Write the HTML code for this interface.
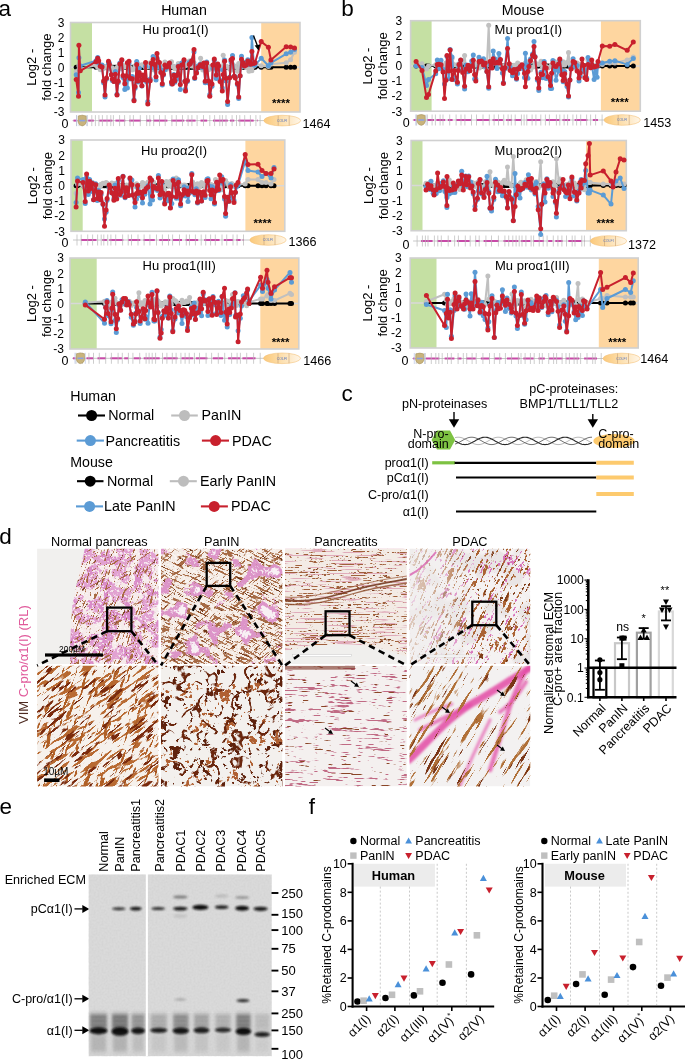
<!DOCTYPE html>
<html><head><meta charset="utf-8"><title>Figure</title>
<style>html,body{margin:0;padding:0;background:#fff;overflow:hidden;} svg{display:block;}</style></head>
<body><svg width="685" height="1060" viewBox="0 0 685 1060" font-family="'Liberation Sans', Arial, Helvetica, sans-serif">
<rect width="685" height="1060" fill="#fff"/>
<defs>
<linearGradient id="ellg" x1="0" x2="1" y1="0" y2="0"><stop offset="0" stop-color="#fbc97a"/><stop offset="0.55" stop-color="#fde2b5"/><stop offset="1" stop-color="#fff6e8"/></linearGradient>
<marker id="m000000" markerUnits="userSpaceOnUse" markerWidth="6" markerHeight="6" refX="3" refY="3" overflow="visible"><circle cx="3" cy="3" r="2.5" fill="#000000"/></marker>
<marker id="mc0c0c0" markerUnits="userSpaceOnUse" markerWidth="6" markerHeight="6" refX="3" refY="3" overflow="visible"><circle cx="3" cy="3" r="2.5" fill="#c0c0c0"/></marker>
<marker id="m5b9bd5" markerUnits="userSpaceOnUse" markerWidth="6" markerHeight="6" refX="3" refY="3" overflow="visible"><circle cx="3" cy="3" r="2.5" fill="#5b9bd5"/></marker>
<marker id="mc8202d" markerUnits="userSpaceOnUse" markerWidth="6" markerHeight="6" refX="3" refY="3" overflow="visible"><circle cx="3" cy="3" r="2.5" fill="#c8202d"/></marker>
</defs>
<text x="-1.6" y="15.9" font-size="22.5" text-anchor="start" fill="#000" font-weight="normal" >a</text>
<text x="341.2" y="15.8" font-size="22.5" text-anchor="start" fill="#000" font-weight="normal" >b</text>
<text x="184.0" y="14.9" font-size="14.2" text-anchor="middle" fill="#000" font-weight="normal" >Human</text>
<text x="523.0" y="14.9" font-size="14.2" text-anchor="middle" fill="#000" font-weight="normal" >Mouse</text>
<rect x="70.5" y="22.5" width="229.5" height="89.5" fill="#fff"/>
<rect x="70.5" y="22.5" width="21.5" height="89.5" fill="#c5e0a3"/>
<rect x="261.2" y="22.5" width="38.80000000000001" height="89.5" fill="#fed6a0"/>
<line x1="70.5" y1="67.25" x2="300" y2="67.25" stroke="#d8d8d8" stroke-width="1.5"/>
<rect x="70.5" y="22.5" width="229.5" height="89.5" fill="none" stroke="#d0d0d0" stroke-width="1.6"/>
<text x="64.5" y="26.8" font-size="12" text-anchor="end" fill="#000" font-weight="normal" >3</text>
<text x="64.5" y="41.7" font-size="12" text-anchor="end" fill="#000" font-weight="normal" >2</text>
<text x="64.5" y="56.6" font-size="12" text-anchor="end" fill="#000" font-weight="normal" >1</text>
<text x="64.5" y="71.5" font-size="12" text-anchor="end" fill="#000" font-weight="normal" >0</text>
<text x="64.5" y="86.5" font-size="12" text-anchor="end" fill="#000" font-weight="normal" >-1</text>
<text x="64.5" y="101.4" font-size="12" text-anchor="end" fill="#000" font-weight="normal" >-2</text>
<text x="64.5" y="116.3" font-size="12" text-anchor="end" fill="#000" font-weight="normal" >-3</text>
<text transform="translate(36.0,67.2) rotate(-90)" font-size="13" text-anchor="middle">Log2 -</text>
<text transform="translate(51.0,67.2) rotate(-90)" font-size="13" text-anchor="middle">fold change</text>
<text x="142.6" y="34.2" font-size="13" text-anchor="start" fill="#000" font-weight="normal" >Hu proα1(I)</text>
<text x="281.0" y="106.5" font-size="11.5" text-anchor="middle" fill="#000" font-weight="bold" >****</text>
<polyline points="76.2,67.2 78.5,67.2 78.9,67.2 80.3,67.2 96.0,67.2 97.7,67.2 98.7,67.2 100.3,67.2 102.0,67.2 103.6,67.2 105.0,67.2 106.5,67.2 108.5,67.2 109.3,67.2 111.4,67.2 112.3,67.2 113.9,67.2 115.4,67.2 117.0,67.2 118.2,67.2 119.9,67.2 121.8,67.2 123.0,67.2 124.8,67.2 126.5,67.2 127.4,67.2 129.0,67.2 130.1,67.2 132.3,67.2 134.0,67.2 135.1,67.2 136.7,67.2 137.9,67.2 139.2,67.2 141.9,67.2 142.6,67.2 144.3,67.2 145.6,67.2 146.7,67.2 147.8,67.2 150.2,67.2 151.2,67.2 153.1,67.2 154.1,67.2 156.0,67.2 157.0,67.2 159.4,67.2 160.8,67.2 162.3,67.2 163.4,67.2 164.9,67.2 166.4,67.2 168.1,67.2 169.4,67.2 171.5,67.2 172.4,67.2 173.9,67.2 174.8,67.2 176.5,67.2 178.3,67.2 180.3,67.2 181.8,67.2 184.0,67.2 184.9,67.2 185.5,67.2 187.4,67.2 189.3,67.2 190.3,67.2 191.6,67.2 194.0,67.2 194.7,67.2 196.5,67.2 198.1,67.2 200.0,67.2 200.6,67.2 202.8,67.2 203.9,67.2 205.2,67.2 206.7,67.2 208.7,67.2 209.8,67.2 212.0,67.2 212.8,67.2 214.3,67.2 216.3,67.2 217.8,67.2 218.6,67.2 220.1,67.2 222.3,67.2 223.2,67.2 224.6,67.2 226.0,67.2 227.6,67.2 229.8,67.2 231.0,67.2 232.5,67.2 234.3,67.2 235.3,67.2 237.4,67.2 238.7,67.2 240.1,67.2 241.5,67.2 243.2,67.2 244.4,67.2 246.3,67.2 247.8,67.2 249.0,67.2 250.8,67.2 251.9,67.2 253.9,67.2 255.0,67.2 261.2,67.2 268.4,67.2 270.9,67.2 286.2,67.2 290.6,67.2 294.5,67.2" fill="none" stroke="#000000" stroke-width="2" stroke-linejoin="round" marker-start="url(#m000000)" marker-mid="url(#m000000)" marker-end="url(#m000000)"/>
<polyline points="76.2,71.7 78.5,70.2 78.9,65.8 80.3,68.7 96.0,65.3 97.7,67.4 98.7,65.4 100.3,69.7 102.0,69.2 103.6,68.5 105.0,66.4 106.5,67.1 108.5,68.6 109.3,65.3 111.4,68.6 112.3,67.8 113.9,71.6 115.4,69.7 117.0,67.6 118.2,66.8 119.9,63.5 121.8,68.7 123.0,65.3 124.8,67.1 126.5,65.4 127.4,66.5 129.0,68.6 130.1,67.6 132.3,70.0 134.0,69.0 135.1,65.7 136.7,67.8 137.9,63.9 139.2,65.5 141.9,64.7 142.6,65.3 144.3,65.2 145.6,67.4 146.7,66.7 147.8,66.4 150.2,62.7 151.2,66.8 153.1,69.7 154.1,64.3 156.0,67.4 157.0,64.1 159.4,63.3 160.8,66.2 162.3,71.7 163.4,71.0 164.9,62.1 166.4,69.5 168.1,66.9 169.4,66.3 171.5,61.8 172.4,66.6 173.9,66.2 174.8,68.8 176.5,68.5 178.3,63.5 180.3,65.4 181.8,66.5 184.0,65.5 184.9,65.9 185.5,64.8 187.4,65.0 189.3,61.1 190.3,62.9 191.6,65.9 194.0,62.7 194.7,66.9 196.5,67.5 198.1,66.6 200.0,66.9 200.6,58.3 202.8,70.1 203.9,65.2 205.2,69.8 206.7,66.6 208.7,69.8 209.8,67.5 212.0,66.4 212.8,65.4 214.3,65.8 216.3,67.2 217.8,68.7 218.6,65.9 220.1,67.5 222.3,66.9 223.2,55.3 224.6,66.9 226.0,66.4 227.6,66.9 229.8,69.1 231.0,70.2 232.5,64.3 234.3,66.1 235.3,66.3 237.4,71.3 238.7,63.6 240.1,67.4 241.5,67.1 243.2,65.7 244.4,62.2 246.3,67.7 247.8,63.3 249.0,71.3 250.8,68.4 251.9,70.7 253.9,66.2 255.0,62.5 261.2,65.8 268.4,66.5 270.9,64.3 286.2,62.8 290.6,59.8 294.5,52.3" fill="none" stroke="#c0c0c0" stroke-width="2" stroke-linejoin="round" marker-start="url(#mc0c0c0)" marker-mid="url(#mc0c0c0)" marker-end="url(#mc0c0c0)"/>
<polyline points="76.2,74.7 78.5,92.6 78.9,57.7 80.3,65.8 96.0,60.8 97.7,57.5 98.7,62.9 100.3,66.1 102.0,65.1 103.6,82.8 105.0,97.1 106.5,78.9 108.5,63.0 109.3,63.1 111.4,74.8 112.3,80.5 113.9,81.3 115.4,71.5 117.0,94.2 118.2,82.6 119.9,63.0 121.8,60.6 123.0,77.6 124.8,89.6 126.5,78.1 127.4,88.1 129.0,63.5 130.1,78.9 132.3,76.6 134.0,99.7 135.1,88.3 136.7,61.6 137.9,81.9 139.2,68.3 141.9,85.9 142.6,76.3 144.3,80.0 145.6,66.2 146.7,82.1 147.8,101.6 150.2,79.1 151.2,67.2 153.1,56.4 154.1,67.9 156.0,79.9 157.0,57.9 159.4,66.8 160.8,70.1 162.3,85.0 163.4,74.9 164.9,69.8 166.4,67.9 168.1,66.5 169.4,63.2 171.5,84.1 172.4,81.8 173.9,74.6 174.8,82.2 176.5,79.3 178.3,66.1 180.3,89.6 181.8,63.1 184.0,61.0 184.9,80.9 185.5,89.1 187.4,81.6 189.3,62.5 190.3,63.2 191.6,60.7 194.0,52.0 194.7,78.6 196.5,71.7 198.1,66.0 200.0,64.3 200.6,66.7 202.8,67.8 203.9,66.0 205.2,82.8 206.7,62.1 208.7,82.9 209.8,94.6 212.0,86.3 212.8,68.6 214.3,60.4 216.3,78.4 217.8,65.9 218.6,69.7 220.1,80.3 222.3,88.0 223.2,69.9 224.6,60.0 226.0,80.9 227.6,104.5 229.8,76.9 231.0,61.7 232.5,55.5 234.3,76.1 235.3,76.9 237.4,84.5 238.7,98.6 240.1,76.0 241.5,56.3 243.2,66.3 244.4,62.8 246.3,62.7 247.8,59.8 249.0,64.5 250.8,60.6 251.9,37.4 253.9,64.7 255.0,65.2 261.2,58.3 268.4,65.8 270.9,62.8 286.2,53.8 290.6,52.3 294.5,49.4" fill="none" stroke="#5b9bd5" stroke-width="2" stroke-linejoin="round" marker-start="url(#m5b9bd5)" marker-mid="url(#m5b9bd5)" marker-end="url(#m5b9bd5)"/>
<polyline points="76.2,79.6 78.5,96.2 78.9,45.3 80.3,70.8 96.0,61.7 97.7,58.2 98.7,60.8 100.3,66.2 102.0,67.0 103.6,81.1 105.0,95.0 106.5,78.1 108.5,61.3 109.3,64.4 111.4,74.8 112.3,79.1 113.9,81.6 115.4,74.2 117.0,95.0 118.2,81.2 119.9,63.9 121.8,59.7 123.0,75.6 124.8,83.7 126.5,75.8 127.4,62.7 129.0,61.3 130.1,78.2 132.3,78.8 134.0,100.8 135.1,86.6 136.7,64.4 137.9,81.1 139.2,72.4 141.9,85.7 142.6,75.0 144.3,79.7 145.6,62.5 146.7,80.2 147.8,104.1 150.2,80.7 151.2,63.2 153.1,59.6 154.1,64.2 156.0,76.7 157.0,53.5 159.4,62.6 160.8,72.5 162.3,83.7 163.4,74.3 164.9,65.1 166.4,67.1 168.1,66.2 169.4,63.1 171.5,82.1 172.4,84.1 173.9,75.2 174.8,81.1 176.5,75.6 178.3,66.6 180.3,84.6 181.8,65.1 184.0,59.8 184.9,81.4 185.5,91.1 187.4,80.6 189.3,64.6 190.3,63.4 191.6,61.1 194.0,49.6 194.7,77.7 196.5,73.0 198.1,67.6 200.0,65.5 200.6,64.8 202.8,66.4 203.9,63.0 205.2,81.3 206.7,63.1 208.7,81.0 209.8,96.3 212.0,84.0 212.8,65.0 214.3,59.1 216.3,74.9 217.8,63.9 218.6,66.0 220.1,81.4 222.3,91.1 223.2,74.4 224.6,61.3 226.0,78.2 227.6,101.6 229.8,77.8 231.0,59.8 232.5,58.5 234.3,76.3 235.3,77.9 237.4,83.6 238.7,97.1 240.1,75.8 241.5,59.2 243.2,62.9 244.4,66.1 246.3,64.9 247.8,61.1 249.0,62.2 250.8,64.2 251.9,51.6 253.9,63.5 255.0,62.8 261.2,41.6 268.4,47.3 270.9,59.9 286.2,46.8 290.6,47.1 294.5,47.9" fill="none" stroke="#c8202d" stroke-width="2" stroke-linejoin="round" marker-start="url(#mc8202d)" marker-mid="url(#mc8202d)" marker-end="url(#mc8202d)"/>
<line x1="72.5" y1="120.6" x2="267.8" y2="120.6" stroke="#c8c8c8" stroke-width="1"/>
<line x1="73.5" y1="120.6" x2="77.2" y2="120.6" stroke="#c84aa8" stroke-width="2"/>
<line x1="88.2" y1="120.6" x2="93.8" y2="120.6" stroke="#c84aa8" stroke-width="2"/>
<line x1="99.2" y1="120.6" x2="112.4" y2="120.6" stroke="#c84aa8" stroke-width="2"/>
<line x1="115.4" y1="120.6" x2="125.3" y2="120.6" stroke="#c84aa8" stroke-width="2"/>
<line x1="129.1" y1="120.6" x2="140.9" y2="120.6" stroke="#c84aa8" stroke-width="2"/>
<line x1="146.1" y1="120.6" x2="151.2" y2="120.6" stroke="#c84aa8" stroke-width="2"/>
<line x1="153.3" y1="120.6" x2="167.4" y2="120.6" stroke="#c84aa8" stroke-width="2"/>
<line x1="171.1" y1="120.6" x2="184.3" y2="120.6" stroke="#c84aa8" stroke-width="2"/>
<line x1="186.3" y1="120.6" x2="195.6" y2="120.6" stroke="#c84aa8" stroke-width="2"/>
<line x1="200.5" y1="120.6" x2="207.2" y2="120.6" stroke="#c84aa8" stroke-width="2"/>
<line x1="213.0" y1="120.6" x2="227.8" y2="120.6" stroke="#c84aa8" stroke-width="2"/>
<line x1="230.0" y1="120.6" x2="234.3" y2="120.6" stroke="#c84aa8" stroke-width="2"/>
<line x1="238.4" y1="120.6" x2="253.7" y2="120.6" stroke="#c84aa8" stroke-width="2"/>
<line x1="257.2" y1="120.6" x2="257.8" y2="120.6" stroke="#c84aa8" stroke-width="2"/>
<line x1="76.5" y1="115.1" x2="76.5" y2="126.1" stroke="#b8b8b8" stroke-width="0.7"/>
<line x1="79.1" y1="115.1" x2="79.1" y2="126.1" stroke="#b8b8b8" stroke-width="0.7"/>
<line x1="82.6" y1="115.1" x2="82.6" y2="126.1" stroke="#b8b8b8" stroke-width="0.7"/>
<line x1="87.1" y1="115.1" x2="87.1" y2="126.1" stroke="#b8b8b8" stroke-width="0.7"/>
<line x1="91.8" y1="115.1" x2="91.8" y2="126.1" stroke="#b8b8b8" stroke-width="0.7"/>
<line x1="95.4" y1="115.1" x2="95.4" y2="126.1" stroke="#b8b8b8" stroke-width="0.7"/>
<line x1="98.9" y1="115.1" x2="98.9" y2="126.1" stroke="#b8b8b8" stroke-width="0.7"/>
<line x1="102.4" y1="115.1" x2="102.4" y2="126.1" stroke="#b8b8b8" stroke-width="0.7"/>
<line x1="107.0" y1="115.1" x2="107.0" y2="126.1" stroke="#b8b8b8" stroke-width="0.7"/>
<line x1="110.8" y1="115.1" x2="110.8" y2="126.1" stroke="#b8b8b8" stroke-width="0.7"/>
<line x1="113.4" y1="115.1" x2="113.4" y2="126.1" stroke="#b8b8b8" stroke-width="0.7"/>
<line x1="119.6" y1="115.1" x2="119.6" y2="126.1" stroke="#b8b8b8" stroke-width="0.7"/>
<line x1="124.6" y1="115.1" x2="124.6" y2="126.1" stroke="#b8b8b8" stroke-width="0.7"/>
<line x1="130.0" y1="115.1" x2="130.0" y2="126.1" stroke="#b8b8b8" stroke-width="0.7"/>
<line x1="133.4" y1="115.1" x2="133.4" y2="126.1" stroke="#b8b8b8" stroke-width="0.7"/>
<line x1="140.3" y1="115.1" x2="140.3" y2="126.1" stroke="#b8b8b8" stroke-width="0.7"/>
<line x1="146.7" y1="115.1" x2="146.7" y2="126.1" stroke="#b8b8b8" stroke-width="0.7"/>
<line x1="149.8" y1="115.1" x2="149.8" y2="126.1" stroke="#b8b8b8" stroke-width="0.7"/>
<line x1="153.7" y1="115.1" x2="153.7" y2="126.1" stroke="#b8b8b8" stroke-width="0.7"/>
<line x1="159.5" y1="115.1" x2="159.5" y2="126.1" stroke="#b8b8b8" stroke-width="0.7"/>
<line x1="165.2" y1="115.1" x2="165.2" y2="126.1" stroke="#b8b8b8" stroke-width="0.7"/>
<line x1="171.9" y1="115.1" x2="171.9" y2="126.1" stroke="#b8b8b8" stroke-width="0.7"/>
<line x1="176.3" y1="115.1" x2="176.3" y2="126.1" stroke="#b8b8b8" stroke-width="0.7"/>
<line x1="182.5" y1="115.1" x2="182.5" y2="126.1" stroke="#b8b8b8" stroke-width="0.7"/>
<line x1="188.1" y1="115.1" x2="188.1" y2="126.1" stroke="#b8b8b8" stroke-width="0.7"/>
<line x1="191.9" y1="115.1" x2="191.9" y2="126.1" stroke="#b8b8b8" stroke-width="0.7"/>
<line x1="197.1" y1="115.1" x2="197.1" y2="126.1" stroke="#b8b8b8" stroke-width="0.7"/>
<line x1="203.5" y1="115.1" x2="203.5" y2="126.1" stroke="#b8b8b8" stroke-width="0.7"/>
<line x1="209.8" y1="115.1" x2="209.8" y2="126.1" stroke="#b8b8b8" stroke-width="0.7"/>
<line x1="214.6" y1="115.1" x2="214.6" y2="126.1" stroke="#b8b8b8" stroke-width="0.7"/>
<line x1="219.8" y1="115.1" x2="219.8" y2="126.1" stroke="#b8b8b8" stroke-width="0.7"/>
<line x1="222.4" y1="115.1" x2="222.4" y2="126.1" stroke="#b8b8b8" stroke-width="0.7"/>
<line x1="226.0" y1="115.1" x2="226.0" y2="126.1" stroke="#b8b8b8" stroke-width="0.7"/>
<line x1="232.1" y1="115.1" x2="232.1" y2="126.1" stroke="#b8b8b8" stroke-width="0.7"/>
<line x1="236.5" y1="115.1" x2="236.5" y2="126.1" stroke="#b8b8b8" stroke-width="0.7"/>
<line x1="239.8" y1="115.1" x2="239.8" y2="126.1" stroke="#b8b8b8" stroke-width="0.7"/>
<line x1="244.7" y1="115.1" x2="244.7" y2="126.1" stroke="#b8b8b8" stroke-width="0.7"/>
<line x1="250.4" y1="115.1" x2="250.4" y2="126.1" stroke="#b8b8b8" stroke-width="0.7"/>
<line x1="255.9" y1="115.1" x2="255.9" y2="126.1" stroke="#b8b8b8" stroke-width="0.7"/>
<line x1="260.1" y1="115.1" x2="260.1" y2="126.1" stroke="#b8b8b8" stroke-width="0.7"/>
<line x1="76.7" y1="115.1" x2="76.7" y2="126.1" stroke="#b8c4e8" stroke-width="0.7"/>
<line x1="87.0" y1="115.1" x2="87.0" y2="126.1" stroke="#b8c4e8" stroke-width="0.7"/>
<path d="M78.3,116.0 Q82.2,114.39999999999999 86.10000000000001,116.0 L86.3,122.1 Q85.2,125.89999999999999 82.2,125.89999999999999 Q79.2,125.89999999999999 78.10000000000001,122.1 Z" fill="#c9b47c" stroke="#a8925a" stroke-width="0.6"/>
<line x1="79.2" y1="120.6" x2="85.2" y2="120.6" stroke="#8fa2dc" stroke-width="1.6"/>
<ellipse cx="282.2" cy="120.6" rx="18.4" ry="5.3" fill="url(#ellg)" stroke="#f5c37a" stroke-width="0.6"/>
<line x1="278.2" y1="115.6" x2="278.2" y2="125.6" stroke="#c8a070" stroke-width="0.6"/>
<line x1="289.2" y1="115.6" x2="289.2" y2="125.6" stroke="#c8a070" stroke-width="0.6"/>
<text x="282.2" y="121.9" font-size="3.5" fill="#5070c0" text-anchor="middle">COLFI</text>
<text x="68.5" y="127.7" font-size="12.5" text-anchor="end" fill="#000" font-weight="normal" >0</text>
<text x="302.5" y="127.9" font-size="12.6" text-anchor="start" fill="#000" font-weight="normal" >1464</text>
<rect x="71" y="140" width="213.8" height="91.30000000000001" fill="#fff"/>
<rect x="71" y="140" width="11.700000000000003" height="91.30000000000001" fill="#c5e0a3"/>
<rect x="245.4" y="140" width="39.400000000000006" height="91.30000000000001" fill="#fed6a0"/>
<line x1="71" y1="185.65" x2="284.8" y2="185.65" stroke="#d8d8d8" stroke-width="1.5"/>
<rect x="71" y="140" width="213.8" height="91.30000000000001" fill="none" stroke="#d0d0d0" stroke-width="1.6"/>
<text x="65.0" y="144.3" font-size="12" text-anchor="end" fill="#000" font-weight="normal" >3</text>
<text x="65.0" y="159.5" font-size="12" text-anchor="end" fill="#000" font-weight="normal" >2</text>
<text x="65.0" y="174.7" font-size="12" text-anchor="end" fill="#000" font-weight="normal" >1</text>
<text x="65.0" y="190.0" font-size="12" text-anchor="end" fill="#000" font-weight="normal" >0</text>
<text x="65.0" y="205.2" font-size="12" text-anchor="end" fill="#000" font-weight="normal" >-1</text>
<text x="65.0" y="220.4" font-size="12" text-anchor="end" fill="#000" font-weight="normal" >-2</text>
<text x="65.0" y="235.6" font-size="12" text-anchor="end" fill="#000" font-weight="normal" >-3</text>
<text transform="translate(36.5,185.7) rotate(-90)" font-size="13" text-anchor="middle">Log2 -</text>
<text transform="translate(51.5,185.7) rotate(-90)" font-size="13" text-anchor="middle">fold change</text>
<text x="141.0" y="155.2" font-size="13" text-anchor="start" fill="#000" font-weight="normal" >Hu proα2(I)</text>
<text x="262.5" y="226.6" font-size="11.5" text-anchor="middle" fill="#000" font-weight="bold" >****</text>
<polyline points="76.1,185.7 77.5,185.7 83.0,185.7 85.2,185.7 86.6,185.7 88.3,185.7 89.6,185.7 90.8,185.7 92.4,185.7 93.6,185.7 95.7,185.7 97.3,185.7 98.6,185.7 100.5,185.7 101.1,185.7 103.0,185.7 104.5,185.7 106.1,185.7 107.1,185.7 109.2,185.7 110.2,185.7 111.8,185.7 113.9,185.7 115.0,185.7 116.7,185.7 118.3,185.7 119.7,185.7 121.0,185.7 123.0,185.7 123.9,185.7 125.1,185.7 126.6,185.7 128.6,185.7 130.0,185.7 131.9,185.7 132.6,185.7 135.0,185.7 136.5,185.7 137.6,185.7 138.9,185.7 140.2,185.7 142.5,185.7 143.7,185.7 144.8,185.7 146.2,185.7 148.0,185.7 150.0,185.7 151.5,185.7 152.5,185.7 153.7,185.7 155.2,185.7 157.5,185.7 158.4,185.7 160.0,185.7 161.8,185.7 162.8,185.7 164.7,185.7 166.4,185.7 167.7,185.7 168.8,185.7 170.4,185.7 171.8,185.7 173.1,185.7 174.9,185.7 176.3,185.7 178.5,185.7 179.2,185.7 180.6,185.7 182.4,185.7 184.1,185.7 185.6,185.7 187.4,185.7 188.0,185.7 189.6,185.7 191.8,185.7 192.6,185.7 194.9,185.7 196.3,185.7 197.5,185.7 199.2,185.7 200.4,185.7 201.5,185.7 203.7,185.7 205.1,185.7 207.0,185.7 208.0,185.7 209.7,185.7 211.0,185.7 212.2,185.7 214.5,185.7 215.5,185.7 216.7,185.7 218.7,185.7 219.7,185.7 221.7,185.7 223.0,185.7 224.5,185.7 225.6,185.7 227.8,185.7 228.9,185.7 230.6,185.7 231.8,185.7 234.0,185.7 235.4,185.7 236.1,185.7 238.0,185.7 245.2,185.7 248.0,185.7 258.0,185.7 262.0,185.7 266.0,185.7 271.0,185.7 274.0,185.7" fill="none" stroke="#000000" stroke-width="2" stroke-linejoin="round" marker-start="url(#m000000)" marker-mid="url(#m000000)" marker-end="url(#m000000)"/>
<polyline points="76.1,193.3 77.5,184.1 83.0,185.7 85.2,183.7 86.6,187.6 88.3,181.1 89.6,183.8 90.8,184.5 92.4,182.5 93.6,187.4 95.7,187.6 97.3,185.5 98.6,185.8 100.5,186.0 101.1,184.2 103.0,183.3 104.5,183.5 106.1,182.5 107.1,183.2 109.2,187.5 110.2,184.8 111.8,182.9 113.9,184.0 115.0,183.5 116.7,183.2 118.3,188.1 119.7,185.6 121.0,188.1 123.0,187.2 123.9,187.0 125.1,187.3 126.6,184.9 128.6,185.4 130.0,185.2 131.9,184.1 132.6,185.9 135.0,186.0 136.5,183.8 137.6,184.9 138.9,188.4 140.2,185.9 142.5,182.4 143.7,186.6 144.8,183.8 146.2,188.4 148.0,182.0 150.0,187.1 151.5,184.3 152.5,184.2 153.7,182.3 155.2,187.2 157.5,188.4 158.4,186.6 160.0,183.1 161.8,185.5 162.8,185.8 164.7,189.9 166.4,181.6 167.7,184.1 168.8,185.6 170.4,181.2 171.8,186.4 173.1,186.7 174.9,185.4 176.3,178.0 178.5,182.7 179.2,184.6 180.6,184.7 182.4,185.4 184.1,185.1 185.6,185.2 187.4,188.9 188.0,188.6 189.6,187.8 191.8,186.3 192.6,182.1 194.9,184.4 196.3,186.5 197.5,183.8 199.2,185.9 200.4,186.4 201.5,182.6 203.7,183.9 205.1,186.2 207.0,187.9 208.0,187.0 209.7,186.7 211.0,184.4 212.2,185.2 214.5,188.6 215.5,179.6 216.7,189.4 218.7,183.1 219.7,183.4 221.7,189.7 223.0,185.2 224.5,181.4 225.6,180.6 227.8,183.4 228.9,186.0 230.6,187.6 231.8,183.6 234.0,185.8 235.4,185.0 236.1,185.9 238.0,184.5 245.2,184.1 248.0,179.6 258.0,179.6 262.0,182.6 266.0,182.6 271.0,184.1 274.0,179.6" fill="none" stroke="#c0c0c0" stroke-width="2" stroke-linejoin="round" marker-start="url(#mc0c0c0)" marker-mid="url(#mc0c0c0)" marker-end="url(#mc0c0c0)"/>
<polyline points="76.1,202.4 77.5,178.0 83.0,179.6 85.2,203.6 86.6,177.3 88.3,194.4 89.6,179.6 90.8,191.6 92.4,182.9 93.6,199.8 95.7,183.8 97.3,200.4 98.6,190.6 100.5,200.0 101.1,194.5 103.0,204.6 104.5,219.1 106.1,212.2 107.1,200.3 109.2,186.7 110.2,189.8 111.8,192.9 113.9,198.5 115.0,184.9 116.7,197.8 118.3,180.7 119.7,191.2 121.0,195.2 123.0,176.3 123.9,190.6 125.1,197.7 126.6,189.7 128.6,195.3 130.0,178.9 131.9,180.1 132.6,195.0 135.0,207.0 136.5,199.0 137.6,187.8 138.9,192.5 140.2,195.5 142.5,203.1 143.7,193.1 144.8,194.3 146.2,188.9 148.0,185.8 150.0,203.9 151.5,179.9 152.5,200.1 153.7,187.8 155.2,188.7 157.5,190.5 158.4,175.6 160.0,198.1 161.8,183.0 162.8,193.8 164.7,202.5 166.4,196.1 167.7,200.8 168.8,193.5 170.4,207.5 171.8,203.6 173.1,179.0 174.9,184.0 176.3,198.3 178.5,179.7 179.2,198.0 180.6,205.7 182.4,196.1 184.1,186.8 185.6,195.9 187.4,188.3 188.0,201.6 189.6,192.7 191.8,173.4 192.6,192.1 194.9,194.8 196.3,188.8 197.5,203.1 199.2,193.6 200.4,193.4 201.5,200.9 203.7,194.1 205.1,197.6 207.0,179.2 208.0,178.8 209.7,186.2 211.0,198.8 212.2,186.7 214.5,204.0 215.5,189.3 216.7,187.4 218.7,190.4 219.7,182.2 221.7,176.8 223.0,183.4 224.5,198.9 225.6,216.2 227.8,197.5 228.9,201.5 230.6,184.8 231.8,197.8 234.0,200.6 235.4,192.6 236.1,187.2 238.0,185.2 245.2,161.3 248.0,170.4 258.0,172.0 262.0,176.5 266.0,173.5 271.0,178.0 274.0,167.4" fill="none" stroke="#5b9bd5" stroke-width="2" stroke-linejoin="round" marker-start="url(#m5b9bd5)" marker-mid="url(#m5b9bd5)" marker-end="url(#m5b9bd5)"/>
<polyline points="76.1,207.0 77.5,181.1 83.0,182.6 85.2,201.6 86.6,174.1 88.3,191.0 89.6,181.2 90.8,188.5 92.4,183.5 93.6,199.7 95.7,184.7 97.3,198.6 98.6,192.1 100.5,199.8 101.1,192.4 103.0,203.9 104.5,226.3 106.1,209.9 107.1,198.5 109.2,185.0 110.2,187.5 111.8,192.8 113.9,200.2 115.0,188.3 116.7,199.1 118.3,178.6 119.7,194.5 121.0,191.9 123.0,176.5 123.9,187.8 125.1,197.0 126.6,187.8 128.6,195.6 130.0,178.0 131.9,184.7 132.6,195.0 135.0,202.4 136.5,193.5 137.6,185.4 138.9,193.2 140.2,192.3 142.5,197.8 143.7,191.3 144.8,191.7 146.2,188.6 148.0,187.1 150.0,178.0 151.5,180.3 152.5,196.1 153.7,186.6 155.2,187.8 157.5,189.0 158.4,178.0 160.0,194.8 161.8,181.5 162.8,193.0 164.7,203.9 166.4,195.0 167.7,193.6 168.8,193.3 170.4,207.9 171.8,196.6 173.1,180.5 174.9,184.4 176.3,196.7 178.5,182.2 179.2,193.5 180.6,203.9 182.4,194.7 184.1,189.7 185.6,192.9 187.4,191.0 188.0,194.6 189.6,191.0 191.8,174.7 192.6,191.5 194.9,193.0 196.3,191.0 197.5,202.2 199.2,191.7 200.4,192.4 201.5,200.9 203.7,191.8 205.1,195.2 207.0,181.1 208.0,180.6 209.7,190.5 211.0,194.8 212.2,190.0 214.5,202.4 215.5,191.0 216.7,182.2 218.7,189.5 219.7,175.0 221.7,181.0 223.0,179.6 224.5,196.4 225.6,213.5 227.8,197.3 228.9,201.3 230.6,186.8 231.8,192.8 234.0,202.4 235.4,192.3 236.1,185.2 238.0,182.6 245.2,154.5 248.0,164.5 258.0,164.3 262.0,170.4 266.0,173.5 271.0,173.5 274.0,168.9" fill="none" stroke="#c8202d" stroke-width="2" stroke-linejoin="round" marker-start="url(#mc8202d)" marker-mid="url(#mc8202d)" marker-end="url(#mc8202d)"/>
<line x1="73" y1="240" x2="253.8" y2="240" stroke="#c8c8c8" stroke-width="1"/>
<line x1="81.0" y1="240" x2="96.5" y2="240" stroke="#c84aa8" stroke-width="2"/>
<line x1="102.3" y1="240" x2="106.9" y2="240" stroke="#c84aa8" stroke-width="2"/>
<line x1="109.3" y1="240" x2="123.3" y2="240" stroke="#c84aa8" stroke-width="2"/>
<line x1="128.3" y1="240" x2="140.3" y2="240" stroke="#c84aa8" stroke-width="2"/>
<line x1="143.5" y1="240" x2="154.8" y2="240" stroke="#c84aa8" stroke-width="2"/>
<line x1="159.2" y1="240" x2="170.2" y2="240" stroke="#c84aa8" stroke-width="2"/>
<line x1="172.8" y1="240" x2="182.0" y2="240" stroke="#c84aa8" stroke-width="2"/>
<line x1="185.6" y1="240" x2="198.2" y2="240" stroke="#c84aa8" stroke-width="2"/>
<line x1="204.2" y1="240" x2="219.6" y2="240" stroke="#c84aa8" stroke-width="2"/>
<line x1="223.8" y1="240" x2="233.1" y2="240" stroke="#c84aa8" stroke-width="2"/>
<line x1="236.2" y1="240" x2="240.6" y2="240" stroke="#c84aa8" stroke-width="2"/>
<line x1="242.7" y1="240" x2="243.8" y2="240" stroke="#c84aa8" stroke-width="2"/>
<line x1="77.0" y1="234.5" x2="77.0" y2="245.5" stroke="#b8b8b8" stroke-width="0.7"/>
<line x1="81.2" y1="234.5" x2="81.2" y2="245.5" stroke="#b8b8b8" stroke-width="0.7"/>
<line x1="87.7" y1="234.5" x2="87.7" y2="245.5" stroke="#b8b8b8" stroke-width="0.7"/>
<line x1="92.6" y1="234.5" x2="92.6" y2="245.5" stroke="#b8b8b8" stroke-width="0.7"/>
<line x1="97.6" y1="234.5" x2="97.6" y2="245.5" stroke="#b8b8b8" stroke-width="0.7"/>
<line x1="101.2" y1="234.5" x2="101.2" y2="245.5" stroke="#b8b8b8" stroke-width="0.7"/>
<line x1="103.8" y1="234.5" x2="103.8" y2="245.5" stroke="#b8b8b8" stroke-width="0.7"/>
<line x1="107.7" y1="234.5" x2="107.7" y2="245.5" stroke="#b8b8b8" stroke-width="0.7"/>
<line x1="110.9" y1="234.5" x2="110.9" y2="245.5" stroke="#b8b8b8" stroke-width="0.7"/>
<line x1="115.7" y1="234.5" x2="115.7" y2="245.5" stroke="#b8b8b8" stroke-width="0.7"/>
<line x1="122.6" y1="234.5" x2="122.6" y2="245.5" stroke="#b8b8b8" stroke-width="0.7"/>
<line x1="128.2" y1="234.5" x2="128.2" y2="245.5" stroke="#b8b8b8" stroke-width="0.7"/>
<line x1="131.5" y1="234.5" x2="131.5" y2="245.5" stroke="#b8b8b8" stroke-width="0.7"/>
<line x1="138.0" y1="234.5" x2="138.0" y2="245.5" stroke="#b8b8b8" stroke-width="0.7"/>
<line x1="144.1" y1="234.5" x2="144.1" y2="245.5" stroke="#b8b8b8" stroke-width="0.7"/>
<line x1="149.9" y1="234.5" x2="149.9" y2="245.5" stroke="#b8b8b8" stroke-width="0.7"/>
<line x1="156.5" y1="234.5" x2="156.5" y2="245.5" stroke="#b8b8b8" stroke-width="0.7"/>
<line x1="162.4" y1="234.5" x2="162.4" y2="245.5" stroke="#b8b8b8" stroke-width="0.7"/>
<line x1="168.5" y1="234.5" x2="168.5" y2="245.5" stroke="#b8b8b8" stroke-width="0.7"/>
<line x1="172.6" y1="234.5" x2="172.6" y2="245.5" stroke="#b8b8b8" stroke-width="0.7"/>
<line x1="179.5" y1="234.5" x2="179.5" y2="245.5" stroke="#b8b8b8" stroke-width="0.7"/>
<line x1="186.3" y1="234.5" x2="186.3" y2="245.5" stroke="#b8b8b8" stroke-width="0.7"/>
<line x1="189.5" y1="234.5" x2="189.5" y2="245.5" stroke="#b8b8b8" stroke-width="0.7"/>
<line x1="195.4" y1="234.5" x2="195.4" y2="245.5" stroke="#b8b8b8" stroke-width="0.7"/>
<line x1="201.2" y1="234.5" x2="201.2" y2="245.5" stroke="#b8b8b8" stroke-width="0.7"/>
<line x1="205.7" y1="234.5" x2="205.7" y2="245.5" stroke="#b8b8b8" stroke-width="0.7"/>
<line x1="210.6" y1="234.5" x2="210.6" y2="245.5" stroke="#b8b8b8" stroke-width="0.7"/>
<line x1="215.3" y1="234.5" x2="215.3" y2="245.5" stroke="#b8b8b8" stroke-width="0.7"/>
<line x1="222.0" y1="234.5" x2="222.0" y2="245.5" stroke="#b8b8b8" stroke-width="0.7"/>
<line x1="226.7" y1="234.5" x2="226.7" y2="245.5" stroke="#b8b8b8" stroke-width="0.7"/>
<line x1="233.0" y1="234.5" x2="233.0" y2="245.5" stroke="#b8b8b8" stroke-width="0.7"/>
<line x1="237.1" y1="234.5" x2="237.1" y2="245.5" stroke="#b8b8b8" stroke-width="0.7"/>
<line x1="243.5" y1="234.5" x2="243.5" y2="245.5" stroke="#b8b8b8" stroke-width="0.7"/>
<line x1="-105.5" y1="234.5" x2="-105.5" y2="245.5" stroke="#b8c4e8" stroke-width="0.7"/>
<line x1="-95.2" y1="234.5" x2="-95.2" y2="245.5" stroke="#b8c4e8" stroke-width="0.7"/>
<path d="M-103.9,235.4 Q-100,233.8 -96.1,235.4 L-95.9,241.5 Q-97,245.3 -100,245.3 Q-103,245.3 -104.1,241.5 Z" fill="#c9b47c" stroke="#a8925a" stroke-width="0.6"/>
<line x1="-103" y1="240" x2="-97" y2="240" stroke="#8fa2dc" stroke-width="1.6"/>
<ellipse cx="268.0" cy="240.0" rx="18.2" ry="5.3" fill="url(#ellg)" stroke="#f5c37a" stroke-width="0.6"/>
<line x1="264.0" y1="235" x2="264.0" y2="245" stroke="#c8a070" stroke-width="0.6"/>
<line x1="275.0" y1="235" x2="275.0" y2="245" stroke="#c8a070" stroke-width="0.6"/>
<text x="268.0" y="241.3" font-size="3.5" fill="#5070c0" text-anchor="middle">COLFI</text>
<text x="68.5" y="246.5" font-size="12.5" text-anchor="end" fill="#000" font-weight="normal" >0</text>
<text x="288.5" y="245.7" font-size="12.6" text-anchor="start" fill="#000" font-weight="normal" >1366</text>
<rect x="70" y="258" width="228.8" height="91" fill="#fff"/>
<rect x="70" y="258" width="26.700000000000003" height="91" fill="#c5e0a3"/>
<rect x="260.3" y="258" width="38.5" height="91" fill="#fed6a0"/>
<line x1="70" y1="303.5" x2="298.8" y2="303.5" stroke="#d8d8d8" stroke-width="1.5"/>
<rect x="70" y="258" width="228.8" height="91" fill="none" stroke="#d0d0d0" stroke-width="1.6"/>
<text x="64.0" y="262.3" font-size="12" text-anchor="end" fill="#000" font-weight="normal" >3</text>
<text x="64.0" y="277.5" font-size="12" text-anchor="end" fill="#000" font-weight="normal" >2</text>
<text x="64.0" y="292.6" font-size="12" text-anchor="end" fill="#000" font-weight="normal" >1</text>
<text x="64.0" y="307.8" font-size="12" text-anchor="end" fill="#000" font-weight="normal" >0</text>
<text x="64.0" y="323.0" font-size="12" text-anchor="end" fill="#000" font-weight="normal" >-1</text>
<text x="64.0" y="338.1" font-size="12" text-anchor="end" fill="#000" font-weight="normal" >-2</text>
<text x="64.0" y="353.3" font-size="12" text-anchor="end" fill="#000" font-weight="normal" >-3</text>
<text transform="translate(35.5,303.5) rotate(-90)" font-size="13" text-anchor="middle">Log2 -</text>
<text transform="translate(50.5,303.5) rotate(-90)" font-size="13" text-anchor="middle">fold change</text>
<text x="142.5" y="270.2" font-size="13" text-anchor="start" fill="#000" font-weight="normal" >Hu proα1(III)</text>
<text x="280.6" y="346.0" font-size="11.5" text-anchor="middle" fill="#000" font-weight="bold" >****</text>
<polyline points="85.3,303.5 104.5,303.5 105.7,303.5 107.0,303.5 108.0,303.5 111.0,303.5 111.8,303.5 112.7,303.5 115.0,303.5 116.3,303.5 117.6,303.5 118.9,303.5 120.6,303.5 122.0,303.5 123.6,303.5 125.5,303.5 126.7,303.5 128.1,303.5 129.3,303.5 131.3,303.5 133.4,303.5 135.0,303.5 135.8,303.5 136.6,303.5 138.9,303.5 140.2,303.5 141.6,303.5 143.1,303.5 145.0,303.5 145.7,303.5 148.0,303.5 149.4,303.5 150.7,303.5 152.0,303.5 153.9,303.5 154.7,303.5 157.0,303.5 158.0,303.5 160.0,303.5 161.2,303.5 162.3,303.5 163.9,303.5 165.4,303.5 166.7,303.5 168.4,303.5 169.8,303.5 171.2,303.5 172.8,303.5 175.0,303.5 176.2,303.5 177.7,303.5 178.5,303.5 180.1,303.5 182.0,303.5 183.2,303.5 184.7,303.5 186.5,303.5 187.5,303.5 189.6,303.5 191.4,303.5 192.0,303.5 194.2,303.5 195.4,303.5 196.6,303.5 198.5,303.5 200.0,303.5 201.6,303.5 203.2,303.5 204.1,303.5 206.0,303.5 207.9,303.5 209.3,303.5 210.0,303.5 212.1,303.5 213.0,303.5 215.4,303.5 216.6,303.5 218.5,303.5 219.6,303.5 221.0,303.5 222.1,303.5 224.5,303.5 225.9,303.5 227.2,303.5 228.7,303.5 229.7,303.5 231.4,303.5 232.5,303.5 235.0,303.5 235.5,303.5 236.5,303.5 237.4,303.5 238.1,303.5 240.3,303.5 241.5,303.5 243.3,303.5 244.6,303.5 246.6,303.5 247.6,303.5 249.0,303.5 260.6,303.5 262.5,303.5 267.0,303.5 268.0,303.5 271.0,303.5 274.5,303.5 290.0,303.5 291.5,303.5" fill="none" stroke="#000000" stroke-width="2" stroke-linejoin="round" marker-start="url(#m000000)" marker-mid="url(#m000000)" marker-end="url(#m000000)"/>
<polyline points="85.3,302.7 104.5,301.2 105.7,304.1 107.0,303.4 108.0,305.6 111.0,302.2 111.8,305.3 112.7,305.6 115.0,298.3 116.3,302.4 117.6,303.7 118.9,303.7 120.6,305.8 122.0,303.3 123.6,298.9 125.5,304.2 126.7,301.8 128.1,303.5 129.3,301.3 131.3,305.4 133.4,303.1 135.0,302.9 135.8,303.0 136.6,304.4 138.9,292.7 140.2,305.0 141.6,302.7 143.1,304.6 145.0,300.4 145.7,303.6 148.0,302.5 149.4,304.5 150.7,302.4 152.0,300.7 153.9,304.9 154.7,299.4 157.0,300.2 158.0,301.0 160.0,303.1 161.2,306.1 162.3,304.4 163.9,303.2 165.4,301.8 166.7,302.6 168.4,304.3 169.8,300.1 171.2,304.3 172.8,298.5 175.0,300.4 176.2,301.5 177.7,303.6 178.5,306.3 180.1,304.8 182.0,300.3 183.2,302.6 184.7,302.5 186.5,301.0 187.5,301.8 189.6,297.4 191.4,306.9 192.0,306.8 194.2,305.6 195.4,307.1 196.6,302.8 198.5,306.8 200.0,305.7 201.6,303.3 203.2,299.6 204.1,303.5 206.0,301.1 207.9,301.8 209.3,301.1 210.0,300.7 212.1,301.1 213.0,299.9 215.4,303.9 216.6,302.8 218.5,303.8 219.6,303.9 221.0,303.7 222.1,305.8 224.5,303.7 225.9,300.5 227.2,306.3 228.7,309.7 229.7,301.1 231.4,302.8 232.5,294.4 235.0,301.9 235.5,302.4 236.5,305.5 237.4,301.8 238.1,301.5 240.3,302.0 241.5,303.6 243.3,301.6 244.6,303.2 246.6,305.7 247.6,303.2 249.0,302.1 260.6,298.9 262.5,298.9 267.0,295.9 268.0,294.4 271.0,300.5 274.5,300.5 290.0,293.3 291.5,294.4" fill="none" stroke="#c0c0c0" stroke-width="2" stroke-linejoin="round" marker-start="url(#mc0c0c0)" marker-mid="url(#mc0c0c0)" marker-end="url(#mc0c0c0)"/>
<polyline points="85.3,302.0 104.5,323.2 105.7,307.3 107.0,300.4 108.0,315.5 111.0,323.8 111.8,310.1 112.7,292.0 115.0,320.4 116.3,332.4 117.6,319.7 118.9,305.2 120.6,309.9 122.0,299.7 123.6,300.2 125.5,304.5 126.7,301.9 128.1,301.4 129.3,302.9 131.3,317.2 133.4,325.3 135.0,321.1 135.8,313.1 136.6,307.4 138.9,311.0 140.2,323.5 141.6,317.3 143.1,309.9 145.0,319.3 145.7,316.6 148.0,323.2 149.4,305.6 150.7,305.1 152.0,292.2 153.9,321.1 154.7,321.1 157.0,291.3 158.0,312.3 160.0,337.1 161.2,329.5 162.3,316.2 163.9,311.5 165.4,315.2 166.7,307.8 168.4,318.1 169.8,295.9 171.2,310.0 172.8,330.4 175.0,319.1 176.2,310.9 177.7,312.9 178.5,306.6 180.1,312.5 182.0,323.5 183.2,315.0 184.7,311.2 186.5,316.8 187.5,327.8 189.6,317.7 191.4,307.0 192.0,314.8 194.2,302.9 195.4,318.9 196.6,308.2 198.5,311.3 200.0,299.8 201.6,315.8 203.2,293.9 204.1,299.7 206.0,299.9 207.9,315.4 209.3,299.2 210.0,302.7 212.1,314.3 213.0,296.4 215.4,304.8 216.6,313.1 218.5,301.2 219.6,312.4 221.0,315.5 222.1,296.4 224.5,320.2 225.9,313.5 227.2,327.0 228.7,311.3 229.7,314.4 231.4,305.9 232.5,304.3 235.0,292.7 235.5,315.4 236.5,316.5 237.4,315.2 238.1,330.8 240.3,318.3 241.5,306.1 243.3,295.7 244.6,297.6 246.6,294.0 247.6,289.9 249.0,300.9 260.6,285.3 262.5,291.4 267.0,279.2 268.0,288.3 271.0,298.9 274.5,289.9 290.0,272.4 291.5,282.3" fill="none" stroke="#5b9bd5" stroke-width="2" stroke-linejoin="round" marker-start="url(#m5b9bd5)" marker-mid="url(#m5b9bd5)" marker-end="url(#m5b9bd5)"/>
<polyline points="85.3,304.9 104.5,319.3 105.7,307.6 107.0,302.0 108.0,313.4 111.0,321.7 111.8,308.3 112.7,294.2 115.0,314.3 116.3,328.8 117.6,318.6 118.9,304.0 120.6,310.2 122.0,302.0 123.6,298.6 125.5,298.5 126.7,305.1 128.1,302.1 129.3,304.8 131.3,314.3 133.4,324.0 135.0,321.7 135.8,314.0 136.6,301.8 138.9,311.4 140.2,321.0 141.6,317.5 143.1,308.7 145.0,318.7 145.7,310.4 148.0,295.9 149.4,303.2 150.7,307.1 152.0,294.4 153.9,319.0 154.7,319.8 157.0,290.8 158.0,312.6 160.0,338.2 161.2,332.9 162.3,318.3 163.9,310.7 165.4,312.0 166.7,308.1 168.4,318.0 169.8,297.1 171.2,313.4 172.8,331.7 175.0,317.1 176.2,308.5 177.7,308.4 178.5,306.1 180.1,310.4 182.0,315.6 183.2,309.7 184.7,310.2 186.5,313.5 187.5,330.5 189.6,317.6 191.4,308.4 192.0,314.1 194.2,307.1 195.4,319.6 196.6,313.2 198.5,312.6 200.0,298.9 201.6,308.7 203.2,292.2 204.1,301.0 206.0,300.5 207.9,311.6 209.3,298.7 210.0,303.9 212.1,315.2 213.0,297.4 215.4,302.6 216.6,314.5 218.5,302.4 219.6,308.2 221.0,312.6 222.1,296.6 224.5,288.3 225.9,312.2 227.2,324.0 228.7,309.3 229.7,312.6 231.4,308.0 232.5,298.7 235.0,292.9 235.5,317.1 236.5,314.9 237.4,315.9 238.1,341.7 240.3,314.1 241.5,302.0 243.3,299.5 244.6,297.7 246.6,293.1 247.6,289.1 249.0,303.5 260.6,277.3 262.5,288.3 267.0,270.3 268.0,282.3 271.0,293.5 274.5,286.8 290.0,277.7 291.5,277.7" fill="none" stroke="#c8202d" stroke-width="2" stroke-linejoin="round" marker-start="url(#mc8202d)" marker-mid="url(#mc8202d)" marker-end="url(#mc8202d)"/>
<line x1="72" y1="358.3" x2="267.5" y2="358.3" stroke="#c8c8c8" stroke-width="1"/>
<line x1="73" y1="358.3" x2="75.5" y2="358.3" stroke="#c84aa8" stroke-width="2"/>
<line x1="86.5" y1="358.3" x2="93.4" y2="358.3" stroke="#c84aa8" stroke-width="2"/>
<line x1="97.5" y1="358.3" x2="106.0" y2="358.3" stroke="#c84aa8" stroke-width="2"/>
<line x1="110.4" y1="358.3" x2="121.9" y2="358.3" stroke="#c84aa8" stroke-width="2"/>
<line x1="124.2" y1="358.3" x2="128.3" y2="358.3" stroke="#c84aa8" stroke-width="2"/>
<line x1="133.7" y1="358.3" x2="140.8" y2="358.3" stroke="#c84aa8" stroke-width="2"/>
<line x1="143.7" y1="358.3" x2="159.7" y2="358.3" stroke="#c84aa8" stroke-width="2"/>
<line x1="163.5" y1="358.3" x2="177.6" y2="358.3" stroke="#c84aa8" stroke-width="2"/>
<line x1="181.5" y1="358.3" x2="193.2" y2="358.3" stroke="#c84aa8" stroke-width="2"/>
<line x1="195.8" y1="358.3" x2="207.4" y2="358.3" stroke="#c84aa8" stroke-width="2"/>
<line x1="212.8" y1="358.3" x2="223.1" y2="358.3" stroke="#c84aa8" stroke-width="2"/>
<line x1="228.1" y1="358.3" x2="240.1" y2="358.3" stroke="#c84aa8" stroke-width="2"/>
<line x1="242.4" y1="358.3" x2="255.5" y2="358.3" stroke="#c84aa8" stroke-width="2"/>
<line x1="76.0" y1="352.8" x2="76.0" y2="363.8" stroke="#b8b8b8" stroke-width="0.7"/>
<line x1="79.9" y1="352.8" x2="79.9" y2="363.8" stroke="#b8b8b8" stroke-width="0.7"/>
<line x1="82.5" y1="352.8" x2="82.5" y2="363.8" stroke="#b8b8b8" stroke-width="0.7"/>
<line x1="88.9" y1="352.8" x2="88.9" y2="363.8" stroke="#b8b8b8" stroke-width="0.7"/>
<line x1="93.5" y1="352.8" x2="93.5" y2="363.8" stroke="#b8b8b8" stroke-width="0.7"/>
<line x1="99.3" y1="352.8" x2="99.3" y2="363.8" stroke="#b8b8b8" stroke-width="0.7"/>
<line x1="105.7" y1="352.8" x2="105.7" y2="363.8" stroke="#b8b8b8" stroke-width="0.7"/>
<line x1="111.4" y1="352.8" x2="111.4" y2="363.8" stroke="#b8b8b8" stroke-width="0.7"/>
<line x1="118.1" y1="352.8" x2="118.1" y2="363.8" stroke="#b8b8b8" stroke-width="0.7"/>
<line x1="122.3" y1="352.8" x2="122.3" y2="363.8" stroke="#b8b8b8" stroke-width="0.7"/>
<line x1="128.4" y1="352.8" x2="128.4" y2="363.8" stroke="#b8b8b8" stroke-width="0.7"/>
<line x1="132.9" y1="352.8" x2="132.9" y2="363.8" stroke="#b8b8b8" stroke-width="0.7"/>
<line x1="139.7" y1="352.8" x2="139.7" y2="363.8" stroke="#b8b8b8" stroke-width="0.7"/>
<line x1="146.1" y1="352.8" x2="146.1" y2="363.8" stroke="#b8b8b8" stroke-width="0.7"/>
<line x1="149.1" y1="352.8" x2="149.1" y2="363.8" stroke="#b8b8b8" stroke-width="0.7"/>
<line x1="152.2" y1="352.8" x2="152.2" y2="363.8" stroke="#b8b8b8" stroke-width="0.7"/>
<line x1="155.6" y1="352.8" x2="155.6" y2="363.8" stroke="#b8b8b8" stroke-width="0.7"/>
<line x1="162.5" y1="352.8" x2="162.5" y2="363.8" stroke="#b8b8b8" stroke-width="0.7"/>
<line x1="166.9" y1="352.8" x2="166.9" y2="363.8" stroke="#b8b8b8" stroke-width="0.7"/>
<line x1="172.3" y1="352.8" x2="172.3" y2="363.8" stroke="#b8b8b8" stroke-width="0.7"/>
<line x1="176.1" y1="352.8" x2="176.1" y2="363.8" stroke="#b8b8b8" stroke-width="0.7"/>
<line x1="180.9" y1="352.8" x2="180.9" y2="363.8" stroke="#b8b8b8" stroke-width="0.7"/>
<line x1="185.1" y1="352.8" x2="185.1" y2="363.8" stroke="#b8b8b8" stroke-width="0.7"/>
<line x1="189.2" y1="352.8" x2="189.2" y2="363.8" stroke="#b8b8b8" stroke-width="0.7"/>
<line x1="194.4" y1="352.8" x2="194.4" y2="363.8" stroke="#b8b8b8" stroke-width="0.7"/>
<line x1="199.5" y1="352.8" x2="199.5" y2="363.8" stroke="#b8b8b8" stroke-width="0.7"/>
<line x1="206.1" y1="352.8" x2="206.1" y2="363.8" stroke="#b8b8b8" stroke-width="0.7"/>
<line x1="211.6" y1="352.8" x2="211.6" y2="363.8" stroke="#b8b8b8" stroke-width="0.7"/>
<line x1="218.3" y1="352.8" x2="218.3" y2="363.8" stroke="#b8b8b8" stroke-width="0.7"/>
<line x1="224.7" y1="352.8" x2="224.7" y2="363.8" stroke="#b8b8b8" stroke-width="0.7"/>
<line x1="231.6" y1="352.8" x2="231.6" y2="363.8" stroke="#b8b8b8" stroke-width="0.7"/>
<line x1="237.1" y1="352.8" x2="237.1" y2="363.8" stroke="#b8b8b8" stroke-width="0.7"/>
<line x1="240.4" y1="352.8" x2="240.4" y2="363.8" stroke="#b8b8b8" stroke-width="0.7"/>
<line x1="246.7" y1="352.8" x2="246.7" y2="363.8" stroke="#b8b8b8" stroke-width="0.7"/>
<line x1="253.6" y1="352.8" x2="253.6" y2="363.8" stroke="#b8b8b8" stroke-width="0.7"/>
<line x1="260.2" y1="352.8" x2="260.2" y2="363.8" stroke="#b8b8b8" stroke-width="0.7"/>
<line x1="75.0" y1="352.8" x2="75.0" y2="363.8" stroke="#b8c4e8" stroke-width="0.7"/>
<line x1="85.3" y1="352.8" x2="85.3" y2="363.8" stroke="#b8c4e8" stroke-width="0.7"/>
<path d="M76.6,353.7 Q80.5,352.1 84.4,353.7 L84.6,359.8 Q83.5,363.6 80.5,363.6 Q77.5,363.6 76.4,359.8 Z" fill="#c9b47c" stroke="#a8925a" stroke-width="0.6"/>
<line x1="77.5" y1="358.3" x2="83.5" y2="358.3" stroke="#8fa2dc" stroke-width="1.6"/>
<ellipse cx="282.0" cy="358.3" rx="18.5" ry="5.3" fill="url(#ellg)" stroke="#f5c37a" stroke-width="0.6"/>
<line x1="278.0" y1="353.3" x2="278.0" y2="363.3" stroke="#c8a070" stroke-width="0.6"/>
<line x1="289.0" y1="353.3" x2="289.0" y2="363.3" stroke="#c8a070" stroke-width="0.6"/>
<text x="282.0" y="359.6" font-size="3.5" fill="#5070c0" text-anchor="middle">COLFI</text>
<text x="68.5" y="364.9" font-size="12.5" text-anchor="end" fill="#000" font-weight="normal" >0</text>
<text x="303.2" y="364.5" font-size="12.6" text-anchor="start" fill="#000" font-weight="normal" >1466</text>
<rect x="410.6" y="20.7" width="229.69999999999993" height="90.5" fill="#fff"/>
<rect x="410.6" y="20.7" width="21.0" height="90.5" fill="#c5e0a3"/>
<rect x="600.9" y="20.7" width="39.39999999999998" height="90.5" fill="#fed6a0"/>
<line x1="410.6" y1="65.95" x2="640.3" y2="65.95" stroke="#d8d8d8" stroke-width="1.5"/>
<rect x="410.6" y="20.7" width="229.69999999999993" height="90.5" fill="none" stroke="#d0d0d0" stroke-width="1.6"/>
<text x="402.1" y="25.0" font-size="12" text-anchor="end" fill="#000" font-weight="normal" >3</text>
<text x="402.1" y="40.1" font-size="12" text-anchor="end" fill="#000" font-weight="normal" >2</text>
<text x="402.1" y="55.2" font-size="12" text-anchor="end" fill="#000" font-weight="normal" >1</text>
<text x="402.1" y="70.2" font-size="12" text-anchor="end" fill="#000" font-weight="normal" >0</text>
<text x="402.1" y="85.3" font-size="12" text-anchor="end" fill="#000" font-weight="normal" >-1</text>
<text x="402.1" y="100.4" font-size="12" text-anchor="end" fill="#000" font-weight="normal" >-2</text>
<text x="402.1" y="115.5" font-size="12" text-anchor="end" fill="#000" font-weight="normal" >-3</text>
<text transform="translate(372.1,66.0) rotate(-90)" font-size="13" text-anchor="middle">Log2 -</text>
<text transform="translate(387.1,66.0) rotate(-90)" font-size="13" text-anchor="middle">fold change</text>
<text x="494.6" y="34.4" font-size="13" text-anchor="start" fill="#000" font-weight="normal" >Mu proα1(I)</text>
<text x="619.7" y="106.3" font-size="11.5" text-anchor="middle" fill="#000" font-weight="bold" >****</text>
<polyline points="416.1,66.0 422.0,66.0 426.5,66.0 428.5,66.0 435.7,66.0 437.3,66.0 438.9,66.0 441.0,66.0 443.0,66.0 444.5,66.0 445.9,66.0 447.0,66.0 448.8,66.0 450.1,66.0 452.0,66.0 454.3,66.0 457.4,66.0 458.3,66.0 459.0,66.0 460.7,66.0 462.7,66.0 464.6,66.0 466.0,66.0 467.9,66.0 470.0,66.0 471.7,66.0 473.3,66.0 474.6,66.0 475.8,66.0 479.0,66.0 479.4,66.0 481.5,66.0 483.5,66.0 485.2,66.0 486.9,66.0 488.7,66.0 490.0,66.0 492.0,66.0 493.2,66.0 494.8,66.0 497.0,66.0 498.9,66.0 500.4,66.0 502.4,66.0 503.4,66.0 504.9,66.0 507.6,66.0 509.3,66.0 510.1,66.0 512.5,66.0 514.0,66.0 516.5,66.0 517.6,66.0 518.7,66.0 520.3,66.0 522.0,66.0 524.5,66.0 525.4,66.0 527.9,66.0 528.9,66.0 530.5,66.0 532.6,66.0 534.0,66.0 535.0,66.0 537.4,66.0 538.8,66.0 541.0,66.0 542.6,66.0 544.2,66.0 546.2,66.0 548.1,66.0 550.5,66.0 551.6,66.0 552.9,66.0 554.6,66.0 556.0,66.0 558.5,66.0 559.8,66.0 561.7,66.0 563.2,66.0 564.7,66.0 567.0,66.0 568.5,66.0 569.9,66.0 571.0,66.0 573.1,66.0 574.8,66.0 577.1,66.0 579.0,66.0 580.2,66.0 582.0,66.0 583.7,66.0 584.9,66.0 586.7,66.0 588.0,66.0 590.7,66.0 591.7,66.0 594.1,66.0 595.2,66.0 597.1,66.0 598.0,66.0 602.3,66.0 609.7,66.0 614.9,66.0 627.2,66.0 633.3,66.0" fill="none" stroke="#000000" stroke-width="2" stroke-linejoin="round" marker-start="url(#m000000)" marker-mid="url(#m000000)" marker-end="url(#m000000)"/>
<polyline points="416.1,62.9 422.0,63.7 426.5,69.0 428.5,66.0 435.7,64.8 437.3,63.7 438.9,63.3 441.0,64.1 443.0,65.3 444.5,67.5 445.9,63.0 447.0,67.1 448.8,61.8 450.1,67.4 452.0,58.4 454.3,64.8 457.4,65.4 458.3,63.9 459.0,69.9 460.7,67.2 462.7,62.4 464.6,55.4 466.0,67.5 467.9,66.1 470.0,66.7 471.7,66.6 473.3,63.9 474.6,64.5 475.8,65.2 479.0,65.5 479.4,68.0 481.5,65.5 483.5,65.2 485.2,67.5 486.9,64.9 488.7,25.2 490.0,64.1 492.0,64.9 493.2,61.6 494.8,62.8 497.0,64.6 498.9,64.8 500.4,65.3 502.4,66.7 503.4,65.8 504.9,66.4 507.6,65.2 509.3,68.3 510.1,66.5 512.5,66.2 514.0,65.2 516.5,65.3 517.6,63.0 518.7,63.9 520.3,68.2 522.0,66.9 524.5,65.6 525.4,62.8 527.9,61.7 528.9,65.3 530.5,70.0 532.6,67.3 534.0,66.6 535.0,63.1 537.4,63.9 538.8,64.6 541.0,61.3 542.6,67.4 544.2,67.0 546.2,66.5 548.1,67.9 550.5,66.5 551.6,65.2 552.9,66.3 554.6,61.5 556.0,66.2 558.5,64.3 559.8,60.2 561.7,65.2 563.2,61.8 564.7,64.9 567.0,62.5 568.5,52.4 569.9,64.4 571.0,66.0 573.1,68.1 574.8,64.3 577.1,63.1 579.0,68.6 580.2,64.3 582.0,66.4 583.7,66.7 584.9,68.9 586.7,67.7 588.0,59.9 590.7,64.3 591.7,64.1 594.1,67.1 595.2,65.3 597.1,66.6 598.0,65.1 602.3,64.4 609.7,62.9 614.9,62.9 627.2,59.9 633.3,56.9" fill="none" stroke="#c0c0c0" stroke-width="2" stroke-linejoin="round" marker-start="url(#mc0c0c0)" marker-mid="url(#mc0c0c0)" marker-end="url(#mc0c0c0)"/>
<polyline points="416.1,66.0 422.0,67.5 426.5,85.6 428.5,79.5 435.7,73.8 437.3,59.9 438.9,68.8 441.0,60.2 443.0,69.3 444.5,84.1 445.9,79.3 447.0,56.6 448.8,78.8 450.1,49.5 452.0,56.9 454.3,79.5 457.4,84.1 458.3,69.9 459.0,65.4 460.7,60.2 462.7,70.3 464.6,89.0 466.0,65.0 467.9,71.8 470.0,67.6 471.7,61.0 473.3,55.0 474.6,78.9 475.8,79.1 479.0,57.2 479.4,59.8 481.5,61.5 483.5,58.7 485.2,66.5 486.9,71.4 488.7,88.3 490.0,63.7 492.0,64.6 493.2,51.0 494.8,58.7 497.0,68.4 498.9,53.5 500.4,60.0 502.4,73.0 503.4,82.7 504.9,68.8 507.6,38.6 509.3,67.5 510.1,67.3 512.5,75.7 514.0,71.9 516.5,79.3 517.6,73.4 518.7,68.5 520.3,68.4 522.0,65.6 524.5,77.5 525.4,53.3 527.9,78.3 528.9,65.0 530.5,58.9 532.6,54.0 534.0,41.6 535.0,56.6 537.4,79.9 538.8,90.5 541.0,72.3 542.6,77.7 544.2,61.5 546.2,78.6 548.1,77.5 550.5,88.5 551.6,88.6 552.9,60.4 554.6,70.0 556.0,80.2 558.5,71.1 559.8,60.4 561.7,71.1 563.2,81.7 564.7,71.4 567.0,86.4 568.5,97.0 569.9,79.9 571.0,67.5 573.1,58.8 574.8,66.8 577.1,65.6 579.0,81.1 580.2,75.7 582.0,65.4 583.7,71.6 584.9,70.2 586.7,78.1 588.0,57.6 590.7,67.7 591.7,64.6 594.1,79.6 595.2,68.2 597.1,77.2 598.0,64.4 602.3,62.9 609.7,61.3 614.9,60.7 627.2,64.4 633.3,58.4" fill="none" stroke="#5b9bd5" stroke-width="2" stroke-linejoin="round" marker-start="url(#m5b9bd5)" marker-mid="url(#m5b9bd5)" marker-end="url(#m5b9bd5)"/>
<polyline points="416.1,61.4 422.0,70.5 426.5,97.6 428.5,94.6 435.7,70.9 437.3,64.5 438.9,64.3 441.0,64.7 443.0,72.0 444.5,98.4 445.9,80.3 447.0,55.4 448.8,70.9 450.1,50.1 452.0,79.5 454.3,70.5 457.4,82.2 458.3,70.6 459.0,64.4 460.7,60.0 462.7,72.6 464.6,86.3 466.0,69.0 467.9,65.2 470.0,70.7 471.7,66.3 473.3,60.2 474.6,74.6 475.8,81.0 479.0,61.4 479.4,62.0 481.5,61.1 483.5,65.0 485.2,62.9 486.9,71.6 488.7,86.8 490.0,61.4 492.0,68.1 493.2,58.8 494.8,63.2 497.0,62.3 498.9,63.1 500.4,59.4 502.4,68.7 503.4,83.4 504.9,67.7 507.6,48.5 509.3,63.8 510.1,70.4 512.5,72.7 514.0,69.6 516.5,78.2 517.6,69.1 518.7,69.1 520.3,66.4 522.0,64.8 524.5,73.3 525.4,86.8 527.9,71.5 528.9,66.4 530.5,60.8 532.6,55.3 534.0,46.6 535.0,56.9 537.4,78.3 538.8,88.0 541.0,74.1 542.6,74.5 544.2,63.2 546.2,68.0 548.1,76.8 550.5,85.6 551.6,73.3 552.9,63.1 554.6,66.0 556.0,66.4 558.5,64.0 559.8,59.0 561.7,74.7 563.2,80.6 564.7,73.8 567.0,83.9 568.5,96.1 569.9,80.0 571.0,69.0 573.1,61.5 574.8,62.5 577.1,70.9 579.0,78.0 580.2,73.0 582.0,58.9 583.7,65.6 584.9,77.8 586.7,79.6 588.0,64.4 590.7,67.7 591.7,59.9 594.1,67.0 595.2,66.5 597.1,66.0 598.0,61.4 602.3,45.9 609.7,46.3 614.9,44.5 627.2,50.3 633.3,42.0" fill="none" stroke="#c8202d" stroke-width="2" stroke-linejoin="round" marker-start="url(#mc8202d)" marker-mid="url(#mc8202d)" marker-end="url(#mc8202d)"/>
<line x1="412.6" y1="120" x2="608" y2="120" stroke="#c8c8c8" stroke-width="1"/>
<line x1="413.6" y1="120" x2="416.2" y2="120" stroke="#c84aa8" stroke-width="2"/>
<line x1="427.2" y1="120" x2="434.0" y2="120" stroke="#c84aa8" stroke-width="2"/>
<line x1="436.4" y1="120" x2="445.2" y2="120" stroke="#c84aa8" stroke-width="2"/>
<line x1="447.8" y1="120" x2="452.6" y2="120" stroke="#c84aa8" stroke-width="2"/>
<line x1="456.2" y1="120" x2="471.2" y2="120" stroke="#c84aa8" stroke-width="2"/>
<line x1="476.4" y1="120" x2="489.6" y2="120" stroke="#c84aa8" stroke-width="2"/>
<line x1="492.5" y1="120" x2="502.9" y2="120" stroke="#c84aa8" stroke-width="2"/>
<line x1="506.1" y1="120" x2="512.1" y2="120" stroke="#c84aa8" stroke-width="2"/>
<line x1="514.6" y1="120" x2="521.1" y2="120" stroke="#c84aa8" stroke-width="2"/>
<line x1="526.8" y1="120" x2="540.8" y2="120" stroke="#c84aa8" stroke-width="2"/>
<line x1="546.0" y1="120" x2="559.6" y2="120" stroke="#c84aa8" stroke-width="2"/>
<line x1="562.4" y1="120" x2="570.1" y2="120" stroke="#c84aa8" stroke-width="2"/>
<line x1="574.6" y1="120" x2="587.4" y2="120" stroke="#c84aa8" stroke-width="2"/>
<line x1="592.8" y1="120" x2="598.0" y2="120" stroke="#c84aa8" stroke-width="2"/>
<line x1="416.6" y1="114.5" x2="416.6" y2="125.5" stroke="#b8b8b8" stroke-width="0.7"/>
<line x1="421.8" y1="114.5" x2="421.8" y2="125.5" stroke="#b8b8b8" stroke-width="0.7"/>
<line x1="427.3" y1="114.5" x2="427.3" y2="125.5" stroke="#b8b8b8" stroke-width="0.7"/>
<line x1="432.1" y1="114.5" x2="432.1" y2="125.5" stroke="#b8b8b8" stroke-width="0.7"/>
<line x1="435.4" y1="114.5" x2="435.4" y2="125.5" stroke="#b8b8b8" stroke-width="0.7"/>
<line x1="440.1" y1="114.5" x2="440.1" y2="125.5" stroke="#b8b8b8" stroke-width="0.7"/>
<line x1="443.0" y1="114.5" x2="443.0" y2="125.5" stroke="#b8b8b8" stroke-width="0.7"/>
<line x1="449.7" y1="114.5" x2="449.7" y2="125.5" stroke="#b8b8b8" stroke-width="0.7"/>
<line x1="456.1" y1="114.5" x2="456.1" y2="125.5" stroke="#b8b8b8" stroke-width="0.7"/>
<line x1="461.0" y1="114.5" x2="461.0" y2="125.5" stroke="#b8b8b8" stroke-width="0.7"/>
<line x1="464.9" y1="114.5" x2="464.9" y2="125.5" stroke="#b8b8b8" stroke-width="0.7"/>
<line x1="471.5" y1="114.5" x2="471.5" y2="125.5" stroke="#b8b8b8" stroke-width="0.7"/>
<line x1="476.5" y1="114.5" x2="476.5" y2="125.5" stroke="#b8b8b8" stroke-width="0.7"/>
<line x1="483.0" y1="114.5" x2="483.0" y2="125.5" stroke="#b8b8b8" stroke-width="0.7"/>
<line x1="489.3" y1="114.5" x2="489.3" y2="125.5" stroke="#b8b8b8" stroke-width="0.7"/>
<line x1="494.1" y1="114.5" x2="494.1" y2="125.5" stroke="#b8b8b8" stroke-width="0.7"/>
<line x1="498.5" y1="114.5" x2="498.5" y2="125.5" stroke="#b8b8b8" stroke-width="0.7"/>
<line x1="503.7" y1="114.5" x2="503.7" y2="125.5" stroke="#b8b8b8" stroke-width="0.7"/>
<line x1="508.1" y1="114.5" x2="508.1" y2="125.5" stroke="#b8b8b8" stroke-width="0.7"/>
<line x1="511.3" y1="114.5" x2="511.3" y2="125.5" stroke="#b8b8b8" stroke-width="0.7"/>
<line x1="515.2" y1="114.5" x2="515.2" y2="125.5" stroke="#b8b8b8" stroke-width="0.7"/>
<line x1="521.4" y1="114.5" x2="521.4" y2="125.5" stroke="#b8b8b8" stroke-width="0.7"/>
<line x1="524.1" y1="114.5" x2="524.1" y2="125.5" stroke="#b8b8b8" stroke-width="0.7"/>
<line x1="526.8" y1="114.5" x2="526.8" y2="125.5" stroke="#b8b8b8" stroke-width="0.7"/>
<line x1="532.1" y1="114.5" x2="532.1" y2="125.5" stroke="#b8b8b8" stroke-width="0.7"/>
<line x1="535.9" y1="114.5" x2="535.9" y2="125.5" stroke="#b8b8b8" stroke-width="0.7"/>
<line x1="540.8" y1="114.5" x2="540.8" y2="125.5" stroke="#b8b8b8" stroke-width="0.7"/>
<line x1="545.4" y1="114.5" x2="545.4" y2="125.5" stroke="#b8b8b8" stroke-width="0.7"/>
<line x1="549.4" y1="114.5" x2="549.4" y2="125.5" stroke="#b8b8b8" stroke-width="0.7"/>
<line x1="556.4" y1="114.5" x2="556.4" y2="125.5" stroke="#b8b8b8" stroke-width="0.7"/>
<line x1="559.8" y1="114.5" x2="559.8" y2="125.5" stroke="#b8b8b8" stroke-width="0.7"/>
<line x1="564.1" y1="114.5" x2="564.1" y2="125.5" stroke="#b8b8b8" stroke-width="0.7"/>
<line x1="567.6" y1="114.5" x2="567.6" y2="125.5" stroke="#b8b8b8" stroke-width="0.7"/>
<line x1="572.9" y1="114.5" x2="572.9" y2="125.5" stroke="#b8b8b8" stroke-width="0.7"/>
<line x1="576.6" y1="114.5" x2="576.6" y2="125.5" stroke="#b8b8b8" stroke-width="0.7"/>
<line x1="580.7" y1="114.5" x2="580.7" y2="125.5" stroke="#b8b8b8" stroke-width="0.7"/>
<line x1="586.6" y1="114.5" x2="586.6" y2="125.5" stroke="#b8b8b8" stroke-width="0.7"/>
<line x1="590.6" y1="114.5" x2="590.6" y2="125.5" stroke="#b8b8b8" stroke-width="0.7"/>
<line x1="595.6" y1="114.5" x2="595.6" y2="125.5" stroke="#b8b8b8" stroke-width="0.7"/>
<line x1="602.1" y1="114.5" x2="602.1" y2="125.5" stroke="#b8b8b8" stroke-width="0.7"/>
<line x1="415.7" y1="114.5" x2="415.7" y2="125.5" stroke="#b8c4e8" stroke-width="0.7"/>
<line x1="426.0" y1="114.5" x2="426.0" y2="125.5" stroke="#b8c4e8" stroke-width="0.7"/>
<path d="M417.3,115.4 Q421.2,113.8 425.09999999999997,115.4 L425.3,121.5 Q424.2,125.3 421.2,125.3 Q418.2,125.3 417.09999999999997,121.5 Z" fill="#c9b47c" stroke="#a8925a" stroke-width="0.6"/>
<line x1="418.2" y1="120" x2="424.2" y2="120" stroke="#8fa2dc" stroke-width="1.6"/>
<ellipse cx="622.2" cy="120.0" rx="18.2" ry="5.3" fill="url(#ellg)" stroke="#f5c37a" stroke-width="0.6"/>
<line x1="618.2" y1="115" x2="618.2" y2="125" stroke="#c8a070" stroke-width="0.6"/>
<line x1="629.2" y1="115" x2="629.2" y2="125" stroke="#c8a070" stroke-width="0.6"/>
<text x="622.2" y="121.3" font-size="3.5" fill="#5070c0" text-anchor="middle">COLFI</text>
<text x="409.6" y="126.9" font-size="12.5" text-anchor="end" fill="#000" font-weight="normal" >0</text>
<text x="643.3" y="127.1" font-size="12.6" text-anchor="start" fill="#000" font-weight="normal" >1453</text>
<rect x="411.1" y="140.5" width="215.19999999999993" height="90.19999999999999" fill="#fff"/>
<rect x="411.1" y="140.5" width="11.399999999999977" height="90.19999999999999" fill="#c5e0a3"/>
<rect x="586" y="140.5" width="40.299999999999955" height="90.19999999999999" fill="#fed6a0"/>
<line x1="411.1" y1="185.6" x2="626.3" y2="185.6" stroke="#d8d8d8" stroke-width="1.5"/>
<rect x="411.1" y="140.5" width="215.19999999999993" height="90.19999999999999" fill="none" stroke="#d0d0d0" stroke-width="1.6"/>
<text x="402.6" y="144.8" font-size="12" text-anchor="end" fill="#000" font-weight="normal" >3</text>
<text x="402.6" y="159.8" font-size="12" text-anchor="end" fill="#000" font-weight="normal" >2</text>
<text x="402.6" y="174.9" font-size="12" text-anchor="end" fill="#000" font-weight="normal" >1</text>
<text x="402.6" y="189.9" font-size="12" text-anchor="end" fill="#000" font-weight="normal" >0</text>
<text x="402.6" y="204.9" font-size="12" text-anchor="end" fill="#000" font-weight="normal" >-1</text>
<text x="402.6" y="220.0" font-size="12" text-anchor="end" fill="#000" font-weight="normal" >-2</text>
<text x="402.6" y="235.0" font-size="12" text-anchor="end" fill="#000" font-weight="normal" >-3</text>
<text transform="translate(372.6,185.6) rotate(-90)" font-size="13" text-anchor="middle">Log2 -</text>
<text transform="translate(387.6,185.6) rotate(-90)" font-size="13" text-anchor="middle">fold change</text>
<text x="494.6" y="155.3" font-size="13" text-anchor="start" fill="#000" font-weight="normal" >Mu proα2(I)</text>
<text x="605.4" y="226.6" font-size="11.5" text-anchor="middle" fill="#000" font-weight="bold" >****</text>
<polyline points="426.0,185.6 427.7,185.6 429.9,185.6 431.0,185.6 433.2,185.6 434.1,185.6 436.2,185.6 437.6,185.6 439.6,185.6 441.4,185.6 443.4,185.6 444.9,185.6 446.9,185.6 447.0,185.6 448.0,185.6 449.3,185.6 452.0,185.6 453.3,185.6 454.9,185.6 456.6,185.6 458.4,185.6 459.9,185.6 461.7,185.6 463.3,185.6 465.6,185.6 466.9,185.6 468.7,185.6 470.6,185.6 471.9,185.6 473.2,185.6 475.0,185.6 477.4,185.6 478.3,185.6 480.0,185.6 481.6,185.6 484.0,185.6 485.3,185.6 487.0,185.6 488.8,185.6 490.0,185.6 491.5,185.6 493.8,185.6 495.5,185.6 497.8,185.6 499.5,185.6 500.7,185.6 502.4,185.6 504.2,185.6 506.2,185.6 507.5,185.6 509.0,185.6 511.5,185.6 513.3,185.6 515.0,185.6 516.2,185.6 517.9,185.6 520.0,185.6 521.0,185.6 522.7,185.6 524.9,185.6 526.2,185.6 528.4,185.6 530.0,185.6 531.4,185.6 532.8,185.6 535.0,185.6 536.3,185.6 538.2,185.6 540.7,185.6 541.7,185.6 543.7,185.6 545.0,185.6 546.9,185.6 548.1,185.6 550.0,185.6 553.0,185.6 553.8,185.6 555.4,185.6 556.4,185.6 558.9,185.6 560.0,185.6 563.0,185.6 564.0,185.6 565.6,185.6 567.0,185.6 568.4,185.6 570.0,185.6 571.9,185.6 574.3,185.6 575.4,185.6 576.8,185.6 579.0,185.6 580.0,185.6 581.2,185.6 582.0,185.6 584.4,185.6 585.7,185.6 588.0,185.6 589.4,185.6 590.2,185.6 603.3,185.6 611.0,185.6 613.0,185.6 616.0,185.6 620.2,185.6 624.0,185.6" fill="none" stroke="#000000" stroke-width="2" stroke-linejoin="round" marker-start="url(#m000000)" marker-mid="url(#m000000)" marker-end="url(#m000000)"/>
<polyline points="426.0,183.3 427.7,183.4 429.9,182.5 431.0,184.2 433.2,188.5 434.1,185.5 436.2,185.5 437.6,182.9 439.6,184.5 441.4,186.4 443.4,189.0 444.9,183.1 446.9,183.0 447.0,185.8 448.0,184.4 449.3,179.9 452.0,185.0 453.3,184.0 454.9,185.8 456.6,186.7 458.4,185.5 459.9,189.6 461.7,182.4 463.3,183.1 465.6,182.1 466.9,185.8 468.7,187.2 470.6,184.9 471.9,182.5 473.2,182.9 475.0,186.6 477.4,182.5 478.3,186.4 480.0,186.0 481.6,187.9 484.0,186.4 485.3,181.8 487.0,182.2 488.8,186.4 490.0,171.8 491.5,183.9 493.8,186.1 495.5,183.5 497.8,182.1 499.5,185.8 500.7,185.8 502.4,182.5 504.2,180.3 506.2,183.3 507.5,167.0 509.0,183.6 511.5,186.1 513.3,156.4 515.0,184.7 516.2,190.0 517.9,187.3 520.0,183.6 521.0,182.2 522.7,185.5 524.9,185.3 526.2,179.8 528.4,187.5 530.0,188.2 531.4,185.2 532.8,188.6 535.0,182.3 536.3,181.4 538.2,188.1 540.7,161.8 541.7,185.7 543.7,183.8 545.0,185.6 546.9,185.2 548.1,186.7 550.0,185.1 553.0,181.8 553.8,185.3 555.4,186.0 556.4,158.8 558.9,182.3 560.0,178.9 563.0,186.2 564.0,186.5 565.6,185.0 567.0,184.5 568.4,186.0 570.0,182.8 571.9,186.3 574.3,183.0 575.4,185.3 576.8,187.5 579.0,189.6 580.0,185.0 581.2,181.9 582.0,184.7 584.4,189.8 585.7,184.7 588.0,182.2 589.4,182.6 590.2,182.6 603.3,184.1 611.0,184.1 613.0,185.6 616.0,184.1 620.2,184.1 624.0,184.1" fill="none" stroke="#c0c0c0" stroke-width="2" stroke-linejoin="round" marker-start="url(#mc0c0c0)" marker-mid="url(#mc0c0c0)" marker-end="url(#mc0c0c0)"/>
<polyline points="426.0,187.0 427.7,186.1 429.9,189.5 431.0,181.2 433.2,193.3 434.1,194.5 436.2,193.4 437.6,185.0 439.6,190.8 441.4,183.3 443.4,180.7 444.9,191.4 446.9,207.4 447.0,197.6 448.0,190.2 449.3,193.9 452.0,192.4 453.3,186.4 454.9,192.5 456.6,185.3 458.4,181.8 459.9,183.7 461.7,171.2 463.3,185.2 465.6,176.1 466.9,186.5 468.7,176.1 470.6,181.9 471.9,185.2 473.2,193.7 475.0,206.3 477.4,199.5 478.3,190.8 480.0,180.1 481.6,193.9 484.0,196.6 485.3,188.4 487.0,176.2 488.8,191.6 490.0,208.5 491.5,211.0 493.8,199.5 495.5,179.3 497.8,191.7 499.5,191.4 500.7,191.4 502.4,195.7 504.2,194.8 506.2,197.4 507.5,207.6 509.0,192.2 511.5,198.0 513.3,220.4 515.0,173.6 516.2,195.0 517.9,193.7 520.0,197.9 521.0,189.5 522.7,188.8 524.9,182.5 526.2,187.1 528.4,174.7 530.0,187.5 531.4,190.0 532.8,185.6 535.0,194.0 536.3,182.4 538.2,206.5 540.7,234.4 541.7,204.0 543.7,184.1 545.0,202.1 546.9,178.8 548.1,188.2 550.0,183.1 553.0,196.4 553.8,191.0 555.4,202.4 556.4,217.0 558.9,191.1 560.0,187.7 563.0,185.2 564.0,188.9 565.6,196.6 567.0,190.7 568.4,192.0 570.0,196.9 571.9,178.7 574.3,196.1 575.4,193.7 576.8,201.0 579.0,191.1 580.0,184.7 581.2,179.6 582.0,185.0 584.4,182.8 585.7,170.4 588.0,193.1 589.4,193.1 590.2,190.1 603.3,195.1 611.0,204.1 613.0,184.1 616.0,181.1 620.2,178.1 624.0,188.6" fill="none" stroke="#5b9bd5" stroke-width="2" stroke-linejoin="round" marker-start="url(#m5b9bd5)" marker-mid="url(#m5b9bd5)" marker-end="url(#m5b9bd5)"/>
<polyline points="426.0,190.1 427.7,184.2 429.9,188.4 431.0,185.8 433.2,190.0 434.1,194.9 436.2,189.8 437.6,173.0 439.6,187.8 441.4,186.5 443.4,182.1 444.9,186.6 446.9,205.4 447.0,176.6 448.0,188.4 449.3,190.5 452.0,190.1 453.3,182.9 454.9,189.3 456.6,186.3 458.4,180.9 459.9,183.8 461.7,175.0 463.3,189.9 465.6,176.6 466.9,184.7 468.7,176.7 470.6,188.0 471.9,186.1 473.2,191.9 475.0,209.5 477.4,198.3 478.3,183.4 480.0,179.6 481.6,192.8 484.0,197.6 485.3,189.6 487.0,182.5 488.8,193.3 490.0,208.1 491.5,208.1 493.8,197.3 495.5,182.3 497.8,185.1 499.5,190.4 500.7,187.6 502.4,191.2 504.2,191.0 506.2,196.6 507.5,208.1 509.0,191.6 511.5,199.3 513.3,220.8 515.0,206.6 516.2,194.7 517.9,186.3 520.0,190.1 521.0,188.9 522.7,188.3 524.9,184.2 526.2,185.5 528.4,179.5 530.0,187.5 531.4,178.4 532.8,189.3 535.0,192.4 536.3,188.3 538.2,209.8 540.7,228.7 541.7,204.3 543.7,185.6 545.0,193.1 546.9,179.5 548.1,186.1 550.0,182.6 553.0,193.1 553.8,190.0 555.4,201.3 556.4,213.3 558.9,192.8 560.0,188.6 563.0,179.6 564.0,189.8 565.6,191.8 567.0,193.1 568.4,184.9 570.0,198.8 571.9,177.1 574.3,192.1 575.4,192.3 576.8,199.9 579.0,193.1 580.0,182.6 581.2,188.0 582.0,180.3 584.4,180.5 585.7,163.7 588.0,155.5 589.4,143.5 590.2,175.1 603.3,170.9 611.0,181.1 613.0,187.1 616.0,172.1 620.2,158.8 624.0,160.0" fill="none" stroke="#c8202d" stroke-width="2" stroke-linejoin="round" marker-start="url(#mc8202d)" marker-mid="url(#mc8202d)" marker-end="url(#mc8202d)"/>
<line x1="413.1" y1="241" x2="594.4" y2="241" stroke="#c8c8c8" stroke-width="1"/>
<line x1="421.1" y1="241" x2="432.6" y2="241" stroke="#c84aa8" stroke-width="2"/>
<line x1="437.5" y1="241" x2="451.1" y2="241" stroke="#c84aa8" stroke-width="2"/>
<line x1="456.9" y1="241" x2="469.7" y2="241" stroke="#c84aa8" stroke-width="2"/>
<line x1="475.4" y1="241" x2="479.8" y2="241" stroke="#c84aa8" stroke-width="2"/>
<line x1="483.6" y1="241" x2="499.0" y2="241" stroke="#c84aa8" stroke-width="2"/>
<line x1="503.5" y1="241" x2="518.4" y2="241" stroke="#c84aa8" stroke-width="2"/>
<line x1="520.8" y1="241" x2="530.4" y2="241" stroke="#c84aa8" stroke-width="2"/>
<line x1="533.4" y1="241" x2="544.0" y2="241" stroke="#c84aa8" stroke-width="2"/>
<line x1="548.2" y1="241" x2="552.4" y2="241" stroke="#c84aa8" stroke-width="2"/>
<line x1="555.3" y1="241" x2="562.6" y2="241" stroke="#c84aa8" stroke-width="2"/>
<line x1="568.3" y1="241" x2="581.5" y2="241" stroke="#c84aa8" stroke-width="2"/>
<line x1="584.1" y1="241" x2="584.4" y2="241" stroke="#c84aa8" stroke-width="2"/>
<line x1="417.1" y1="235.5" x2="417.1" y2="246.5" stroke="#b8b8b8" stroke-width="0.7"/>
<line x1="422.4" y1="235.5" x2="422.4" y2="246.5" stroke="#b8b8b8" stroke-width="0.7"/>
<line x1="425.4" y1="235.5" x2="425.4" y2="246.5" stroke="#b8b8b8" stroke-width="0.7"/>
<line x1="428.0" y1="235.5" x2="428.0" y2="246.5" stroke="#b8b8b8" stroke-width="0.7"/>
<line x1="434.4" y1="235.5" x2="434.4" y2="246.5" stroke="#b8b8b8" stroke-width="0.7"/>
<line x1="437.8" y1="235.5" x2="437.8" y2="246.5" stroke="#b8b8b8" stroke-width="0.7"/>
<line x1="441.3" y1="235.5" x2="441.3" y2="246.5" stroke="#b8b8b8" stroke-width="0.7"/>
<line x1="448.2" y1="235.5" x2="448.2" y2="246.5" stroke="#b8b8b8" stroke-width="0.7"/>
<line x1="454.6" y1="235.5" x2="454.6" y2="246.5" stroke="#b8b8b8" stroke-width="0.7"/>
<line x1="458.4" y1="235.5" x2="458.4" y2="246.5" stroke="#b8b8b8" stroke-width="0.7"/>
<line x1="465.3" y1="235.5" x2="465.3" y2="246.5" stroke="#b8b8b8" stroke-width="0.7"/>
<line x1="470.2" y1="235.5" x2="470.2" y2="246.5" stroke="#b8b8b8" stroke-width="0.7"/>
<line x1="475.7" y1="235.5" x2="475.7" y2="246.5" stroke="#b8b8b8" stroke-width="0.7"/>
<line x1="479.2" y1="235.5" x2="479.2" y2="246.5" stroke="#b8b8b8" stroke-width="0.7"/>
<line x1="485.9" y1="235.5" x2="485.9" y2="246.5" stroke="#b8b8b8" stroke-width="0.7"/>
<line x1="491.5" y1="235.5" x2="491.5" y2="246.5" stroke="#b8b8b8" stroke-width="0.7"/>
<line x1="498.4" y1="235.5" x2="498.4" y2="246.5" stroke="#b8b8b8" stroke-width="0.7"/>
<line x1="504.9" y1="235.5" x2="504.9" y2="246.5" stroke="#b8b8b8" stroke-width="0.7"/>
<line x1="508.7" y1="235.5" x2="508.7" y2="246.5" stroke="#b8b8b8" stroke-width="0.7"/>
<line x1="512.8" y1="235.5" x2="512.8" y2="246.5" stroke="#b8b8b8" stroke-width="0.7"/>
<line x1="516.1" y1="235.5" x2="516.1" y2="246.5" stroke="#b8b8b8" stroke-width="0.7"/>
<line x1="519.2" y1="235.5" x2="519.2" y2="246.5" stroke="#b8b8b8" stroke-width="0.7"/>
<line x1="522.0" y1="235.5" x2="522.0" y2="246.5" stroke="#b8b8b8" stroke-width="0.7"/>
<line x1="525.9" y1="235.5" x2="525.9" y2="246.5" stroke="#b8b8b8" stroke-width="0.7"/>
<line x1="531.1" y1="235.5" x2="531.1" y2="246.5" stroke="#b8b8b8" stroke-width="0.7"/>
<line x1="533.6" y1="235.5" x2="533.6" y2="246.5" stroke="#b8b8b8" stroke-width="0.7"/>
<line x1="539.2" y1="235.5" x2="539.2" y2="246.5" stroke="#b8b8b8" stroke-width="0.7"/>
<line x1="543.2" y1="235.5" x2="543.2" y2="246.5" stroke="#b8b8b8" stroke-width="0.7"/>
<line x1="547.1" y1="235.5" x2="547.1" y2="246.5" stroke="#b8b8b8" stroke-width="0.7"/>
<line x1="553.3" y1="235.5" x2="553.3" y2="246.5" stroke="#b8b8b8" stroke-width="0.7"/>
<line x1="557.9" y1="235.5" x2="557.9" y2="246.5" stroke="#b8b8b8" stroke-width="0.7"/>
<line x1="561.9" y1="235.5" x2="561.9" y2="246.5" stroke="#b8b8b8" stroke-width="0.7"/>
<line x1="566.5" y1="235.5" x2="566.5" y2="246.5" stroke="#b8b8b8" stroke-width="0.7"/>
<line x1="572.2" y1="235.5" x2="572.2" y2="246.5" stroke="#b8b8b8" stroke-width="0.7"/>
<line x1="575.0" y1="235.5" x2="575.0" y2="246.5" stroke="#b8b8b8" stroke-width="0.7"/>
<line x1="581.8" y1="235.5" x2="581.8" y2="246.5" stroke="#b8b8b8" stroke-width="0.7"/>
<line x1="584.4" y1="235.5" x2="584.4" y2="246.5" stroke="#b8b8b8" stroke-width="0.7"/>
<line x1="590.3" y1="235.5" x2="590.3" y2="246.5" stroke="#b8b8b8" stroke-width="0.7"/>
<line x1="-105.5" y1="235.5" x2="-105.5" y2="246.5" stroke="#b8c4e8" stroke-width="0.7"/>
<line x1="-95.2" y1="235.5" x2="-95.2" y2="246.5" stroke="#b8c4e8" stroke-width="0.7"/>
<path d="M-103.9,236.4 Q-100,234.8 -96.1,236.4 L-95.9,242.5 Q-97,246.3 -100,246.3 Q-103,246.3 -104.1,242.5 Z" fill="#c9b47c" stroke="#a8925a" stroke-width="0.6"/>
<line x1="-103" y1="241" x2="-97" y2="241" stroke="#8fa2dc" stroke-width="1.6"/>
<ellipse cx="608.5" cy="241.0" rx="18.2" ry="5.3" fill="url(#ellg)" stroke="#f5c37a" stroke-width="0.6"/>
<line x1="604.5" y1="236" x2="604.5" y2="246" stroke="#c8a070" stroke-width="0.6"/>
<line x1="615.5" y1="236" x2="615.5" y2="246" stroke="#c8a070" stroke-width="0.6"/>
<text x="608.5" y="242.3" font-size="3.5" fill="#5070c0" text-anchor="middle">COLFI</text>
<text x="409.4" y="248.9" font-size="12.5" text-anchor="end" fill="#000" font-weight="normal" >0</text>
<text x="627.9" y="249.4" font-size="12.6" text-anchor="start" fill="#000" font-weight="normal" >1372</text>
<rect x="410.2" y="258" width="228.00000000000006" height="90" fill="#fff"/>
<rect x="410.2" y="258" width="26.30000000000001" height="90" fill="#c5e0a3"/>
<rect x="598.8" y="258" width="39.40000000000009" height="90" fill="#fed6a0"/>
<line x1="410.2" y1="303.0" x2="638.2" y2="303.0" stroke="#d8d8d8" stroke-width="1.5"/>
<rect x="410.2" y="258" width="228.00000000000006" height="90" fill="none" stroke="#d0d0d0" stroke-width="1.6"/>
<text x="401.7" y="262.3" font-size="12" text-anchor="end" fill="#000" font-weight="normal" >3</text>
<text x="401.7" y="277.3" font-size="12" text-anchor="end" fill="#000" font-weight="normal" >2</text>
<text x="401.7" y="292.3" font-size="12" text-anchor="end" fill="#000" font-weight="normal" >1</text>
<text x="401.7" y="307.3" font-size="12" text-anchor="end" fill="#000" font-weight="normal" >0</text>
<text x="401.7" y="322.3" font-size="12" text-anchor="end" fill="#000" font-weight="normal" >-1</text>
<text x="401.7" y="337.3" font-size="12" text-anchor="end" fill="#000" font-weight="normal" >-2</text>
<text x="401.7" y="352.3" font-size="12" text-anchor="end" fill="#000" font-weight="normal" >-3</text>
<text transform="translate(371.7,303.0) rotate(-90)" font-size="13" text-anchor="middle">Log2 -</text>
<text transform="translate(386.7,303.0) rotate(-90)" font-size="13" text-anchor="middle">fold change</text>
<text x="495.0" y="270.2" font-size="13" text-anchor="start" fill="#000" font-weight="normal" >Mu proα1(III)</text>
<text x="617.2" y="345.7" font-size="11.5" text-anchor="middle" fill="#000" font-weight="bold" >****</text>
<polyline points="426.4,303.0 444.5,303.0 446.3,303.0 447.5,303.0 448.5,303.0 450.1,303.0 451.4,303.0 454.0,303.0 455.1,303.0 457.0,303.0 458.0,303.0 459.0,303.0 461.1,303.0 463.5,303.0 464.6,303.0 466.0,303.0 467.9,303.0 470.0,303.0 471.3,303.0 473.0,303.0 475.0,303.0 477.2,303.0 478.0,303.0 480.0,303.0 481.6,303.0 483.3,303.0 485.0,303.0 487.9,303.0 488.8,303.0 490.0,303.0 492.0,303.0 494.3,303.0 495.8,303.0 497.0,303.0 498.0,303.0 500.4,303.0 502.4,303.0 504.1,303.0 505.4,303.0 507.0,303.0 509.4,303.0 511.3,303.0 512.0,303.0 514.4,303.0 516.0,303.0 517.4,303.0 519.4,303.0 521.3,303.0 523.0,303.0 524.6,303.0 526.1,303.0 528.0,303.0 529.9,303.0 531.0,303.0 533.1,303.0 534.2,303.0 536.7,303.0 538.0,303.0 539.3,303.0 541.8,303.0 543.6,303.0 545.0,303.0 546.0,303.0 548.2,303.0 550.2,303.0 551.9,303.0 553.3,303.0 554.0,303.0 556.5,303.0 558.1,303.0 559.6,303.0 562.0,303.0 563.8,303.0 565.3,303.0 566.7,303.0 568.7,303.0 570.0,303.0 572.0,303.0 574.1,303.0 575.7,303.0 578.0,303.0 578.9,303.0 580.2,303.0 582.4,303.0 583.6,303.0 585.0,303.0 587.0,303.0 600.6,303.0 602.7,303.0 607.0,303.0 625.4,303.0 630.7,303.0 633.3,303.0" fill="none" stroke="#000000" stroke-width="2" stroke-linejoin="round" marker-start="url(#m000000)" marker-mid="url(#m000000)" marker-end="url(#m000000)"/>
<polyline points="426.4,301.5 444.5,294.3 446.3,300.0 447.5,305.1 448.5,302.8 450.1,303.7 451.4,301.4 454.0,298.4 455.1,304.4 457.0,302.1 458.0,304.0 459.0,301.2 461.1,302.6 463.5,303.4 464.6,306.6 466.0,307.6 467.9,300.9 470.0,305.6 471.3,303.3 473.0,302.8 475.0,301.7 477.2,302.4 478.0,299.2 480.0,302.2 481.6,307.1 483.3,303.8 485.0,304.4 487.9,276.0 488.8,299.3 490.0,298.9 492.0,303.8 494.3,301.5 495.8,301.9 497.0,303.9 498.0,303.1 500.4,301.9 502.4,303.7 504.1,299.3 505.4,299.7 507.0,299.2 509.4,302.8 511.3,302.0 512.0,294.0 514.4,300.6 516.0,304.2 517.4,300.4 519.4,301.2 521.3,308.4 523.0,302.2 524.6,300.8 526.1,306.5 528.0,304.0 529.9,302.2 531.0,299.3 533.1,301.6 534.2,303.5 536.7,300.0 538.0,298.7 539.3,306.6 541.8,301.5 543.6,298.4 545.0,301.5 546.0,305.7 548.2,303.7 550.2,301.2 551.9,301.3 553.3,303.3 554.0,303.5 556.5,297.6 558.1,302.5 559.6,302.5 562.0,303.2 563.8,300.3 565.3,304.7 566.7,303.7 568.7,305.8 570.0,303.4 572.0,301.8 574.1,306.5 575.7,304.9 578.0,283.6 578.9,299.7 580.2,301.6 582.4,299.0 583.6,303.9 585.0,305.3 587.0,303.1 600.6,298.5 602.7,298.5 607.0,295.5 625.4,297.0 630.7,297.0 633.3,297.0" fill="none" stroke="#c0c0c0" stroke-width="2" stroke-linejoin="round" marker-start="url(#mc0c0c0)" marker-mid="url(#mc0c0c0)" marker-end="url(#mc0c0c0)"/>
<polyline points="426.4,304.5 444.5,310.5 446.3,327.5 447.5,294.2 448.5,316.2 450.1,309.8 451.4,336.2 454.0,310.6 455.1,295.3 457.0,305.7 458.0,302.1 459.0,298.6 461.1,306.4 463.5,308.3 464.6,309.3 466.0,294.0 467.9,302.6 470.0,315.9 471.3,293.7 473.0,307.0 475.0,272.2 477.2,302.5 478.0,302.2 480.0,312.9 481.6,302.2 483.3,315.7 485.0,319.6 487.9,328.0 488.8,321.8 490.0,305.1 492.0,295.8 494.3,337.4 495.8,310.6 497.0,306.7 498.0,302.6 500.4,303.6 502.4,289.7 504.1,303.0 505.4,311.6 507.0,298.0 509.4,308.6 511.3,312.9 512.0,311.8 514.4,287.1 516.0,316.0 517.4,328.5 519.4,315.3 521.3,292.0 523.0,315.6 524.6,324.3 526.1,319.7 528.0,301.0 529.9,308.7 531.0,302.5 533.1,308.0 534.2,305.5 536.7,299.3 538.0,309.9 539.3,297.8 541.8,307.6 543.6,299.0 545.0,299.7 546.0,295.6 548.2,314.8 550.2,303.6 551.9,311.7 553.3,298.5 554.0,300.5 556.5,300.2 558.1,306.8 559.6,324.9 562.0,310.2 563.8,304.7 565.3,321.2 566.7,330.7 568.7,282.6 570.0,303.9 572.0,304.2 574.1,311.6 575.7,319.7 578.0,317.4 578.9,313.3 580.2,306.3 582.4,315.5 583.6,300.8 585.0,307.0 587.0,308.2 600.6,289.5 602.7,307.5 607.0,298.5 625.4,289.5 630.7,292.5 633.3,280.8" fill="none" stroke="#5b9bd5" stroke-width="2" stroke-linejoin="round" marker-start="url(#m5b9bd5)" marker-mid="url(#m5b9bd5)" marker-end="url(#m5b9bd5)"/>
<polyline points="426.4,295.5 444.5,325.6 446.3,313.5 447.5,299.2 448.5,318.0 450.1,312.3 451.4,338.4 454.0,304.5 455.1,293.0 457.0,309.0 458.0,300.7 459.0,297.0 461.1,306.0 463.5,309.0 464.6,303.8 466.0,300.0 467.9,302.2 470.0,309.1 471.3,303.1 473.0,309.0 475.0,281.6 477.2,305.8 478.0,300.0 480.0,312.0 481.6,305.4 483.3,306.8 485.0,313.5 487.9,330.1 488.8,313.9 490.0,305.9 492.0,298.5 494.3,337.6 495.8,312.8 497.0,305.1 498.0,309.0 500.4,308.2 502.4,296.0 504.1,301.4 505.4,305.2 507.0,300.0 509.4,304.6 511.3,308.3 512.0,312.0 514.4,291.6 516.0,313.1 517.4,325.5 519.4,315.5 521.3,294.5 523.0,314.3 524.6,323.2 526.1,310.8 528.0,300.0 529.9,309.7 531.0,308.2 533.1,310.4 534.2,307.5 536.7,295.9 538.0,310.5 539.3,298.1 541.8,306.8 543.6,301.5 545.0,296.8 546.0,298.5 548.2,312.2 550.2,301.5 551.9,310.1 553.3,297.3 554.0,298.5 556.5,301.6 558.1,311.2 559.6,327.6 562.0,310.0 563.8,306.0 565.3,314.2 566.7,332.1 568.7,315.8 570.0,298.5 572.0,300.2 574.1,313.0 575.7,306.9 578.0,315.0 578.9,306.5 580.2,307.9 582.4,310.4 583.6,300.8 585.0,301.5 587.0,309.0 600.6,272.6 602.7,289.5 607.0,287.2 625.4,277.6 630.7,282.6 633.3,273.0" fill="none" stroke="#c8202d" stroke-width="2" stroke-linejoin="round" marker-start="url(#mc8202d)" marker-mid="url(#mc8202d)" marker-end="url(#mc8202d)"/>
<line x1="412.2" y1="358.5" x2="607" y2="358.5" stroke="#c8c8c8" stroke-width="1"/>
<line x1="413.2" y1="358.5" x2="414.8" y2="358.5" stroke="#c84aa8" stroke-width="2"/>
<line x1="425.8" y1="358.5" x2="439.3" y2="358.5" stroke="#c84aa8" stroke-width="2"/>
<line x1="444.6" y1="358.5" x2="454.4" y2="358.5" stroke="#c84aa8" stroke-width="2"/>
<line x1="457.5" y1="358.5" x2="461.5" y2="358.5" stroke="#c84aa8" stroke-width="2"/>
<line x1="466.1" y1="358.5" x2="475.8" y2="358.5" stroke="#c84aa8" stroke-width="2"/>
<line x1="480.8" y1="358.5" x2="489.3" y2="358.5" stroke="#c84aa8" stroke-width="2"/>
<line x1="494.4" y1="358.5" x2="501.6" y2="358.5" stroke="#c84aa8" stroke-width="2"/>
<line x1="506.9" y1="358.5" x2="519.6" y2="358.5" stroke="#c84aa8" stroke-width="2"/>
<line x1="523.3" y1="358.5" x2="533.7" y2="358.5" stroke="#c84aa8" stroke-width="2"/>
<line x1="538.5" y1="358.5" x2="544.8" y2="358.5" stroke="#c84aa8" stroke-width="2"/>
<line x1="549.0" y1="358.5" x2="562.6" y2="358.5" stroke="#c84aa8" stroke-width="2"/>
<line x1="565.7" y1="358.5" x2="579.3" y2="358.5" stroke="#c84aa8" stroke-width="2"/>
<line x1="584.1" y1="358.5" x2="597.0" y2="358.5" stroke="#c84aa8" stroke-width="2"/>
<line x1="416.2" y1="353.0" x2="416.2" y2="364.0" stroke="#b8b8b8" stroke-width="0.7"/>
<line x1="419.1" y1="353.0" x2="419.1" y2="364.0" stroke="#b8b8b8" stroke-width="0.7"/>
<line x1="425.2" y1="353.0" x2="425.2" y2="364.0" stroke="#b8b8b8" stroke-width="0.7"/>
<line x1="431.3" y1="353.0" x2="431.3" y2="364.0" stroke="#b8b8b8" stroke-width="0.7"/>
<line x1="435.8" y1="353.0" x2="435.8" y2="364.0" stroke="#b8b8b8" stroke-width="0.7"/>
<line x1="438.8" y1="353.0" x2="438.8" y2="364.0" stroke="#b8b8b8" stroke-width="0.7"/>
<line x1="442.2" y1="353.0" x2="442.2" y2="364.0" stroke="#b8b8b8" stroke-width="0.7"/>
<line x1="447.5" y1="353.0" x2="447.5" y2="364.0" stroke="#b8b8b8" stroke-width="0.7"/>
<line x1="451.3" y1="353.0" x2="451.3" y2="364.0" stroke="#b8b8b8" stroke-width="0.7"/>
<line x1="458.1" y1="353.0" x2="458.1" y2="364.0" stroke="#b8b8b8" stroke-width="0.7"/>
<line x1="463.3" y1="353.0" x2="463.3" y2="364.0" stroke="#b8b8b8" stroke-width="0.7"/>
<line x1="466.7" y1="353.0" x2="466.7" y2="364.0" stroke="#b8b8b8" stroke-width="0.7"/>
<line x1="472.1" y1="353.0" x2="472.1" y2="364.0" stroke="#b8b8b8" stroke-width="0.7"/>
<line x1="476.2" y1="353.0" x2="476.2" y2="364.0" stroke="#b8b8b8" stroke-width="0.7"/>
<line x1="482.9" y1="353.0" x2="482.9" y2="364.0" stroke="#b8b8b8" stroke-width="0.7"/>
<line x1="489.5" y1="353.0" x2="489.5" y2="364.0" stroke="#b8b8b8" stroke-width="0.7"/>
<line x1="494.3" y1="353.0" x2="494.3" y2="364.0" stroke="#b8b8b8" stroke-width="0.7"/>
<line x1="499.7" y1="353.0" x2="499.7" y2="364.0" stroke="#b8b8b8" stroke-width="0.7"/>
<line x1="505.4" y1="353.0" x2="505.4" y2="364.0" stroke="#b8b8b8" stroke-width="0.7"/>
<line x1="511.5" y1="353.0" x2="511.5" y2="364.0" stroke="#b8b8b8" stroke-width="0.7"/>
<line x1="518.4" y1="353.0" x2="518.4" y2="364.0" stroke="#b8b8b8" stroke-width="0.7"/>
<line x1="521.0" y1="353.0" x2="521.0" y2="364.0" stroke="#b8b8b8" stroke-width="0.7"/>
<line x1="525.1" y1="353.0" x2="525.1" y2="364.0" stroke="#b8b8b8" stroke-width="0.7"/>
<line x1="530.4" y1="353.0" x2="530.4" y2="364.0" stroke="#b8b8b8" stroke-width="0.7"/>
<line x1="534.2" y1="353.0" x2="534.2" y2="364.0" stroke="#b8b8b8" stroke-width="0.7"/>
<line x1="539.4" y1="353.0" x2="539.4" y2="364.0" stroke="#b8b8b8" stroke-width="0.7"/>
<line x1="542.3" y1="353.0" x2="542.3" y2="364.0" stroke="#b8b8b8" stroke-width="0.7"/>
<line x1="548.7" y1="353.0" x2="548.7" y2="364.0" stroke="#b8b8b8" stroke-width="0.7"/>
<line x1="553.6" y1="353.0" x2="553.6" y2="364.0" stroke="#b8b8b8" stroke-width="0.7"/>
<line x1="556.6" y1="353.0" x2="556.6" y2="364.0" stroke="#b8b8b8" stroke-width="0.7"/>
<line x1="562.1" y1="353.0" x2="562.1" y2="364.0" stroke="#b8b8b8" stroke-width="0.7"/>
<line x1="566.0" y1="353.0" x2="566.0" y2="364.0" stroke="#b8b8b8" stroke-width="0.7"/>
<line x1="569.4" y1="353.0" x2="569.4" y2="364.0" stroke="#b8b8b8" stroke-width="0.7"/>
<line x1="574.1" y1="353.0" x2="574.1" y2="364.0" stroke="#b8b8b8" stroke-width="0.7"/>
<line x1="577.2" y1="353.0" x2="577.2" y2="364.0" stroke="#b8b8b8" stroke-width="0.7"/>
<line x1="580.6" y1="353.0" x2="580.6" y2="364.0" stroke="#b8b8b8" stroke-width="0.7"/>
<line x1="587.0" y1="353.0" x2="587.0" y2="364.0" stroke="#b8b8b8" stroke-width="0.7"/>
<line x1="592.7" y1="353.0" x2="592.7" y2="364.0" stroke="#b8b8b8" stroke-width="0.7"/>
<line x1="595.2" y1="353.0" x2="595.2" y2="364.0" stroke="#b8b8b8" stroke-width="0.7"/>
<line x1="601.2" y1="353.0" x2="601.2" y2="364.0" stroke="#b8b8b8" stroke-width="0.7"/>
<line x1="414.3" y1="353.0" x2="414.3" y2="364.0" stroke="#b8c4e8" stroke-width="0.7"/>
<line x1="424.6" y1="353.0" x2="424.6" y2="364.0" stroke="#b8c4e8" stroke-width="0.7"/>
<path d="M415.90000000000003,353.9 Q419.8,352.3 423.7,353.9 L423.90000000000003,360.0 Q422.8,363.8 419.8,363.8 Q416.8,363.8 415.7,360.0 Z" fill="#c9b47c" stroke="#a8925a" stroke-width="0.6"/>
<line x1="416.8" y1="358.5" x2="422.8" y2="358.5" stroke="#8fa2dc" stroke-width="1.6"/>
<ellipse cx="621.5" cy="358.5" rx="18.5" ry="5.3" fill="url(#ellg)" stroke="#f5c37a" stroke-width="0.6"/>
<line x1="617.5" y1="353.5" x2="617.5" y2="363.5" stroke="#c8a070" stroke-width="0.6"/>
<line x1="628.5" y1="353.5" x2="628.5" y2="363.5" stroke="#c8a070" stroke-width="0.6"/>
<text x="621.5" y="359.8" font-size="3.5" fill="#5070c0" text-anchor="middle">COLFI</text>
<text x="408.4" y="365.0" font-size="12.5" text-anchor="end" fill="#000" font-weight="normal" >0</text>
<text x="640.2" y="363.3" font-size="12.6" text-anchor="start" fill="#000" font-weight="normal" >1464</text>
<line x1="253.5" y1="35.5" x2="257.3" y2="45.5" stroke="#000" stroke-width="1.3"/>
<path d="M254.6,45.5 L260.2,44.4 L258.6,50.5 Z" fill="#000"/>
<text x="70.2" y="400.9" font-size="14.2" text-anchor="start" fill="#000" font-weight="normal" >Human</text>
<text x="70.2" y="466.8" font-size="14.2" text-anchor="start" fill="#000" font-weight="normal" >Mouse</text>
<line x1="78" y1="415.5" x2="105" y2="415.5" stroke="#000000" stroke-width="2.1"/>
<circle cx="91.6" cy="415.5" r="5.5" fill="#000000"/>
<text x="108.2" y="420.4" font-size="14.3" text-anchor="start" fill="#000" font-weight="normal" >Normal</text>
<line x1="171.2" y1="415.5" x2="197.8" y2="415.5" stroke="#bdbdbd" stroke-width="2.1"/>
<circle cx="184.5" cy="415.5" r="5.5" fill="#bdbdbd"/>
<text x="201.5" y="420.4" font-size="14.3" text-anchor="start" fill="#000" font-weight="normal" >PanIN</text>
<line x1="76.7" y1="440.6" x2="103.9" y2="440.6" stroke="#5b9bd5" stroke-width="2.1"/>
<circle cx="90.4" cy="440.6" r="5.5" fill="#5b9bd5"/>
<text x="105.4" y="445.5" font-size="14.3" text-anchor="start" fill="#000" font-weight="normal" >Pancreatitis</text>
<line x1="201.9" y1="440.6" x2="229" y2="440.6" stroke="#c8202d" stroke-width="2.1"/>
<circle cx="215.6" cy="440.6" r="5.5" fill="#c8202d"/>
<text x="232.0" y="445.5" font-size="14.3" text-anchor="start" fill="#000" font-weight="normal" >PDAC</text>
<line x1="77" y1="481.2" x2="103.5" y2="481.2" stroke="#000000" stroke-width="2.1"/>
<circle cx="90.2" cy="481.2" r="5.5" fill="#000000"/>
<text x="107.0" y="486.1" font-size="14.3" text-anchor="start" fill="#000" font-weight="normal" >Normal</text>
<line x1="169.8" y1="481.2" x2="196.8" y2="481.2" stroke="#bdbdbd" stroke-width="2.1"/>
<circle cx="183.5" cy="481.2" r="5.5" fill="#bdbdbd"/>
<text x="199.9" y="486.1" font-size="14.3" text-anchor="start" fill="#000" font-weight="normal" >Early PanIN</text>
<line x1="76" y1="506.4" x2="103" y2="506.4" stroke="#5b9bd5" stroke-width="2.1"/>
<circle cx="89.6" cy="506.4" r="5.5" fill="#5b9bd5"/>
<text x="104.0" y="511.3" font-size="14.3" text-anchor="start" fill="#000" font-weight="normal" >Late PanIN</text>
<line x1="200.9" y1="506.4" x2="227.9" y2="506.4" stroke="#c8202d" stroke-width="2.1"/>
<circle cx="214.2" cy="506.4" r="5.5" fill="#c8202d"/>
<text x="231.0" y="511.3" font-size="14.3" text-anchor="start" fill="#000" font-weight="normal" >PDAC</text>
<text x="341.4" y="400.8" font-size="22.5" text-anchor="start" fill="#000" font-weight="normal" >c</text>
<text x="402.0" y="407.8" font-size="12.6" text-anchor="start" fill="#000" font-weight="normal" >pN-proteinases</text>
<text x="618.2" y="393.0" font-size="12.6" text-anchor="end" fill="#000" font-weight="normal" >pC-proteinases:</text>
<text x="618.2" y="408.3" font-size="12.6" text-anchor="end" fill="#000" font-weight="normal" >BMP1/TLL1/TLL2</text>
<line x1="454" y1="412" x2="454" y2="420.3" stroke="#000" stroke-width="1.4"/>
<path d="M448.8,419.3 L459.2,419.3 L454,427.8 Z" fill="#000"/>
<line x1="592.8" y1="414" x2="592.8" y2="420.3" stroke="#000" stroke-width="1.4"/>
<path d="M587.5999999999999,419.3 L598.0,419.3 L592.8,427.8 Z" fill="#000"/>
<polyline points="455.0,437.68 456.0,437.43 457.0,437.27 458.0,437.20 459.0,437.22 460.0,437.34 461.0,437.54 462.0,437.82 463.0,438.18 464.0,438.60 465.0,439.09 466.0,439.61 467.0,440.17 468.0,440.75 469.0,441.33 470.0,441.90 471.0,442.44 472.0,442.95 473.0,443.41 474.0,443.80 475.0,444.12 476.0,444.37 477.0,444.53 478.0,444.60 479.0,444.58 480.0,444.46 481.0,444.26 482.0,443.98 483.0,443.62 484.0,443.20 485.0,442.71 486.0,442.19 487.0,441.63 488.0,441.05 489.0,440.47 490.0,439.90 491.0,439.36 492.0,438.85 493.0,438.39 494.0,438.00 495.0,437.68 496.0,437.43 497.0,437.27 498.0,437.20 499.0,437.22 500.0,437.34 501.0,437.54 502.0,437.82 503.0,438.18 504.0,438.60 505.0,439.09 506.0,439.61 507.0,440.17 508.0,440.75 509.0,441.33 510.0,441.90 511.0,442.44 512.0,442.95 513.0,443.41 514.0,443.80 515.0,444.12 516.0,444.37 517.0,444.53 518.0,444.60 519.0,444.58 520.0,444.46 521.0,444.26 522.0,443.98 523.0,443.62 524.0,443.20 525.0,442.71 526.0,442.19 527.0,441.63 528.0,441.05 529.0,440.47 530.0,439.90 531.0,439.36 532.0,438.85 533.0,438.39 534.0,438.00 535.0,437.68 536.0,437.43 537.0,437.27 538.0,437.20 539.0,437.22 540.0,437.34 541.0,437.54 542.0,437.82 543.0,438.18 544.0,438.60 545.0,439.09 546.0,439.61 547.0,440.17 548.0,440.75 549.0,441.33 550.0,441.90 551.0,442.44 552.0,442.95 553.0,443.41 554.0,443.80 555.0,444.12 556.0,444.37 557.0,444.53 558.0,444.60 559.0,444.58 560.0,444.46 561.0,444.26 562.0,443.98 563.0,443.62 564.0,443.20 565.0,442.71 566.0,442.19 567.0,441.63 568.0,441.05 569.0,440.47 570.0,439.90 571.0,439.36 572.0,438.85 573.0,438.39 574.0,438.00 575.0,437.68 576.0,437.43 577.0,437.27 578.0,437.20 579.0,437.22 580.0,437.34 581.0,437.54 582.0,437.82 583.0,438.18 584.0,438.60 585.0,439.09 586.0,439.61 587.0,440.17 588.0,440.75 589.0,441.33 590.0,441.90 591.0,442.44 592.0,442.95" fill="none" stroke="#b0b0b0" stroke-width="0.9"/>
<polyline points="455.0,444.09 456.0,443.76 457.0,443.36 458.0,442.90 459.0,442.39 460.0,441.84 461.0,441.27 462.0,440.69 463.0,440.11 464.0,439.55 465.0,439.03 466.0,438.56 467.0,438.14 468.0,437.79 469.0,437.51 470.0,437.32 471.0,437.22 472.0,437.21 473.0,437.29 474.0,437.45 475.0,437.71 476.0,438.04 477.0,438.44 478.0,438.90 479.0,439.41 480.0,439.96 481.0,440.53 482.0,441.11 483.0,441.69 484.0,442.25 485.0,442.77 486.0,443.24 487.0,443.66 488.0,444.01 489.0,444.29 490.0,444.48 491.0,444.58 492.0,444.59 493.0,444.51 494.0,444.35 495.0,444.09 496.0,443.76 497.0,443.36 498.0,442.90 499.0,442.39 500.0,441.84 501.0,441.27 502.0,440.69 503.0,440.11 504.0,439.55 505.0,439.03 506.0,438.56 507.0,438.14 508.0,437.79 509.0,437.51 510.0,437.32 511.0,437.22 512.0,437.21 513.0,437.29 514.0,437.45 515.0,437.71 516.0,438.04 517.0,438.44 518.0,438.90 519.0,439.41 520.0,439.96 521.0,440.53 522.0,441.11 523.0,441.69 524.0,442.25 525.0,442.77 526.0,443.24 527.0,443.66 528.0,444.01 529.0,444.29 530.0,444.48 531.0,444.58 532.0,444.59 533.0,444.51 534.0,444.35 535.0,444.09 536.0,443.76 537.0,443.36 538.0,442.90 539.0,442.39 540.0,441.84 541.0,441.27 542.0,440.69 543.0,440.11 544.0,439.55 545.0,439.03 546.0,438.56 547.0,438.14 548.0,437.79 549.0,437.51 550.0,437.32 551.0,437.22 552.0,437.21 553.0,437.29 554.0,437.45 555.0,437.71 556.0,438.04 557.0,438.44 558.0,438.90 559.0,439.41 560.0,439.96 561.0,440.53 562.0,441.11 563.0,441.69 564.0,442.25 565.0,442.77 566.0,443.24 567.0,443.66 568.0,444.01 569.0,444.29 570.0,444.48 571.0,444.58 572.0,444.59 573.0,444.51 574.0,444.35 575.0,444.09 576.0,443.76 577.0,443.36 578.0,442.90 579.0,442.39 580.0,441.84 581.0,441.27 582.0,440.69 583.0,440.11 584.0,439.55 585.0,439.03 586.0,438.56 587.0,438.14 588.0,437.79 589.0,437.51 590.0,437.32 591.0,437.22 592.0,437.21" fill="none" stroke="#707070" stroke-width="1.0"/>
<polyline points="455.0,440.90 456.0,441.48 457.0,442.04 458.0,442.58 459.0,443.07 460.0,443.52 461.0,443.89 462.0,444.20 463.0,444.42 464.0,444.55 465.0,444.60 466.0,444.55 467.0,444.42 468.0,444.20 469.0,443.89 470.0,443.52 471.0,443.07 472.0,442.58 473.0,442.04 474.0,441.48 475.0,440.90 476.0,440.32 477.0,439.76 478.0,439.22 479.0,438.73 480.0,438.28 481.0,437.91 482.0,437.60 483.0,437.38 484.0,437.25 485.0,437.20 486.0,437.25 487.0,437.38 488.0,437.60 489.0,437.91 490.0,438.28 491.0,438.73 492.0,439.22 493.0,439.76 494.0,440.32 495.0,440.90 496.0,441.48 497.0,442.04 498.0,442.58 499.0,443.07 500.0,443.52 501.0,443.89 502.0,444.20 503.0,444.42 504.0,444.55 505.0,444.60 506.0,444.55 507.0,444.42 508.0,444.20 509.0,443.89 510.0,443.52 511.0,443.07 512.0,442.58 513.0,442.04 514.0,441.48 515.0,440.90 516.0,440.32 517.0,439.76 518.0,439.22 519.0,438.73 520.0,438.28 521.0,437.91 522.0,437.60 523.0,437.38 524.0,437.25 525.0,437.20 526.0,437.25 527.0,437.38 528.0,437.60 529.0,437.91 530.0,438.28 531.0,438.73 532.0,439.22 533.0,439.76 534.0,440.32 535.0,440.90 536.0,441.48 537.0,442.04 538.0,442.58 539.0,443.07 540.0,443.52 541.0,443.89 542.0,444.20 543.0,444.42 544.0,444.55 545.0,444.60 546.0,444.55 547.0,444.42 548.0,444.20 549.0,443.89 550.0,443.52 551.0,443.07 552.0,442.58 553.0,442.04 554.0,441.48 555.0,440.90 556.0,440.32 557.0,439.76 558.0,439.22 559.0,438.73 560.0,438.28 561.0,437.91 562.0,437.60 563.0,437.38 564.0,437.25 565.0,437.20 566.0,437.25 567.0,437.38 568.0,437.60 569.0,437.91 570.0,438.28 571.0,438.73 572.0,439.22 573.0,439.76 574.0,440.32 575.0,440.90 576.0,441.48 577.0,442.04 578.0,442.58 579.0,443.07 580.0,443.52 581.0,443.89 582.0,444.20 583.0,444.42 584.0,444.55 585.0,444.60 586.0,444.55 587.0,444.42 588.0,444.20 589.0,443.89 590.0,443.52 591.0,443.07 592.0,442.58" fill="none" stroke="#2a2a2a" stroke-width="1.1"/>
<path d="M431.5,440 L437,430.6 L450,430.6 L455.2,440 L450,449.4 L437,449.4 Z" fill="#7dc242"/>
<ellipse cx="614" cy="441" rx="20.6" ry="7" fill="#fdca6e"/>
<text x="448.7" y="438.0" font-size="12.5" text-anchor="end" fill="#000" font-weight="normal" >N-pro-</text>
<text x="448.7" y="448.0" font-size="12.5" text-anchor="end" fill="#000" font-weight="normal" >domain</text>
<text x="598.3" y="438.4" font-size="12.5" text-anchor="start" fill="#000" font-weight="normal" >C-pro-</text>
<text x="598.3" y="448.4" font-size="12.5" text-anchor="start" fill="#000" font-weight="normal" >domain</text>
<text x="428.7" y="467.0" font-size="12.5" text-anchor="end" fill="#000" font-weight="normal" >proα1(I)</text>
<text x="428.7" y="482.2" font-size="12.5" text-anchor="end" fill="#000" font-weight="normal" >pCα1(I)</text>
<text x="428.7" y="499.3" font-size="12.5" text-anchor="end" fill="#000" font-weight="normal" >C-pro/α1(I)</text>
<text x="428.7" y="516.4" font-size="12.5" text-anchor="end" fill="#000" font-weight="normal" >α1(I)</text>
<line x1="432.2" y1="462.8" x2="455" y2="462.8" stroke="#7dc242" stroke-width="3.2"/>
<line x1="454.6" y1="462.8" x2="596.3" y2="462.8" stroke="#000" stroke-width="2.2"/>
<line x1="456" y1="477.5" x2="596.3" y2="477.5" stroke="#000" stroke-width="2.2"/>
<line x1="456" y1="511.5" x2="596.3" y2="511.5" stroke="#000" stroke-width="2.2"/>
<line x1="596.3" y1="462.8" x2="633.8" y2="462.8" stroke="#fdca6e" stroke-width="4"/>
<line x1="596.3" y1="477.6" x2="633.8" y2="477.6" stroke="#fdca6e" stroke-width="4"/>
<line x1="596.3" y1="493.9" x2="633.8" y2="493.9" stroke="#fdca6e" stroke-width="4"/>
<text x="-0.7" y="543.6" font-size="22.5" text-anchor="start" fill="#000" font-weight="normal" >d</text>
<text x="99.3" y="546.1" font-size="12.7" text-anchor="middle" fill="#000" font-weight="normal" >Normal pancreas</text>
<text x="221.7" y="546.1" font-size="12.7" text-anchor="middle" fill="#000" font-weight="normal" >PanIN</text>
<text x="345.9" y="546.1" font-size="12.7" text-anchor="middle" fill="#000" font-weight="normal" >Pancreatits</text>
<text x="469.9" y="546.1" font-size="12.7" text-anchor="middle" fill="#000" font-weight="normal" >PDAC</text>
<g clip-path="url(#cp_t1)"><g filter="url(#soft)">
<rect x="37.1" y="548.7" width="121.3" height="115.2" fill="#f6ebeb"/>
<g transform="rotate(0 97.8 606.3)"><rect x="-7.9" y="503.7" width="211.3" height="205.2" filter="url(#f_t1_pink)"/></g>
<g transform="rotate(0 97.8 606.3)"><rect x="-7.9" y="503.7" width="211.3" height="205.2" filter="url(#f_t1_pink2)"/></g>
<g transform="rotate(0 97.8 606.3)"><rect x="-7.9" y="503.7" width="211.3" height="205.2" filter="url(#f_t1_wh)"/></g>
<g transform="rotate(-70 97.8 606.3)"><rect x="-7.9" y="503.7" width="211.3" height="205.2" filter="url(#f_t1_br)"/></g>
<g transform="rotate(-30 97.8 606.3)"><rect x="-7.9" y="503.7" width="211.3" height="205.2" filter="url(#f_t1_brb)"/></g>
<g transform="rotate(-60 97.8 606.3)"><rect x="-7.9" y="503.7" width="211.3" height="205.2" filter="url(#f_t1_br2)"/></g>
<path d="M37,548 L85,548 C80,570 75,590 72.5,605 C70.5,625 70,645 70,665 L37,665 Z" fill="#f1f0ee"/>
</g></g>
<g clip-path="url(#cp_t2)"><g filter="url(#soft)">
<rect x="161.0" y="548.7" width="121.4" height="115.2" fill="#f5ece6"/>
<g transform="rotate(0 221.7 606.3)"><rect x="116.0" y="503.7" width="211.4" height="205.2" filter="url(#f_t2_wh)"/></g>
<g transform="rotate(25 221.7 606.3)"><rect x="116.0" y="503.7" width="211.4" height="205.2" filter="url(#f_t2_br)"/></g>
<g transform="rotate(-40 221.7 606.3)"><rect x="116.0" y="503.7" width="211.4" height="205.2" filter="url(#f_t2_brb)"/></g>
<g transform="rotate(30 221.7 606.3)"><rect x="116.0" y="503.7" width="211.4" height="205.2" filter="url(#f_t2_br2)"/></g>
<g transform="rotate(0 221.7 606.3)"><rect x="161.0" y="548.7" width="121.4" height="115.2" filter="url(#f_t2_pink)"/></g>
<g transform="rotate(0 221.7 606.3)"><rect x="161.0" y="548.7" width="121.4" height="115.2" filter="url(#f_t2_lumen)"/></g>
</g></g>
<g clip-path="url(#cp_t3)"><g filter="url(#soft)">
<rect x="285.0" y="548.7" width="121.8" height="115.2" fill="#f3ebe5"/>
<g transform="rotate(0 345.9 606.3)" opacity="0.7"><rect x="240.0" y="503.7" width="211.8" height="205.2" filter="url(#f_t3_pk)"/></g>
<g transform="rotate(0 345.9 606.3)"><rect x="240.0" y="503.7" width="211.8" height="205.2" filter="url(#f_t3_br)"/></g>
<g transform="rotate(0 345.9 606.3)"><rect x="240.0" y="503.7" width="211.8" height="205.2" filter="url(#f_t3_br2)"/></g>
<path d="M285,600 C310,603 330,597 350,591 C370,585 390,582 407,579" fill="none" stroke="#6e3016" stroke-width="1.8" opacity="0.85"/>
<path d="M285,604 C310,607 332,600 352,594 C372,588 392,585 407,583" fill="none" stroke="#8a4a28" stroke-width="1.3" opacity="0.8"/>
<path d="M285,597 C305,599 330,593 352,587 C372,581 392,578 407,576" fill="none" stroke="#9a5a38" stroke-width="1.1" opacity="0.7"/>
<path d="M285,651 C310,646 340,643 360,645 C380,647 395,652 407,657 L407,664 L285,664 Z" fill="#f0efed"/>
<rect x="292.7" y="654.5" width="58.6" height="2.2" fill="#fff" stroke="#c8c8c8" stroke-width="0.5"/>
</g></g>
<g clip-path="url(#cp_t4)"><g filter="url(#soft)">
<rect x="409.5" y="548.7" width="120.8" height="115.2" fill="#f5f2f2"/>
<g transform="rotate(0 469.9 606.3)"><rect x="364.5" y="503.7" width="210.8" height="205.2" filter="url(#f_t4_gr)"/></g>
<g transform="rotate(-60 469.9 606.3)"><rect x="364.5" y="503.7" width="210.8" height="205.2" filter="url(#f_t4_pk)"/></g>
<g transform="rotate(-65 469.9 606.3)"><rect x="364.5" y="503.7" width="210.8" height="205.2" filter="url(#f_t4_br)"/></g>
<g transform="rotate(-65 469.9 606.3)"><rect x="364.5" y="503.7" width="210.8" height="205.2" filter="url(#f_t4_br2)"/></g>
<rect x="409.5" y="548.7" width="120.8" height="115.2" fill="url(#t4fade)"/>
<path d="M410,575 C420,570 428,562 436,552" fill="none" stroke="#d860b0" stroke-width="2" opacity="0.8"/>
<rect x="418" y="655" width="59" height="2" fill="#fff" stroke="#c8c8c8" stroke-width="0.5"/>
</g></g>
<g clip-path="url(#cp_b1)"><g filter="url(#soft)">
<rect x="37.1" y="665.7" width="121.3" height="120.7" fill="#f6f1ec"/>
<g transform="rotate(-35 97.8 726.0)"><rect x="-7.9" y="620.7" width="211.3" height="210.7" filter="url(#f_b1_br)"/></g>
<g transform="rotate(-70 97.8 726.0)"><rect x="-7.9" y="620.7" width="211.3" height="210.7" filter="url(#f_b1_brb)"/></g>
<g transform="rotate(-40 97.8 726.0)"><rect x="-7.9" y="620.7" width="211.3" height="210.7" filter="url(#f_b1_br2)"/></g>
</g></g>
<g clip-path="url(#cp_b2)"><g filter="url(#soft)">
<rect x="161.0" y="665.7" width="121.4" height="120.7" fill="#f3f0ed"/>
<g transform="rotate(0 221.7 726.0)"><rect x="116.0" y="620.7" width="211.4" height="210.7" filter="url(#f_b2_or)"/></g>
<g transform="rotate(0 221.7 726.0)"><rect x="116.0" y="620.7" width="211.4" height="210.7" filter="url(#f_b2_net)"/></g>
<g transform="rotate(0 221.7 726.0)"><rect x="116.0" y="620.7" width="211.4" height="210.7" filter="url(#f_b2_blob)"/></g>
</g></g>
<g clip-path="url(#cp_b3)"><g filter="url(#soft)">
<rect x="285.0" y="665.7" width="121.8" height="120.7" fill="#f4f0ef"/>
<g transform="rotate(4 345.9 726.0)"><rect x="240.0" y="620.7" width="211.8" height="210.7" filter="url(#f_b3_pk)"/></g>
<g transform="rotate(4 345.9 726.0)"><rect x="240.0" y="620.7" width="211.8" height="210.7" filter="url(#f_b3_br)"/></g>
<rect x="285" y="665.7" width="70" height="4" fill="#7a3020" opacity="0.6"/>
</g></g>
<g clip-path="url(#cp_b4)"><g filter="url(#soft)">
<rect x="409.5" y="665.7" width="120.8" height="120.7" fill="#f3f1f1"/>
<g filter="url(#pkblur)">
<path d="M409,760 C430,740 450,715 478,700 C495,690 510,680 530,668" fill="none" stroke="#e34aa5" stroke-width="7.2" opacity="0.85" stroke-linecap="round"/>
<path d="M420,730 C440,720 455,712 470,705" fill="none" stroke="#e34aa5" stroke-width="3.9" opacity="0.7" stroke-linecap="round"/>
<path d="M490,770 C500,740 505,720 512,700 C516,690 520,680 528,668" fill="none" stroke="#e34aa5" stroke-width="4.5" opacity="0.75" stroke-linecap="round"/>
<path d="M460,786 C470,760 480,740 490,720" fill="none" stroke="#e34aa5" stroke-width="3.2" opacity="0.6" stroke-linecap="round"/>
<path d="M500,712 C510,705 518,695 526,682" fill="none" stroke="#e34aa5" stroke-width="3.9" opacity="0.7" stroke-linecap="round"/>
<path d="M415,720 C430,712 440,708 452,704" fill="none" stroke="#e34aa5" stroke-width="2.9" opacity="0.6" stroke-linecap="round"/>
</g>
<g transform="rotate(-58 469.9 726.0)"><rect x="364.5" y="620.7" width="210.8" height="210.7" filter="url(#f_b4_br)"/></g>
<g transform="rotate(-60 469.9 726.0)"><rect x="364.5" y="620.7" width="210.8" height="210.7" filter="url(#f_b4_br2)"/></g>
</g></g>
<rect x="107.1" y="607.6" width="24.3" height="23.6" fill="none" stroke="#000" stroke-width="2.3"/>
<line x1="107.1" y1="631.2" x2="37.1" y2="665.5" stroke="#000" stroke-width="2.6" stroke-dasharray="6.5 4.5"/>
<line x1="131.4" y1="631.2" x2="158.4" y2="665.5" stroke="#000" stroke-width="2.6" stroke-dasharray="6.5 4.5"/>
<rect x="206.7" y="562.9" width="23.5" height="23.0" fill="none" stroke="#000" stroke-width="2.3"/>
<line x1="206.7" y1="585.9" x2="161" y2="665.5" stroke="#000" stroke-width="2.6" stroke-dasharray="6.5 4.5"/>
<line x1="230.2" y1="585.9" x2="282.4" y2="665.5" stroke="#000" stroke-width="2.6" stroke-dasharray="6.5 4.5"/>
<rect x="325.6" y="611.3" width="23.9" height="23.9" fill="none" stroke="#000" stroke-width="2.3"/>
<line x1="325.6" y1="635.2" x2="285" y2="665.5" stroke="#000" stroke-width="2.6" stroke-dasharray="6.5 4.5"/>
<line x1="349.5" y1="635.2" x2="406.8" y2="665.5" stroke="#000" stroke-width="2.6" stroke-dasharray="6.5 4.5"/>
<rect x="472.3" y="601.7" width="24.0" height="23.5" fill="none" stroke="#000" stroke-width="2.3"/>
<line x1="472.3" y1="625.2" x2="409.5" y2="665.5" stroke="#000" stroke-width="2.6" stroke-dasharray="6.5 4.5"/>
<line x1="496.3" y1="625.2" x2="530.3" y2="665.5" stroke="#000" stroke-width="2.6" stroke-dasharray="6.5 4.5"/>
<rect x="45" y="653.4" width="58" height="3.2" fill="#000"/>
<text x="72.0" y="652.0" font-size="8.4" text-anchor="middle" fill="#000" font-weight="normal" >200µM</text>
<rect x="44.1" y="778.4" width="15.4" height="3.6" fill="#000"/>
<text x="43.2" y="774.8" font-size="10" text-anchor="start" fill="#000" font-weight="normal" >10µM</text>
<line x1="351" y1="681" x2="357" y2="685.5" stroke="#000" stroke-width="1.2"/>
<path d="M359,687 L354,686.4 L356.8,682.6 Z" fill="#000"/>
<line x1="325" y1="728" x2="331" y2="732.5" stroke="#000" stroke-width="1.2"/>
<path d="M333,734 L328,733.4 L330.8,729.6 Z" fill="#000"/>
<line x1="442" y1="707" x2="448" y2="711.5" stroke="#000" stroke-width="1.2"/>
<path d="M450,713 L445,712.4 L447.8,708.6 Z" fill="#000"/>
<line x1="497" y1="690" x2="503" y2="694.5" stroke="#000" stroke-width="1.2"/>
<path d="M505,696 L500,695.4 L502.8,691.6 Z" fill="#000"/>
<line x1="497" y1="745" x2="503" y2="749.5" stroke="#000" stroke-width="1.2"/>
<path d="M505,751 L500,750.4 L502.8,746.6 Z" fill="#000"/>
<text transform="translate(28.3,724) rotate(-90)" font-size="13"><tspan fill="#4d2a20">VIM </tspan><tspan fill="#e05a9b">C-pro/α1(I) (RL)</tspan></text>
<defs><filter id="soft" x="-2%" y="-2%" width="104%" height="104%"><feGaussianBlur stdDeviation="0.45"/></filter>
<clipPath id="cp_t1"><rect x="37.1" y="548.7" width="121.3" height="115.2"/></clipPath>
<clipPath id="cp_t2"><rect x="161.0" y="548.7" width="121.4" height="115.2"/></clipPath>
<clipPath id="cp_t3"><rect x="285.0" y="548.7" width="121.8" height="115.2"/></clipPath>
<clipPath id="cp_t4"><rect x="409.5" y="548.7" width="120.8" height="115.2"/></clipPath>
<clipPath id="cp_b1"><rect x="37.1" y="665.7" width="121.3" height="120.7"/></clipPath>
<clipPath id="cp_b2"><rect x="161.0" y="665.7" width="121.4" height="120.7"/></clipPath>
<clipPath id="cp_b3"><rect x="285.0" y="665.7" width="121.8" height="120.7"/></clipPath>
<clipPath id="cp_b4"><rect x="409.5" y="665.7" width="120.8" height="120.7"/></clipPath>
<filter id="f_t1_pink" x="0" y="0" width="100%" height="100%" color-interpolation-filters="sRGB"><feTurbulence type="fractalNoise" baseFrequency="0.085 0.085" numOctaves="2" seed="3" result="t1"/><feColorMatrix in="t1" type="matrix" values="1 0 0 0 0 1 0 0 0 0 1 0 0 0 0 0 0 0 0 1" result="g1"/><feTurbulence type="fractalNoise" baseFrequency="0.5 0.5" numOctaves="2" seed="4" result="t2"/><feColorMatrix in="t2" type="matrix" values="1 0 0 0 0 1 0 0 0 0 1 0 0 0 0 0 0 0 0 1" result="g2"/><feComposite in="g1" in2="g2" operator="arithmetic" k1="0" k2="1.0" k3="0.2" k4="0" result="m"/><feColorMatrix in="m" type="matrix" values="0 0 0 0 0.886 0 0 0 0 0.635 0 0 0 0 0.824 17.977 0 0 0 -9.954"/></filter>
<filter id="f_t1_pink2" x="0" y="0" width="100%" height="100%" color-interpolation-filters="sRGB"><feTurbulence type="fractalNoise" baseFrequency="0.09 0.09" numOctaves="2" seed="3" result="t1"/><feColorMatrix in="t1" type="matrix" values="1 0 0 0 0 1 0 0 0 0 1 0 0 0 0 0 0 0 0 1" result="g1"/><feTurbulence type="fractalNoise" baseFrequency="0.5 0.5" numOctaves="2" seed="4" result="t2"/><feColorMatrix in="t2" type="matrix" values="1 0 0 0 0 1 0 0 0 0 1 0 0 0 0 0 0 0 0 1" result="g2"/><feComposite in="g1" in2="g2" operator="arithmetic" k1="0" k2="1.0" k3="0.25" k4="0" result="m"/><feColorMatrix in="m" type="matrix" values="0 0 0 0 0.851 0 0 0 0 0.549 0 0 0 0 0.784 16.169 0 0 0 -11.436"/></filter>
<filter id="f_t1_wh" x="0" y="0" width="100%" height="100%" color-interpolation-filters="sRGB"><feTurbulence type="fractalNoise" baseFrequency="0.4 0.4" numOctaves="2" seed="8" result="t1"/><feColorMatrix in="t1" type="matrix" values="1 0 0 0 0 1 0 0 0 0 1 0 0 0 0 0 0 0 0 1" result="g1"/><feColorMatrix in="g1" type="matrix" values="0 0 0 0 0.984 0 0 0 0 0.969 0 0 0 0 0.961 12.5 0 0 0 -7.122"/><feComponentTransfer><feFuncA type="linear" slope="0.8"/></feComponentTransfer></filter>
<filter id="f_t1_br" x="0" y="0" width="100%" height="100%" color-interpolation-filters="sRGB"><feTurbulence type="fractalNoise" baseFrequency="0.07 0.9" numOctaves="3" seed="5" result="t1"/><feColorMatrix in="t1" type="matrix" values="1 0 0 0 0 1 0 0 0 0 1 0 0 0 0 0 0 0 0 1" result="g1"/><feTurbulence type="fractalNoise" baseFrequency="0.6 0.6" numOctaves="2" seed="6" result="t2"/><feColorMatrix in="t2" type="matrix" values="1 0 0 0 0 1 0 0 0 0 1 0 0 0 0 0 0 0 0 1" result="g2"/><feComposite in="g1" in2="g2" operator="arithmetic" k1="0" k2="0.85" k3="0.2" k4="0" result="m"/><feColorMatrix in="m" type="matrix" values="0 0 0 0 0.659 0 0 0 0 0.408 0 0 0 0 0.251 19.087 0 0 0 -11.773"/></filter>
<filter id="f_t1_brb" x="0" y="0" width="100%" height="100%" color-interpolation-filters="sRGB"><feTurbulence type="fractalNoise" baseFrequency="0.07 0.9" numOctaves="3" seed="15" result="t1"/><feColorMatrix in="t1" type="matrix" values="1 0 0 0 0 1 0 0 0 0 1 0 0 0 0 0 0 0 0 1" result="g1"/><feTurbulence type="fractalNoise" baseFrequency="0.6 0.6" numOctaves="2" seed="16" result="t2"/><feColorMatrix in="t2" type="matrix" values="1 0 0 0 0 1 0 0 0 0 1 0 0 0 0 0 0 0 0 1" result="g2"/><feComposite in="g1" in2="g2" operator="arithmetic" k1="0" k2="0.85" k3="0.2" k4="0" result="m"/><feColorMatrix in="m" type="matrix" values="0 0 0 0 0.659 0 0 0 0 0.408 0 0 0 0 0.251 19.087 0 0 0 -12.202"/></filter>
<filter id="f_t1_br2" x="0" y="0" width="100%" height="100%" color-interpolation-filters="sRGB"><feTurbulence type="fractalNoise" baseFrequency="0.07 0.9" numOctaves="3" seed="9" result="t1"/><feColorMatrix in="t1" type="matrix" values="1 0 0 0 0 1 0 0 0 0 1 0 0 0 0 0 0 0 0 1" result="g1"/><feTurbulence type="fractalNoise" baseFrequency="0.6 0.6" numOctaves="2" seed="10" result="t2"/><feColorMatrix in="t2" type="matrix" values="1 0 0 0 0 1 0 0 0 0 1 0 0 0 0 0 0 0 0 1" result="g2"/><feComposite in="g1" in2="g2" operator="arithmetic" k1="0" k2="0.85" k3="0.2" k4="0" result="m"/><feColorMatrix in="m" type="matrix" values="0 0 0 0 0.494 0 0 0 0 0.267 0 0 0 0 0.141 19.087 0 0 0 -13.023"/></filter>
<filter id="f_t2_br" x="0" y="0" width="100%" height="100%" color-interpolation-filters="sRGB"><feTurbulence type="fractalNoise" baseFrequency="0.07 0.9" numOctaves="3" seed="13" result="t1"/><feColorMatrix in="t1" type="matrix" values="1 0 0 0 0 1 0 0 0 0 1 0 0 0 0 0 0 0 0 1" result="g1"/><feTurbulence type="fractalNoise" baseFrequency="0.6 0.6" numOctaves="2" seed="14" result="t2"/><feColorMatrix in="t2" type="matrix" values="1 0 0 0 0 1 0 0 0 0 1 0 0 0 0 0 0 0 0 1" result="g2"/><feComposite in="g1" in2="g2" operator="arithmetic" k1="0" k2="0.85" k3="0.2" k4="0" result="m"/><feColorMatrix in="m" type="matrix" values="0 0 0 0 0.651 0 0 0 0 0.416 0 0 0 0 0.267 19.087 0 0 0 -10.746"/></filter>
<filter id="f_t2_brb" x="0" y="0" width="100%" height="100%" color-interpolation-filters="sRGB"><feTurbulence type="fractalNoise" baseFrequency="0.07 0.9" numOctaves="3" seed="23" result="t1"/><feColorMatrix in="t1" type="matrix" values="1 0 0 0 0 1 0 0 0 0 1 0 0 0 0 0 0 0 0 1" result="g1"/><feTurbulence type="fractalNoise" baseFrequency="0.6 0.6" numOctaves="2" seed="24" result="t2"/><feColorMatrix in="t2" type="matrix" values="1 0 0 0 0 1 0 0 0 0 1 0 0 0 0 0 0 0 0 1" result="g2"/><feComposite in="g1" in2="g2" operator="arithmetic" k1="0" k2="0.85" k3="0.2" k4="0" result="m"/><feColorMatrix in="m" type="matrix" values="0 0 0 0 0.651 0 0 0 0 0.416 0 0 0 0 0.267 19.087 0 0 0 -11.593"/></filter>
<filter id="f_t2_br2" x="0" y="0" width="100%" height="100%" color-interpolation-filters="sRGB"><feTurbulence type="fractalNoise" baseFrequency="0.07 0.9" numOctaves="3" seed="17" result="t1"/><feColorMatrix in="t1" type="matrix" values="1 0 0 0 0 1 0 0 0 0 1 0 0 0 0 0 0 0 0 1" result="g1"/><feTurbulence type="fractalNoise" baseFrequency="0.6 0.6" numOctaves="2" seed="18" result="t2"/><feColorMatrix in="t2" type="matrix" values="1 0 0 0 0 1 0 0 0 0 1 0 0 0 0 0 0 0 0 1" result="g2"/><feComposite in="g1" in2="g2" operator="arithmetic" k1="0" k2="0.85" k3="0.2" k4="0" result="m"/><feColorMatrix in="m" type="matrix" values="0 0 0 0 0.431 0 0 0 0 0.204 0 0 0 0 0.094 19.087 0 0 0 -12.471"/></filter>
<filter id="f_t2_wh" x="0" y="0" width="100%" height="100%" color-interpolation-filters="sRGB"><feTurbulence type="fractalNoise" baseFrequency="0.4 0.4" numOctaves="2" seed="19" result="t1"/><feColorMatrix in="t1" type="matrix" values="1 0 0 0 0 1 0 0 0 0 1 0 0 0 0 0 0 0 0 1" result="g1"/><feColorMatrix in="g1" type="matrix" values="0 0 0 0 0.984 0 0 0 0 0.969 0 0 0 0 0.957 12.5 0 0 0 -7.013"/><feComponentTransfer><feFuncA type="linear" slope="0.85"/></feComponentTransfer></filter>
<filter id="f_t2_pink" x="0" y="0" width="100%" height="100%" color-interpolation-filters="sRGB"><feTurbulence type="fractalNoise" baseFrequency="0.05 0.05" numOctaves="2" seed="11" result="t1"/><feColorMatrix in="t1" type="matrix" values="1 0 0 0 0 1 0 0 0 0 1 0 0 0 0 0 0 0 0 1" result="g1"/><feTurbulence type="fractalNoise" baseFrequency="0.5 0.5" numOctaves="2" seed="12" result="t2"/><feColorMatrix in="t2" type="matrix" values="1 0 0 0 0 1 0 0 0 0 1 0 0 0 0 0 0 0 0 1" result="g2"/><feComposite in="g1" in2="g2" operator="arithmetic" k1="0" k2="1.0" k3="0.2" k4="0" result="m"/><feColorMatrix in="m" type="matrix" values="0 0 0 0 0.863 0 0 0 0 0.580 0 0 0 0 0.784 20.429 0 0 0 -13.687"/></filter>
<filter id="f_t2_lumen" x="0" y="0" width="100%" height="100%" color-interpolation-filters="sRGB"><feTurbulence type="fractalNoise" baseFrequency="0.05 0.05" numOctaves="2" seed="11" result="t1"/><feColorMatrix in="t1" type="matrix" values="1 0 0 0 0 1 0 0 0 0 1 0 0 0 0 0 0 0 0 1" result="g1"/><feTurbulence type="fractalNoise" baseFrequency="0.5 0.5" numOctaves="2" seed="12" result="t2"/><feColorMatrix in="t2" type="matrix" values="1 0 0 0 0 1 0 0 0 0 1 0 0 0 0 0 0 0 0 1" result="g2"/><feComposite in="g1" in2="g2" operator="arithmetic" k1="0" k2="1.0" k3="0.2" k4="0" result="m"/><feColorMatrix in="m" type="matrix" values="0 0 0 0 0.973 0 0 0 0 0.941 0 0 0 0 0.957 20.429 0 0 0 -16.288"/></filter>
<filter id="f_t3_br" x="0" y="0" width="100%" height="100%" color-interpolation-filters="sRGB"><feTurbulence type="fractalNoise" baseFrequency="0.04 1.1" numOctaves="3" seed="21" result="t1"/><feColorMatrix in="t1" type="matrix" values="1 0 0 0 0 1 0 0 0 0 1 0 0 0 0 0 0 0 0 1" result="g1"/><feTurbulence type="fractalNoise" baseFrequency="0.3 1.1" numOctaves="2" seed="22" result="t2"/><feColorMatrix in="t2" type="matrix" values="1 0 0 0 0 1 0 0 0 0 1 0 0 0 0 0 0 0 0 1" result="g2"/><feComposite in="g1" in2="g2" operator="arithmetic" k1="0" k2="0.8" k3="0.5" k4="0" result="m"/><feColorMatrix in="m" type="matrix" values="0 0 0 0 0.627 0 0 0 0 0.376 0 0 0 0 0.227 14.133 0 0 0 -10.649"/></filter>
<filter id="f_t3_br2" x="0" y="0" width="100%" height="100%" color-interpolation-filters="sRGB"><feTurbulence type="fractalNoise" baseFrequency="0.03 1.0" numOctaves="3" seed="25" result="t1"/><feColorMatrix in="t1" type="matrix" values="1 0 0 0 0 1 0 0 0 0 1 0 0 0 0 0 0 0 0 1" result="g1"/><feTurbulence type="fractalNoise" baseFrequency="0.25 1.0" numOctaves="2" seed="26" result="t2"/><feColorMatrix in="t2" type="matrix" values="1 0 0 0 0 1 0 0 0 0 1 0 0 0 0 0 0 0 0 1" result="g2"/><feComposite in="g1" in2="g2" operator="arithmetic" k1="0" k2="0.8" k3="0.5" k4="0" result="m"/><feColorMatrix in="m" type="matrix" values="0 0 0 0 0.478 0 0 0 0 0.227 0 0 0 0 0.110 17.667 0 0 0 -14.904"/></filter>
<filter id="f_t3_pk" x="0" y="0" width="100%" height="100%" color-interpolation-filters="sRGB"><feTurbulence type="fractalNoise" baseFrequency="0.03 0.6" numOctaves="2" seed="23" result="t1"/><feColorMatrix in="t1" type="matrix" values="1 0 0 0 0 1 0 0 0 0 1 0 0 0 0 0 0 0 0 1" result="g1"/><feColorMatrix in="g1" type="matrix" values="0 0 0 0 0.847 0 0 0 0 0.565 0 0 0 0 0.659 16.667 0 0 0 -9.994"/></filter>
<filter id="f_t4_gr" x="0" y="0" width="100%" height="100%" color-interpolation-filters="sRGB"><feTurbulence type="fractalNoise" baseFrequency="0.04 0.04" numOctaves="2" seed="35" result="t1"/><feColorMatrix in="t1" type="matrix" values="1 0 0 0 0 1 0 0 0 0 1 0 0 0 0 0 0 0 0 1" result="g1"/><feColorMatrix in="g1" type="matrix" values="0 0 0 0 0.902 0 0 0 0 0.886 0 0 0 0 0.886 12.5 0 0 0 -6.327"/><feComponentTransfer><feFuncA type="linear" slope="0.8"/></feComponentTransfer></filter>
<filter id="f_t4_pk" x="0" y="0" width="100%" height="100%" color-interpolation-filters="sRGB"><feTurbulence type="fractalNoise" baseFrequency="0.05 0.4" numOctaves="2" seed="33" result="t1"/><feColorMatrix in="t1" type="matrix" values="1 0 0 0 0 1 0 0 0 0 1 0 0 0 0 0 0 0 0 1" result="g1"/><feTurbulence type="fractalNoise" baseFrequency="0.4 0.4" numOctaves="2" seed="34" result="t2"/><feColorMatrix in="t2" type="matrix" values="1 0 0 0 0 1 0 0 0 0 1 0 0 0 0 0 0 0 0 1" result="g2"/><feComposite in="g1" in2="g2" operator="arithmetic" k1="0" k2="0.8" k3="0.45" k4="0" result="m"/><feColorMatrix in="m" type="matrix" values="0 0 0 0 0.847 0 0 0 0 0.455 0 0 0 0 0.737 22.697 0 0 0 -16.889"/></filter>
<filter id="f_t4_br" x="0" y="0" width="100%" height="100%" color-interpolation-filters="sRGB"><feTurbulence type="fractalNoise" baseFrequency="0.05 0.4" numOctaves="3" seed="31" result="t1"/><feColorMatrix in="t1" type="matrix" values="1 0 0 0 0 1 0 0 0 0 1 0 0 0 0 0 0 0 0 1" result="g1"/><feTurbulence type="fractalNoise" baseFrequency="0.4 0.4" numOctaves="2" seed="32" result="t2"/><feColorMatrix in="t2" type="matrix" values="1 0 0 0 0 1 0 0 0 0 1 0 0 0 0 0 0 0 0 1" result="g2"/><feComposite in="g1" in2="g2" operator="arithmetic" k1="0" k2="0.8" k3="0.45" k4="0" result="m"/><feColorMatrix in="m" type="matrix" values="0 0 0 0 0.667 0 0 0 0 0.384 0 0 0 0 0.188 22.697 0 0 0 -16.072"/></filter>
<filter id="f_t4_br2" x="0" y="0" width="100%" height="100%" color-interpolation-filters="sRGB"><feTurbulence type="fractalNoise" baseFrequency="0.05 0.4" numOctaves="3" seed="37" result="t1"/><feColorMatrix in="t1" type="matrix" values="1 0 0 0 0 1 0 0 0 0 1 0 0 0 0 0 0 0 0 1" result="g1"/><feTurbulence type="fractalNoise" baseFrequency="0.4 0.4" numOctaves="2" seed="38" result="t2"/><feColorMatrix in="t2" type="matrix" values="1 0 0 0 0 1 0 0 0 0 1 0 0 0 0 0 0 0 0 1" result="g2"/><feComposite in="g1" in2="g2" operator="arithmetic" k1="0" k2="0.8" k3="0.45" k4="0" result="m"/><feColorMatrix in="m" type="matrix" values="0 0 0 0 0.494 0 0 0 0 0.227 0 0 0 0 0.094 22.697 0 0 0 -17.797"/></filter>
<linearGradient id="t4fade" x1="0" x2="1" y1="0" y2="0"><stop offset="0" stop-color="#f0eeee" stop-opacity="0.75"/><stop offset="0.3" stop-color="#f0eeee" stop-opacity="0.45"/><stop offset="0.55" stop-color="#f0eeee" stop-opacity="0"/></linearGradient>
<filter id="f_b1_br" x="0" y="0" width="100%" height="100%" color-interpolation-filters="sRGB"><feTurbulence type="fractalNoise" baseFrequency="0.035 0.3" numOctaves="3" seed="41" result="t1"/><feColorMatrix in="t1" type="matrix" values="1 0 0 0 0 1 0 0 0 0 1 0 0 0 0 0 0 0 0 1" result="g1"/><feTurbulence type="fractalNoise" baseFrequency="0.12 0.45" numOctaves="2" seed="42" result="t2"/><feColorMatrix in="t2" type="matrix" values="1 0 0 0 0 1 0 0 0 0 1 0 0 0 0 0 0 0 0 1" result="g2"/><feComposite in="g1" in2="g2" operator="arithmetic" k1="0" k2="0.85" k3="0.45" k4="0" result="m"/><feColorMatrix in="m" type="matrix" values="0 0 0 0 0.722 0 0 0 0 0.416 0 0 0 0 0.196 17.329 0 0 0 -12.177"/></filter>
<filter id="f_b1_brb" x="0" y="0" width="100%" height="100%" color-interpolation-filters="sRGB"><feTurbulence type="fractalNoise" baseFrequency="0.035 0.3" numOctaves="3" seed="45" result="t1"/><feColorMatrix in="t1" type="matrix" values="1 0 0 0 0 1 0 0 0 0 1 0 0 0 0 0 0 0 0 1" result="g1"/><feTurbulence type="fractalNoise" baseFrequency="0.12 0.45" numOctaves="2" seed="46" result="t2"/><feColorMatrix in="t2" type="matrix" values="1 0 0 0 0 1 0 0 0 0 1 0 0 0 0 0 0 0 0 1" result="g2"/><feComposite in="g1" in2="g2" operator="arithmetic" k1="0" k2="0.85" k3="0.45" k4="0" result="m"/><feColorMatrix in="m" type="matrix" values="0 0 0 0 0.690 0 0 0 0 0.376 0 0 0 0 0.157 17.329 0 0 0 -13.115"/></filter>
<filter id="f_b1_br2" x="0" y="0" width="100%" height="100%" color-interpolation-filters="sRGB"><feTurbulence type="fractalNoise" baseFrequency="0.035 0.32" numOctaves="3" seed="43" result="t1"/><feColorMatrix in="t1" type="matrix" values="1 0 0 0 0 1 0 0 0 0 1 0 0 0 0 0 0 0 0 1" result="g1"/><feTurbulence type="fractalNoise" baseFrequency="0.12 0.45" numOctaves="2" seed="44" result="t2"/><feColorMatrix in="t2" type="matrix" values="1 0 0 0 0 1 0 0 0 0 1 0 0 0 0 0 0 0 0 1" result="g2"/><feComposite in="g1" in2="g2" operator="arithmetic" k1="0" k2="0.85" k3="0.45" k4="0" result="m"/><feColorMatrix in="m" type="matrix" values="0 0 0 0 0.478 0 0 0 0 0.173 0 0 0 0 0.063 17.329 0 0 0 -13.016"/></filter>
<filter id="f_b2_net" x="0" y="0" width="100%" height="100%" color-interpolation-filters="sRGB"><feTurbulence type="turbulence" baseFrequency="0.06 0.06" numOctaves="2" seed="51" result="t1"/><feColorMatrix in="t1" type="matrix" values="1 0 0 0 0 1 0 0 0 0 1 0 0 0 0 0 0 0 0 1" result="g1"/><feColorMatrix in="g1" type="matrix" values="0 0 0 0 0.416 0 0 0 0 0.157 0 0 0 0 0.063 -20 0 0 0 2.300"/></filter>
<filter id="f_b2_blob" x="0" y="0" width="100%" height="100%" color-interpolation-filters="sRGB"><feTurbulence type="fractalNoise" baseFrequency="0.07 0.07" numOctaves="3" seed="53" result="t1"/><feColorMatrix in="t1" type="matrix" values="1 0 0 0 0 1 0 0 0 0 1 0 0 0 0 0 0 0 0 1" result="g1"/><feTurbulence type="fractalNoise" baseFrequency="0.3 0.3" numOctaves="2" seed="54" result="t2"/><feColorMatrix in="t2" type="matrix" values="1 0 0 0 0 1 0 0 0 0 1 0 0 0 0 0 0 0 0 1" result="g2"/><feComposite in="g1" in2="g2" operator="arithmetic" k1="0" k2="0.8" k3="0.5" k4="0" result="m"/><feColorMatrix in="m" type="matrix" values="0 0 0 0 0.369 0 0 0 0 0.141 0 0 0 0 0.063 22.083 0 0 0 -17.543"/></filter>
<filter id="f_b2_or" x="0" y="0" width="100%" height="100%" color-interpolation-filters="sRGB"><feTurbulence type="fractalNoise" baseFrequency="0.06 0.06" numOctaves="3" seed="55" result="t1"/><feColorMatrix in="t1" type="matrix" values="1 0 0 0 0 1 0 0 0 0 1 0 0 0 0 0 0 0 0 1" result="g1"/><feTurbulence type="fractalNoise" baseFrequency="0.3 0.3" numOctaves="2" seed="56" result="t2"/><feColorMatrix in="t2" type="matrix" values="1 0 0 0 0 1 0 0 0 0 1 0 0 0 0 0 0 0 0 1" result="g2"/><feComposite in="g1" in2="g2" operator="arithmetic" k1="0" k2="0.8" k3="0.5" k4="0" result="m"/><feColorMatrix in="m" type="matrix" values="0 0 0 0 0.690 0 0 0 0 0.376 0 0 0 0 0.188 22.083 0 0 0 -17.366"/></filter>
<filter id="f_b3_pk" x="0" y="0" width="100%" height="100%" color-interpolation-filters="sRGB"><feTurbulence type="fractalNoise" baseFrequency="0.025 0.7" numOctaves="3" seed="61" result="t1"/><feColorMatrix in="t1" type="matrix" values="1 0 0 0 0 1 0 0 0 0 1 0 0 0 0 0 0 0 0 1" result="g1"/><feTurbulence type="fractalNoise" baseFrequency="0.15 0.9" numOctaves="2" seed="62" result="t2"/><feColorMatrix in="t2" type="matrix" values="1 0 0 0 0 1 0 0 0 0 1 0 0 0 0 0 0 0 0 1" result="g2"/><feComposite in="g1" in2="g2" operator="arithmetic" k1="0" k2="0.8" k3="0.45" k4="0" result="m"/><feColorMatrix in="m" type="matrix" values="0 0 0 0 0.753 0 0 0 0 0.416 0 0 0 0 0.518 13.618 0 0 0 -9.701"/></filter>
<filter id="f_b3_br" x="0" y="0" width="100%" height="100%" color-interpolation-filters="sRGB"><feTurbulence type="fractalNoise" baseFrequency="0.03 0.7" numOctaves="2" seed="63" result="t1"/><feColorMatrix in="t1" type="matrix" values="1 0 0 0 0 1 0 0 0 0 1 0 0 0 0 0 0 0 0 1" result="g1"/><feTurbulence type="fractalNoise" baseFrequency="0.15 0.9" numOctaves="2" seed="64" result="t2"/><feColorMatrix in="t2" type="matrix" values="1 0 0 0 0 1 0 0 0 0 1 0 0 0 0 0 0 0 0 1" result="g2"/><feComposite in="g1" in2="g2" operator="arithmetic" k1="0" k2="0.8" k3="0.45" k4="0" result="m"/><feColorMatrix in="m" type="matrix" values="0 0 0 0 0.541 0 0 0 0 0.267 0 0 0 0 0.149 18.158 0 0 0 -14.138"/></filter>
<filter id="f_b4_br" x="0" y="0" width="100%" height="100%" color-interpolation-filters="sRGB"><feTurbulence type="fractalNoise" baseFrequency="0.02 0.3" numOctaves="3" seed="71" result="t1"/><feColorMatrix in="t1" type="matrix" values="1 0 0 0 0 1 0 0 0 0 1 0 0 0 0 0 0 0 0 1" result="g1"/><feTurbulence type="fractalNoise" baseFrequency="0.08 0.4" numOctaves="2" seed="72" result="t2"/><feColorMatrix in="t2" type="matrix" values="1 0 0 0 0 1 0 0 0 0 1 0 0 0 0 0 0 0 0 1" result="g2"/><feComposite in="g1" in2="g2" operator="arithmetic" k1="0" k2="0.85" k3="0.35" k4="0" result="m"/><feColorMatrix in="m" type="matrix" values="0 0 0 0 0.690 0 0 0 0 0.439 0 0 0 0 0.220 18.131 0 0 0 -12.728"/></filter>
<filter id="f_b4_br2" x="0" y="0" width="100%" height="100%" color-interpolation-filters="sRGB"><feTurbulence type="fractalNoise" baseFrequency="0.02 0.3" numOctaves="3" seed="73" result="t1"/><feColorMatrix in="t1" type="matrix" values="1 0 0 0 0 1 0 0 0 0 1 0 0 0 0 0 0 0 0 1" result="g1"/><feTurbulence type="fractalNoise" baseFrequency="0.08 0.4" numOctaves="2" seed="74" result="t2"/><feColorMatrix in="t2" type="matrix" values="1 0 0 0 0 1 0 0 0 0 1 0 0 0 0 0 0 0 0 1" result="g2"/><feComposite in="g1" in2="g2" operator="arithmetic" k1="0" k2="0.85" k3="0.35" k4="0" result="m"/><feColorMatrix in="m" type="matrix" values="0 0 0 0 0.478 0 0 0 0 0.204 0 0 0 0 0.086 18.131 0 0 0 -13.879"/></filter>
<filter id="pkblur" x="-20%" y="-20%" width="140%" height="140%"><feGaussianBlur stdDeviation="1.3"/></filter></defs>
<text x="583.8" y="584.4" font-size="12.2" text-anchor="end" fill="#000" font-weight="normal" >1000</text>
<text x="583.8" y="613.7" font-size="12.2" text-anchor="end" fill="#000" font-weight="normal" >100</text>
<text x="583.8" y="643.0" font-size="12.2" text-anchor="end" fill="#000" font-weight="normal" >10</text>
<text x="583.8" y="672.3" font-size="12.2" text-anchor="end" fill="#000" font-weight="normal" >1</text>
<text x="583.8" y="701.6" font-size="12.2" text-anchor="end" fill="#000" font-weight="normal" >0.1</text>
<line x1="584.5" y1="697.3" x2="588.3" y2="697.3" stroke="#000" stroke-width="1"/>
<line x1="585.8" y1="688.5" x2="588.3" y2="688.5" stroke="#000" stroke-width="1"/>
<line x1="585.8" y1="683.3" x2="588.3" y2="683.3" stroke="#000" stroke-width="1"/>
<line x1="585.8" y1="679.7" x2="588.3" y2="679.7" stroke="#000" stroke-width="1"/>
<line x1="585.8" y1="676.8" x2="588.3" y2="676.8" stroke="#000" stroke-width="1"/>
<line x1="585.8" y1="674.5" x2="588.3" y2="674.5" stroke="#000" stroke-width="1"/>
<line x1="585.8" y1="672.5" x2="588.3" y2="672.5" stroke="#000" stroke-width="1"/>
<line x1="585.8" y1="670.8" x2="588.3" y2="670.8" stroke="#000" stroke-width="1"/>
<line x1="585.8" y1="669.3" x2="588.3" y2="669.3" stroke="#000" stroke-width="1"/>
<line x1="584.5" y1="668.0" x2="588.3" y2="668.0" stroke="#000" stroke-width="1"/>
<line x1="585.8" y1="659.2" x2="588.3" y2="659.2" stroke="#000" stroke-width="1"/>
<line x1="585.8" y1="654.0" x2="588.3" y2="654.0" stroke="#000" stroke-width="1"/>
<line x1="585.8" y1="650.4" x2="588.3" y2="650.4" stroke="#000" stroke-width="1"/>
<line x1="585.8" y1="647.5" x2="588.3" y2="647.5" stroke="#000" stroke-width="1"/>
<line x1="585.8" y1="645.2" x2="588.3" y2="645.2" stroke="#000" stroke-width="1"/>
<line x1="585.8" y1="643.2" x2="588.3" y2="643.2" stroke="#000" stroke-width="1"/>
<line x1="585.8" y1="641.5" x2="588.3" y2="641.5" stroke="#000" stroke-width="1"/>
<line x1="585.8" y1="640.0" x2="588.3" y2="640.0" stroke="#000" stroke-width="1"/>
<line x1="584.5" y1="638.7" x2="588.3" y2="638.7" stroke="#000" stroke-width="1"/>
<line x1="585.8" y1="629.9" x2="588.3" y2="629.9" stroke="#000" stroke-width="1"/>
<line x1="585.8" y1="624.7" x2="588.3" y2="624.7" stroke="#000" stroke-width="1"/>
<line x1="585.8" y1="621.1" x2="588.3" y2="621.1" stroke="#000" stroke-width="1"/>
<line x1="585.8" y1="618.2" x2="588.3" y2="618.2" stroke="#000" stroke-width="1"/>
<line x1="585.8" y1="615.9" x2="588.3" y2="615.9" stroke="#000" stroke-width="1"/>
<line x1="585.8" y1="613.9" x2="588.3" y2="613.9" stroke="#000" stroke-width="1"/>
<line x1="585.8" y1="612.2" x2="588.3" y2="612.2" stroke="#000" stroke-width="1"/>
<line x1="585.8" y1="610.7" x2="588.3" y2="610.7" stroke="#000" stroke-width="1"/>
<line x1="584.5" y1="609.4" x2="588.3" y2="609.4" stroke="#000" stroke-width="1"/>
<line x1="585.8" y1="600.6" x2="588.3" y2="600.6" stroke="#000" stroke-width="1"/>
<line x1="585.8" y1="595.4" x2="588.3" y2="595.4" stroke="#000" stroke-width="1"/>
<line x1="585.8" y1="591.8" x2="588.3" y2="591.8" stroke="#000" stroke-width="1"/>
<line x1="585.8" y1="588.9" x2="588.3" y2="588.9" stroke="#000" stroke-width="1"/>
<line x1="585.8" y1="586.6" x2="588.3" y2="586.6" stroke="#000" stroke-width="1"/>
<line x1="585.8" y1="584.6" x2="588.3" y2="584.6" stroke="#000" stroke-width="1"/>
<line x1="585.8" y1="582.9" x2="588.3" y2="582.9" stroke="#000" stroke-width="1"/>
<line x1="585.8" y1="581.4" x2="588.3" y2="581.4" stroke="#000" stroke-width="1"/>
<line x1="584.5" y1="580.1" x2="588.3" y2="580.1" stroke="#000" stroke-width="1.2"/>
<rect x="593.5" y="668.0" width="12.8" height="29.3" fill="none" stroke="#000" stroke-width="2.2"/>
<rect x="615" y="643.2" width="14.0" height="54.1" fill="none" stroke="#c8c8c8" stroke-width="2.2"/>
<rect x="636.9" y="632.7" width="13.7" height="64.6" fill="none" stroke="#a0a0a0" stroke-width="2.2"/>
<rect x="658.9" y="611.5" width="13.9" height="85.8" fill="none" stroke="#d8d8d8" stroke-width="2.2"/>
<line x1="587" y1="667.7" x2="676.5" y2="667.7" stroke="#000" stroke-width="2.4"/>
<line x1="588.3" y1="579.2" x2="588.3" y2="698.2" stroke="#000" stroke-width="2.6"/>
<line x1="587" y1="697.3" x2="676.5" y2="697.3" stroke="#000" stroke-width="2.4"/>
<line x1="599.9" y1="689.8" x2="599.9" y2="660.5" stroke="#000" stroke-width="1.8"/>
<line x1="594.9" y1="689.8" x2="604.9" y2="689.8" stroke="#000" stroke-width="1.8"/>
<line x1="594.9" y1="660.5" x2="604.9" y2="660.5" stroke="#000" stroke-width="1.8"/>
<line x1="621.9" y1="659.2" x2="621.9" y2="637.5" stroke="#000" stroke-width="1.8"/>
<line x1="616.9" y1="659.2" x2="626.9" y2="659.2" stroke="#000" stroke-width="1.8"/>
<line x1="616.9" y1="637.5" x2="626.9" y2="637.5" stroke="#000" stroke-width="1.8"/>
<line x1="643.7" y1="638.7" x2="643.7" y2="628.1" stroke="#000" stroke-width="1.8"/>
<line x1="638.7" y1="638.7" x2="648.7" y2="638.7" stroke="#000" stroke-width="1.8"/>
<line x1="638.7" y1="628.1" x2="648.7" y2="628.1" stroke="#000" stroke-width="1.8"/>
<line x1="666" y1="620.4" x2="666" y2="606.1" stroke="#000" stroke-width="1.8"/>
<line x1="661" y1="620.4" x2="671" y2="620.4" stroke="#000" stroke-width="1.8"/>
<line x1="661" y1="606.1" x2="671" y2="606.1" stroke="#000" stroke-width="1.8"/>
<circle cx="599.9" cy="679.7" r="2.6" fill="#000"/>
<circle cx="599.9" cy="672.5" r="2.6" fill="#000"/>
<circle cx="599.9" cy="659.8" r="2.6" fill="#000"/>
<rect x="619.4" y="663.2" width="5" height="5" fill="#000"/>
<rect x="619.4" y="635.6" width="5" height="5" fill="#000"/>
<rect x="621.5" y="635.6" width="5" height="5" fill="#000"/>
<path d="M640.7,632.3798211270454 L646.7,632.3798211270454 L643.7,626.8798211270454 Z" fill="#000"/>
<path d="M637.5,639.987194324864 L643.5,639.987194324864 L640.5,634.487194324864 Z" fill="#000"/>
<path d="M644,639.987194324864 L650,639.987194324864 L647,634.487194324864 Z" fill="#000"/>
<path d="M663,599.4205156004731 L669,599.4205156004731 L666,604.9205156004731 Z" fill="#000"/>
<path d="M659,607.5526983650368 L665,607.5526983650368 L662,613.0526983650368 Z" fill="#000"/>
<path d="M666.5,607.5526983650368 L672.5,607.5526983650368 L669.5,613.0526983650368 Z" fill="#000"/>
<path d="M663,624.5403577459093 L669,624.5403577459093 L666,630.0403577459093 Z" fill="#000"/>
<text x="622.7" y="630.5" font-size="12.2" text-anchor="middle" fill="#000" font-weight="normal" >ns</text>
<text x="643.7" y="622.0" font-size="11" text-anchor="middle" fill="#000" font-weight="normal" >*</text>
<text x="664.9" y="593.5" font-size="11" text-anchor="middle" fill="#000" font-weight="normal" >**</text>
<text transform="translate(552.6,591.8) rotate(-90)" font-size="12.8" text-anchor="end">Normalized stromal ECM</text>
<text transform="translate(561.7,591.8) rotate(-90)" font-size="12.8" text-anchor="end">C-pro+ area fraction</text>
<line x1="599.9" y1="697.3" x2="599.9" y2="701" stroke="#000" stroke-width="1.6"/>
<line x1="621.9" y1="697.3" x2="621.9" y2="701" stroke="#000" stroke-width="1.6"/>
<line x1="643.7" y1="697.3" x2="643.7" y2="701" stroke="#000" stroke-width="1.6"/>
<line x1="666" y1="697.3" x2="666" y2="701" stroke="#000" stroke-width="1.6"/>
<text transform="translate(606.4,709) rotate(-45)" font-size="12.5" text-anchor="end">Normal</text>
<text transform="translate(628.4,709) rotate(-45)" font-size="12.5" text-anchor="end">PanIN</text>
<text transform="translate(650.2,709) rotate(-45)" font-size="12.5" text-anchor="end">Pancreatitis</text>
<text transform="translate(672.5,709) rotate(-45)" font-size="12.5" text-anchor="end">PDAC</text>
<text x="-0.6" y="814.1" font-size="22.5" text-anchor="start" fill="#000" font-weight="normal" >e</text>
<text transform="translate(108.3,871.7) rotate(-90)" font-size="12.6">Normal</text>
<text transform="translate(123.8,871.7) rotate(-90)" font-size="12.6">PanIN</text>
<text transform="translate(140.1,871.7) rotate(-90)" font-size="12.6">Pancreatitis1</text>
<text transform="translate(163.5,871.7) rotate(-90)" font-size="12.6">Pancreatitis2</text>
<text transform="translate(184.5,871.7) rotate(-90)" font-size="12.6">PDAC1</text>
<text transform="translate(204.6,871.7) rotate(-90)" font-size="12.6">PDAC2</text>
<text transform="translate(225.2,871.7) rotate(-90)" font-size="12.6">PDAC3</text>
<text transform="translate(245.7,871.7) rotate(-90)" font-size="12.6">PDAC4</text>
<text transform="translate(265.3,871.7) rotate(-90)" font-size="12.6">PDAC5</text>
<text x="4.7" y="884.3" font-size="12.6" text-anchor="start" fill="#000" font-weight="normal" >Enriched ECM</text>
<text x="72.7" y="913.2" font-size="12.5" text-anchor="end" fill="#000" font-weight="normal" >pCα1(I)</text>
<line x1="74.5" y1="908.9" x2="82.7" y2="908.9" stroke="#000" stroke-width="1.3"/>
<path d="M82.3,904.9 L89.30000000000001,908.9 L82.3,912.9 Z" fill="#000"/>
<text x="72.7" y="1003.1" font-size="12.5" text-anchor="end" fill="#000" font-weight="normal" >C-pro/α1(I)</text>
<line x1="74.5" y1="998.8" x2="82.7" y2="998.8" stroke="#000" stroke-width="1.3"/>
<path d="M82.3,994.8 L89.30000000000001,998.8 L82.3,1002.8 Z" fill="#000"/>
<text x="72.7" y="1034.6" font-size="12.5" text-anchor="end" fill="#000" font-weight="normal" >α1(I)</text>
<line x1="74.5" y1="1030.3" x2="82.7" y2="1030.3" stroke="#000" stroke-width="1.3"/>
<path d="M82.3,1026.3 L89.30000000000001,1030.3 L82.3,1034.3 Z" fill="#000"/>
<defs><filter id="bblur" x="-50%" y="-200%" width="200%" height="500%"><feGaussianBlur stdDeviation="1.1 0.9"/></filter><filter id="bblur2" x="-50%" y="-100%" width="200%" height="300%"><feGaussianBlur stdDeviation="1.6 2.2"/></filter><filter id="bnoise" x="0" y="0" width="100%" height="100%"><feTurbulence type="fractalNoise" baseFrequency="0.5" numOctaves="2" seed="4"/><feColorMatrix type="matrix" values="0 0 0 0 0.3 0 0 0 0 0.3 0 0 0 0 0.3 0.35 0 0 0 -0.12"/></filter></defs>
<rect x="88.7" y="874.5" width="183" height="138" fill="#dadada"/>
<rect x="88.7" y="1012.3" width="183" height="43.8" fill="#d6d6d6"/>
<rect x="88.7" y="874.5" width="183" height="181.6" filter="url(#bnoise)" opacity="0.5"/>
<ellipse cx="118.8" cy="908.8" rx="6.8" ry="1.5" fill="#111" opacity="0.85" filter="url(#bblur)"/>
<ellipse cx="135.8" cy="908.6" rx="5.9" ry="1.9" fill="#111" opacity="0.95" filter="url(#bblur)"/>
<ellipse cx="158.2" cy="908.6" rx="6.9" ry="1.5" fill="#111" opacity="0.85" filter="url(#bblur)"/>
<ellipse cx="180.3" cy="908.6" rx="7.2" ry="1.9" fill="#111" opacity="0.95" filter="url(#bblur)"/>
<ellipse cx="200.4" cy="907.4" rx="8.0" ry="2.7" fill="#111" opacity="1.0" filter="url(#bblur)"/>
<ellipse cx="221.7" cy="907.2" rx="6.8" ry="1.9" fill="#111" opacity="0.9" filter="url(#bblur)"/>
<ellipse cx="242.1" cy="908.2" rx="7.0" ry="2.5" fill="#111" opacity="1.0" filter="url(#bblur)"/>
<ellipse cx="260.6" cy="908.8" rx="7.2" ry="2.1" fill="#111" opacity="0.95" filter="url(#bblur)"/>
<ellipse cx="180.3" cy="897" rx="7.2" ry="1.6" fill="#222" opacity="0.5" filter="url(#bblur)"/>
<ellipse cx="242.1" cy="897.5" rx="7.0" ry="1.3" fill="#222" opacity="0.4" filter="url(#bblur)"/>
<ellipse cx="221.7" cy="896" rx="6.8" ry="1.8" fill="#222" opacity="0.15" filter="url(#bblur)"/>
<ellipse cx="180.3" cy="916" rx="7.2" ry="2" fill="#222" opacity="0.1" filter="url(#bblur)"/>
<ellipse cx="243" cy="1000.7" rx="6.5" ry="1.6" fill="#111" opacity="0.85" filter="url(#bblur)"/>
<ellipse cx="180.5" cy="999.5" rx="6" ry="1.2" fill="#333" opacity="0.3" filter="url(#bblur)"/>
<rect x="90.0" y="1013.5" width="17.0" height="17.3" fill="#555" opacity="0.55" filter="url(#bblur2)"/>
<ellipse cx="98.5" cy="1017" rx="8.5" ry="1.1" fill="#333" opacity="0.28" filter="url(#bblur)"/>
<ellipse cx="98.5" cy="1021" rx="8.5" ry="1.1" fill="#333" opacity="0.28" filter="url(#bblur)"/>
<ellipse cx="98.5" cy="1025" rx="8.5" ry="1.1" fill="#333" opacity="0.28" filter="url(#bblur)"/>
<ellipse cx="98.5" cy="1030.8" rx="9.0" ry="3.6" fill="#0a0a0a" opacity="1.0" filter="url(#bblur)"/>
<rect x="91.0" y="1033.8" width="15.0" height="18.2" fill="#666" opacity="0.28" filter="url(#bblur2)"/>
<rect x="112.0" y="1013.5" width="16.0" height="18.0" fill="#555" opacity="0.60" filter="url(#bblur2)"/>
<ellipse cx="120.0" cy="1017" rx="8.0" ry="1.1" fill="#333" opacity="0.30" filter="url(#bblur)"/>
<ellipse cx="120.0" cy="1021" rx="8.0" ry="1.1" fill="#333" opacity="0.30" filter="url(#bblur)"/>
<ellipse cx="120.0" cy="1025" rx="8.0" ry="1.1" fill="#333" opacity="0.30" filter="url(#bblur)"/>
<ellipse cx="120.0" cy="1031.5" rx="8.5" ry="4.6" fill="#0a0a0a" opacity="1.0" filter="url(#bblur)"/>
<rect x="113.0" y="1034.5" width="14.0" height="17.5" fill="#666" opacity="0.30" filter="url(#bblur2)"/>
<rect x="131.6" y="1013.5" width="13.0" height="17.3" fill="#555" opacity="0.40" filter="url(#bblur2)"/>
<ellipse cx="138.1" cy="1017" rx="6.5" ry="1.1" fill="#333" opacity="0.20" filter="url(#bblur)"/>
<ellipse cx="138.1" cy="1021" rx="6.5" ry="1.1" fill="#333" opacity="0.20" filter="url(#bblur)"/>
<ellipse cx="138.1" cy="1025" rx="6.5" ry="1.1" fill="#333" opacity="0.20" filter="url(#bblur)"/>
<ellipse cx="138.1" cy="1030.8" rx="7.0" ry="3.4" fill="#0a0a0a" opacity="0.95" filter="url(#bblur)"/>
<rect x="132.6" y="1033.8" width="11.0" height="18.2" fill="#666" opacity="0.20" filter="url(#bblur2)"/>
<rect x="150.7" y="1013.5" width="16.1" height="16.8" fill="#555" opacity="0.25" filter="url(#bblur2)"/>
<ellipse cx="158.8" cy="1017" rx="8.1" ry="1.1" fill="#333" opacity="0.12" filter="url(#bblur)"/>
<ellipse cx="158.8" cy="1021" rx="8.1" ry="1.1" fill="#333" opacity="0.12" filter="url(#bblur)"/>
<ellipse cx="158.8" cy="1025" rx="8.1" ry="1.1" fill="#333" opacity="0.12" filter="url(#bblur)"/>
<ellipse cx="158.8" cy="1030.3" rx="8.6" ry="2.6" fill="#0a0a0a" opacity="0.9" filter="url(#bblur)"/>
<rect x="151.7" y="1033.3" width="14.1" height="18.7" fill="#666" opacity="0.12" filter="url(#bblur2)"/>
<rect x="173.2" y="1013.5" width="15.3" height="17.3" fill="#555" opacity="0.45" filter="url(#bblur2)"/>
<ellipse cx="180.8" cy="1017" rx="7.7" ry="1.1" fill="#333" opacity="0.23" filter="url(#bblur)"/>
<ellipse cx="180.8" cy="1021" rx="7.7" ry="1.1" fill="#333" opacity="0.23" filter="url(#bblur)"/>
<ellipse cx="180.8" cy="1025" rx="7.7" ry="1.1" fill="#333" opacity="0.23" filter="url(#bblur)"/>
<ellipse cx="180.8" cy="1030.8" rx="8.2" ry="3.4" fill="#0a0a0a" opacity="0.95" filter="url(#bblur)"/>
<rect x="174.2" y="1033.8" width="13.3" height="18.2" fill="#666" opacity="0.23" filter="url(#bblur2)"/>
<rect x="194.0" y="1013.5" width="15.0" height="16.8" fill="#555" opacity="0.30" filter="url(#bblur2)"/>
<ellipse cx="201.5" cy="1017" rx="7.5" ry="1.1" fill="#333" opacity="0.15" filter="url(#bblur)"/>
<ellipse cx="201.5" cy="1021" rx="7.5" ry="1.1" fill="#333" opacity="0.15" filter="url(#bblur)"/>
<ellipse cx="201.5" cy="1025" rx="7.5" ry="1.1" fill="#333" opacity="0.15" filter="url(#bblur)"/>
<ellipse cx="201.5" cy="1030.3" rx="8.0" ry="3.0" fill="#0a0a0a" opacity="0.9" filter="url(#bblur)"/>
<rect x="195.0" y="1033.3" width="13.0" height="18.7" fill="#666" opacity="0.15" filter="url(#bblur2)"/>
<rect x="215.4" y="1013.5" width="15.2" height="16.5" fill="#555" opacity="0.22" filter="url(#bblur2)"/>
<ellipse cx="223.0" cy="1017" rx="7.6" ry="1.1" fill="#333" opacity="0.11" filter="url(#bblur)"/>
<ellipse cx="223.0" cy="1021" rx="7.6" ry="1.1" fill="#333" opacity="0.11" filter="url(#bblur)"/>
<ellipse cx="223.0" cy="1025" rx="7.6" ry="1.1" fill="#333" opacity="0.11" filter="url(#bblur)"/>
<ellipse cx="223.0" cy="1030" rx="8.1" ry="2.6" fill="#0a0a0a" opacity="0.85" filter="url(#bblur)"/>
<rect x="216.4" y="1033.0" width="13.2" height="19.0" fill="#666" opacity="0.11" filter="url(#bblur2)"/>
<rect x="236.2" y="1013.5" width="14.4" height="18.0" fill="#555" opacity="0.55" filter="url(#bblur2)"/>
<ellipse cx="243.4" cy="1017" rx="7.2" ry="1.1" fill="#333" opacity="0.28" filter="url(#bblur)"/>
<ellipse cx="243.4" cy="1021" rx="7.2" ry="1.1" fill="#333" opacity="0.28" filter="url(#bblur)"/>
<ellipse cx="243.4" cy="1025" rx="7.2" ry="1.1" fill="#333" opacity="0.28" filter="url(#bblur)"/>
<ellipse cx="243.4" cy="1031.5" rx="7.7" ry="3.8" fill="#0a0a0a" opacity="1.0" filter="url(#bblur)"/>
<rect x="237.2" y="1034.5" width="12.4" height="17.5" fill="#666" opacity="0.28" filter="url(#bblur2)"/>
<rect x="255.0" y="1013.5" width="14.5" height="21.0" fill="#555" opacity="0.15" filter="url(#bblur2)"/>
<ellipse cx="262.2" cy="1017" rx="7.2" ry="1.1" fill="#333" opacity="0.07" filter="url(#bblur)"/>
<ellipse cx="262.2" cy="1021" rx="7.2" ry="1.1" fill="#333" opacity="0.07" filter="url(#bblur)"/>
<ellipse cx="262.2" cy="1025" rx="7.2" ry="1.1" fill="#333" opacity="0.07" filter="url(#bblur)"/>
<ellipse cx="262.2" cy="1034.5" rx="7.8" ry="2.6" fill="#0a0a0a" opacity="0.9" filter="url(#bblur)"/>
<rect x="256.0" y="1037.5" width="12.5" height="14.5" fill="#666" opacity="0.07" filter="url(#bblur2)"/>
<rect x="145.8" y="874" width="2.1" height="182" fill="#fff"/>
<line x1="271.5" y1="893" x2="278.4" y2="893" stroke="#000" stroke-width="1.9"/>
<text x="281.2" y="898.0" font-size="13" text-anchor="start" fill="#000" font-weight="normal" >250</text>
<line x1="271.5" y1="914.8" x2="278.4" y2="914.8" stroke="#000" stroke-width="1.9"/>
<text x="281.2" y="917.8" font-size="13" text-anchor="start" fill="#000" font-weight="normal" >150</text>
<line x1="271.5" y1="930.1" x2="278.4" y2="930.1" stroke="#000" stroke-width="1.9"/>
<text x="281.2" y="934.7" font-size="13" text-anchor="start" fill="#000" font-weight="normal" >100</text>
<line x1="271.5" y1="948.8" x2="278.4" y2="948.8" stroke="#000" stroke-width="1.9"/>
<text x="281.2" y="953.2" font-size="13" text-anchor="start" fill="#000" font-weight="normal" >75</text>
<line x1="271.5" y1="970.6" x2="278.4" y2="970.6" stroke="#000" stroke-width="1.9"/>
<text x="281.2" y="974.7" font-size="13" text-anchor="start" fill="#000" font-weight="normal" >50</text>
<line x1="271.5" y1="991.3" x2="278.4" y2="991.3" stroke="#000" stroke-width="1.9"/>
<text x="281.2" y="995.7" font-size="13" text-anchor="start" fill="#000" font-weight="normal" >37</text>
<line x1="271.5" y1="1013.4" x2="278.4" y2="1013.4" stroke="#000" stroke-width="1.9"/>
<text x="281.2" y="1017.7" font-size="13" text-anchor="start" fill="#000" font-weight="normal" >250</text>
<line x1="271.5" y1="1030.4" x2="278.4" y2="1030.4" stroke="#000" stroke-width="1.9"/>
<text x="281.2" y="1035.2" font-size="13" text-anchor="start" fill="#000" font-weight="normal" >150</text>
<line x1="271.5" y1="1048.8" x2="278.4" y2="1048.8" stroke="#000" stroke-width="1.9"/>
<text x="281.2" y="1059.2" font-size="13" text-anchor="start" fill="#000" font-weight="normal" >100</text>
<text x="308.8" y="813.7" font-size="22.5" text-anchor="start" fill="#000" font-weight="normal" >f</text>
<circle cx="353.4" cy="841.0" r="3.2" fill="#000"/>
<text x="359.9" y="845.2" font-size="12.5" text-anchor="start" fill="#000" font-weight="normal" >Normal</text>
<path d="M405.2,843.6 L412.0,843.6 L408.6,837.5 Z" fill="#4a90d9"/>
<text x="415.3" y="845.2" font-size="12.5" text-anchor="start" fill="#000" font-weight="normal" >Pancreatitis</text>
<rect x="350.2" y="852.4" width="6.4" height="6.4" fill="#bfbfbf"/>
<text x="359.9" y="859.8" font-size="12.5" text-anchor="start" fill="#000" font-weight="normal" >PanIN</text>
<path d="M405.2,853.0 L412.0,853.0 L408.6,859.1 Z" fill="#c8202d"/>
<text x="415.3" y="859.8" font-size="12.5" text-anchor="start" fill="#000" font-weight="normal" >PDAC</text>
<rect x="354" y="863.8" width="80.9" height="22.8" fill="#ececec"/>
<text x="393.4" y="879.9" font-size="12.8" text-anchor="middle" fill="#000" font-weight="bold" >Human</text>
<line x1="380.3" y1="886.6" x2="380.3" y2="1005" stroke="#bbb" stroke-width="0.8" stroke-dasharray="2 2"/>
<line x1="409.5" y1="886.6" x2="409.5" y2="1005" stroke="#bbb" stroke-width="0.8" stroke-dasharray="2 2"/>
<line x1="437.2" y1="863.8" x2="437.2" y2="1005" stroke="#bbb" stroke-width="0.8" stroke-dasharray="2 2"/>
<line x1="466.4" y1="863.8" x2="466.4" y2="1005" stroke="#bbb" stroke-width="0.8" stroke-dasharray="2 2"/>
<line x1="352.6" y1="862.8" x2="352.6" y2="1007.6" stroke="#000" stroke-width="2.1"/>
<line x1="351.6" y1="1006.5" x2="494.2" y2="1006.5" stroke="#000" stroke-width="2.1"/>
<line x1="347.6" y1="1006.5" x2="352.6" y2="1006.5" stroke="#000" stroke-width="1.6"/>
<text x="346.8" y="1010.9" font-size="12.5" text-anchor="end" fill="#000" font-weight="normal" >0</text>
<line x1="347.6" y1="978.0" x2="352.6" y2="978.0" stroke="#000" stroke-width="1.6"/>
<text x="346.8" y="982.4" font-size="12.5" text-anchor="end" fill="#000" font-weight="normal" >2</text>
<line x1="347.6" y1="949.4" x2="352.6" y2="949.4" stroke="#000" stroke-width="1.6"/>
<text x="346.8" y="953.8" font-size="12.5" text-anchor="end" fill="#000" font-weight="normal" >4</text>
<line x1="347.6" y1="920.9" x2="352.6" y2="920.9" stroke="#000" stroke-width="1.6"/>
<text x="346.8" y="925.3" font-size="12.5" text-anchor="end" fill="#000" font-weight="normal" >6</text>
<line x1="347.6" y1="892.3" x2="352.6" y2="892.3" stroke="#000" stroke-width="1.6"/>
<text x="346.8" y="896.7" font-size="12.5" text-anchor="end" fill="#000" font-weight="normal" >8</text>
<line x1="347.6" y1="863.8" x2="352.6" y2="863.8" stroke="#000" stroke-width="1.6"/>
<text x="346.8" y="868.2" font-size="12.5" text-anchor="end" fill="#000" font-weight="normal" >10</text>
<line x1="366.6" y1="1006.5" x2="366.6" y2="1011" stroke="#000" stroke-width="1.6"/>
<text transform="translate(371.1,1019.5) rotate(-45)" font-size="12.5" text-anchor="end">α1(I)</text>
<line x1="394.9" y1="1006.5" x2="394.9" y2="1011" stroke="#000" stroke-width="1.6"/>
<text transform="translate(399.4,1019.5) rotate(-45)" font-size="12.5" text-anchor="end">α2(I)</text>
<line x1="423.2" y1="1006.5" x2="423.2" y2="1011" stroke="#000" stroke-width="1.6"/>
<text transform="translate(427.7,1019.5) rotate(-45)" font-size="12.5" text-anchor="end">α1(III)</text>
<line x1="451.8" y1="1006.5" x2="451.8" y2="1011" stroke="#000" stroke-width="1.6"/>
<text transform="translate(456.3,1019.5) rotate(-45)" font-size="12.5" text-anchor="end">α1(V)<tspan font-size="8" dy="-5">*</tspan></text>
<line x1="480.1" y1="1006.5" x2="480.1" y2="1011" stroke="#000" stroke-width="1.6"/>
<text transform="translate(484.6,1019.5) rotate(-45)" font-size="12.5" text-anchor="end">α2(V)</text>
<text transform="translate(330.8,935) rotate(-90)" font-size="12" text-anchor="middle">%Retained C-prodomains</text>
<circle cx="357.5" cy="1001.5" r="3.3" fill="#000"/>
<rect x="360.3" y="997.4" width="6.6" height="6.6" fill="#bfbfbf"/>
<path d="M365.7,1001.5 L372.7,1001.5 L369.2,995.3 Z" fill="#4a90d9"/>
<path d="M371.8,993.1 L378.8,993.1 L375.3,999.3 Z" fill="#c8202d"/>
<circle cx="385.5" cy="998.0" r="3.3" fill="#000"/>
<rect x="388.7" y="991.5" width="6.6" height="6.6" fill="#bfbfbf"/>
<path d="M394.6,987.2 L401.6,987.2 L398.1,981.0 Z" fill="#4a90d9"/>
<path d="M400.5,975.6 L407.5,975.6 L404.0,981.8 Z" fill="#c8202d"/>
<circle cx="413.9" cy="995.4" r="3.3" fill="#000"/>
<rect x="416.7" y="988.0" width="6.6" height="6.6" fill="#bfbfbf"/>
<path d="M422.6,971.4 L429.6,971.4 L426.1,965.2 Z" fill="#4a90d9"/>
<path d="M428.8,961.0 L435.8,961.0 L432.3,967.2 Z" fill="#c8202d"/>
<circle cx="442.5" cy="982.8" r="3.3" fill="#000"/>
<rect x="445.6" y="961.2" width="6.6" height="6.6" fill="#bfbfbf"/>
<path d="M451.2,935.5 L458.2,935.5 L454.7,929.3 Z" fill="#4a90d9"/>
<path d="M457.1,928.9 L464.1,928.9 L460.6,935.1 Z" fill="#c8202d"/>
<circle cx="471.1" cy="974.4" r="3.3" fill="#000"/>
<rect x="473.6" y="932.0" width="6.6" height="6.6" fill="#bfbfbf"/>
<path d="M479.9,881.0 L486.9,881.0 L483.4,874.8 Z" fill="#4a90d9"/>
<path d="M485.7,887.4 L492.7,887.4 L489.2,893.6 Z" fill="#c8202d"/>
<circle cx="544.3" cy="841.0" r="3.2" fill="#000"/>
<text x="550.7" y="845.2" font-size="12.5" text-anchor="start" fill="#000" font-weight="normal" >Normal</text>
<path d="M596.1,843.6 L602.9,843.6 L599.5,837.5 Z" fill="#4a90d9"/>
<text x="605.6" y="845.2" font-size="12.5" text-anchor="start" fill="#000" font-weight="normal" >Late PanIN</text>
<rect x="541.1" y="852.4" width="6.4" height="6.4" fill="#bfbfbf"/>
<text x="550.7" y="859.8" font-size="12.5" text-anchor="start" fill="#000" font-weight="normal" >Early panIN</text>
<path d="M623.8,853.0 L630.6,853.0 L627.2,859.1 Z" fill="#c8202d"/>
<text x="633.3" y="859.8" font-size="12.5" text-anchor="start" fill="#000" font-weight="normal" >PDAC</text>
<rect x="544.9" y="863.8" width="81.1" height="22.8" fill="#ececec"/>
<text x="584.5" y="879.9" font-size="12.8" text-anchor="middle" fill="#000" font-weight="bold" >Mouse</text>
<line x1="570.5" y1="886.6" x2="570.5" y2="1005" stroke="#bbb" stroke-width="0.8" stroke-dasharray="2 2"/>
<line x1="599.5" y1="886.6" x2="599.5" y2="1005" stroke="#bbb" stroke-width="0.8" stroke-dasharray="2 2"/>
<line x1="628" y1="863.8" x2="628" y2="1005" stroke="#bbb" stroke-width="0.8" stroke-dasharray="2 2"/>
<line x1="656.7" y1="863.8" x2="656.7" y2="1005" stroke="#bbb" stroke-width="0.8" stroke-dasharray="2 2"/>
<line x1="542.5" y1="862.8" x2="542.5" y2="1007.6" stroke="#000" stroke-width="2.1"/>
<line x1="541.5" y1="1006.5" x2="685" y2="1006.5" stroke="#000" stroke-width="2.1"/>
<line x1="537.5" y1="1006.5" x2="542.5" y2="1006.5" stroke="#000" stroke-width="1.6"/>
<text x="536.7" y="1010.9" font-size="12.5" text-anchor="end" fill="#000" font-weight="normal" >0</text>
<line x1="537.5" y1="978.0" x2="542.5" y2="978.0" stroke="#000" stroke-width="1.6"/>
<text x="536.7" y="982.4" font-size="12.5" text-anchor="end" fill="#000" font-weight="normal" >2</text>
<line x1="537.5" y1="949.4" x2="542.5" y2="949.4" stroke="#000" stroke-width="1.6"/>
<text x="536.7" y="953.8" font-size="12.5" text-anchor="end" fill="#000" font-weight="normal" >4</text>
<line x1="537.5" y1="920.9" x2="542.5" y2="920.9" stroke="#000" stroke-width="1.6"/>
<text x="536.7" y="925.3" font-size="12.5" text-anchor="end" fill="#000" font-weight="normal" >6</text>
<line x1="537.5" y1="892.3" x2="542.5" y2="892.3" stroke="#000" stroke-width="1.6"/>
<text x="536.7" y="896.7" font-size="12.5" text-anchor="end" fill="#000" font-weight="normal" >8</text>
<line x1="537.5" y1="863.8" x2="542.5" y2="863.8" stroke="#000" stroke-width="1.6"/>
<text x="536.7" y="868.2" font-size="12.5" text-anchor="end" fill="#000" font-weight="normal" >10</text>
<line x1="556.5" y1="1006.5" x2="556.5" y2="1011" stroke="#000" stroke-width="1.6"/>
<text transform="translate(561.0,1019.5) rotate(-45)" font-size="12.5" text-anchor="end">α1(I)</text>
<line x1="585.1" y1="1006.5" x2="585.1" y2="1011" stroke="#000" stroke-width="1.6"/>
<text transform="translate(589.6,1019.5) rotate(-45)" font-size="12.5" text-anchor="end">α2(I)</text>
<line x1="613.5" y1="1006.5" x2="613.5" y2="1011" stroke="#000" stroke-width="1.6"/>
<text transform="translate(618.0,1019.5) rotate(-45)" font-size="12.5" text-anchor="end">α1(III)</text>
<line x1="641.8" y1="1006.5" x2="641.8" y2="1011" stroke="#000" stroke-width="1.6"/>
<text transform="translate(646.3,1019.5) rotate(-45)" font-size="12.5" text-anchor="end">α1(V)<tspan font-size="8" dy="-5">*</tspan></text>
<line x1="670.4" y1="1006.5" x2="670.4" y2="1011" stroke="#000" stroke-width="1.6"/>
<text transform="translate(674.9,1019.5) rotate(-45)" font-size="12.5" text-anchor="end">α2(V)</text>
<text transform="translate(523.1,935) rotate(-90)" font-size="12" text-anchor="middle">%Retained C-prodomains</text>
<circle cx="547.8" cy="1000.0" r="3.3" fill="#000"/>
<rect x="550.9" y="992.4" width="6.6" height="6.6" fill="#bfbfbf"/>
<path d="M556.8,998.9 L563.8,998.9 L560.3,992.7 Z" fill="#4a90d9"/>
<path d="M562.7,983.8 L569.7,983.8 L566.2,990.0 Z" fill="#c8202d"/>
<circle cx="576.1" cy="984.0" r="3.3" fill="#000"/>
<rect x="579.2" y="971.1" width="6.6" height="6.6" fill="#bfbfbf"/>
<path d="M584.6,981.4 L591.6,981.4 L588.1,975.2 Z" fill="#4a90d9"/>
<path d="M591.0,949.9 L598.0,949.9 L594.5,956.1 Z" fill="#c8202d"/>
<circle cx="604.7" cy="994.8" r="3.3" fill="#000"/>
<rect x="607.8" y="976.3" width="6.6" height="6.6" fill="#bfbfbf"/>
<path d="M613.5,978.1 L620.5,978.1 L617.0,971.9 Z" fill="#4a90d9"/>
<path d="M619.3,955.4 L626.3,955.4 L622.8,961.6 Z" fill="#c8202d"/>
<circle cx="633.0" cy="967.1" r="3.3" fill="#000"/>
<rect x="635.9" y="938.7" width="6.6" height="6.6" fill="#bfbfbf"/>
<path d="M641.5,919.0 L648.5,919.0 L645.0,912.8 Z" fill="#4a90d9"/>
<path d="M647.9,874.9 L654.9,874.9 L651.4,881.1 Z" fill="#c8202d"/>
<circle cx="661.0" cy="985.8" r="3.3" fill="#000"/>
<rect x="664.2" y="974.3" width="6.6" height="6.6" fill="#bfbfbf"/>
<path d="M670.1,976.4 L677.1,976.4 L673.6,970.2 Z" fill="#4a90d9"/>
<path d="M676.2,955.7 L683.2,955.7 L679.7,961.9 Z" fill="#c8202d"/>
</svg></body></html>
